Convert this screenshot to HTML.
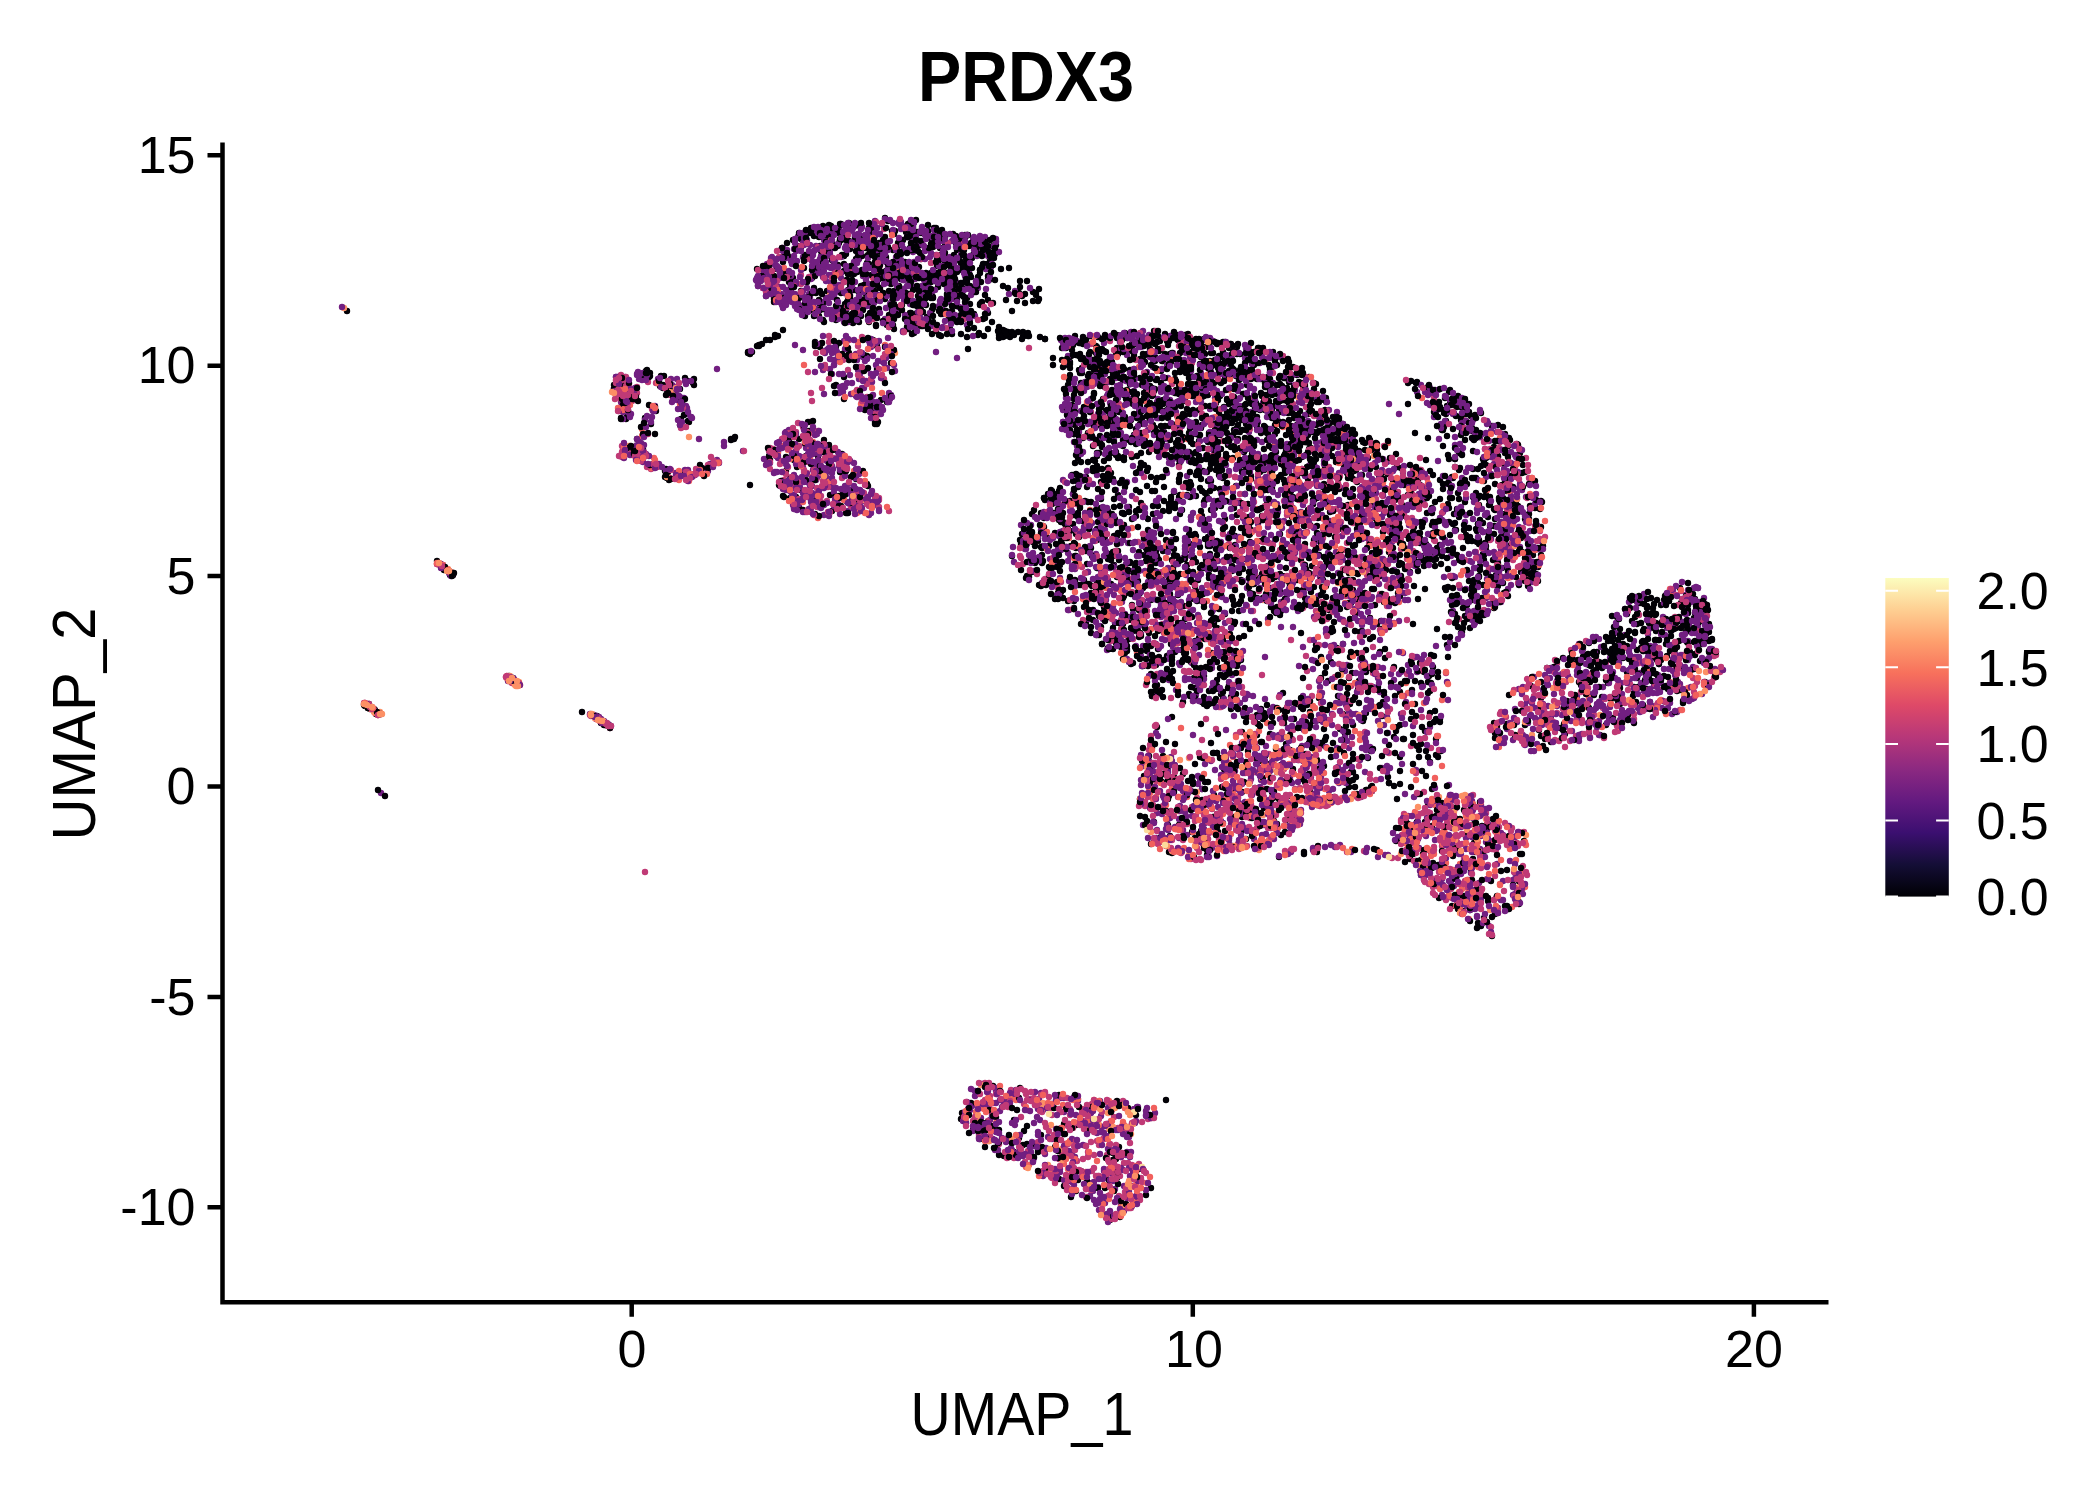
<!DOCTYPE html>
<html><head><meta charset="utf-8"><title>PRDX3</title><style>
html,body{margin:0;padding:0;background:#fff;width:2100px;height:1500px;overflow:hidden;}
svg{display:block;}
text{font-family:"Liberation Sans",sans-serif;fill:#000;}
</style></head><body>
<svg width="2100" height="1500" viewBox="0 0 2100 1500">
<defs>
<linearGradient id="mg" x1="0" y1="1" x2="0" y2="0">
<stop offset="0" stop-color="#000004"/>
<stop offset="0.1" stop-color="#140e36"/>
<stop offset="0.2" stop-color="#3b0f70"/>
<stop offset="0.3" stop-color="#641a80"/>
<stop offset="0.4" stop-color="#8c2981"/>
<stop offset="0.5" stop-color="#b73779"/>
<stop offset="0.6" stop-color="#de4968"/>
<stop offset="0.7" stop-color="#f7705c"/>
<stop offset="0.8" stop-color="#fe9f6d"/>
<stop offset="0.9" stop-color="#fecf92"/>
<stop offset="1" stop-color="#fcfdbf"/>
</linearGradient>
</defs>
<g fill="none" stroke-width="6.4" stroke-linecap="round">
<path stroke="#020106" d="M369 704h0M367 705h0M370 708h0M375 710h0M376 714h0M437 561h0M450 575h0M509 676h0M508 678h0M519 684h0M582 712h0M597 716h0M597 717h0M650 373h0M650 376h0M634 394h0M638 401h0M656 411h0M627 417h0M621 418h0M651 424h0M637 439h0M634 447h0M637 449h0M641 460h0M664 376h0M661 376h0M694 379h0M688 381h0M693 382h0M660 386h0M667 390h0M675 390h0M683 400h0M681 419h0M689 422h0M680 425h0M666 469h0M685 471h0M665 471h0M668 472h0M667 477h0M700 465h0M757 269h0M763 275h0M778 287h0M762 344h0M759 345h0M814 236h0M798 237h0M797 246h0M783 258h0M783 272h0M789 276h0M792 278h0M793 278h0M789 282h0M792 282h0M816 293h0M815 342h0M815 346h0M820 347h0M809 431h0M807 435h0M799 439h0M789 441h0M808 448h0M786 471h0M790 478h0M800 489h0M801 490h0M796 497h0M790 498h0M799 507h0M815 514h0M827 231h0M832 234h0M841 240h0M840 240h0M851 243h0M850 246h0M844 256h0M856 259h0M838 265h0M852 266h0M846 267h0M844 271h0M857 272h0M839 273h0M844 281h0M850 285h0M851 289h0M820 291h0M824 302h0M845 304h0M841 308h0M826 310h0M844 317h0M849 318h0M853 319h0M836 320h0M859 322h0M853 323h0M849 353h0M842 358h0M839 359h0M849 360h0M844 399h0M842 454h0M839 454h0M842 466h0M856 479h0M853 489h0M830 495h0M854 497h0M855 506h0M832 511h0M888 221h0M873 228h0M869 228h0M893 231h0M892 231h0M869 233h0M872 240h0M866 242h0M898 243h0M879 243h0M869 245h0M869 245h0M898 246h0M893 250h0M879 251h0M898 252h0M876 253h0M868 255h0M897 257h0M886 259h0M867 263h0M869 264h0M885 273h0M879 279h0M891 284h0M867 287h0M880 288h0M868 293h0M883 293h0M865 293h0M867 299h0M865 299h0M866 303h0M891 303h0M879 309h0M898 309h0M889 315h0M875 316h0M869 322h0M876 326h0M873 340h0M893 353h0M866 359h0M891 363h0M869 406h0M873 412h0M875 424h0M867 484h0M860 497h0M875 499h0M910 223h0M918 232h0M937 235h0M915 235h0M932 242h0M914 244h0M938 244h0M919 245h0M920 245h0M910 248h0M904 250h0M920 253h0M937 258h0M921 259h0M906 267h0M908 273h0M912 273h0M919 276h0M938 276h0M923 276h0M907 277h0M935 277h0M916 277h0M904 278h0M901 279h0M912 279h0M903 289h0M910 294h0M926 295h0M918 296h0M933 298h0M911 300h0M918 304h0M926 305h0M902 305h0M901 308h0M921 310h0M910 313h0M927 317h0M908 329h0M932 334h0M912 334h0M942 230h0M966 236h0M962 240h0M956 243h0M945 246h0M957 250h0M972 258h0M966 259h0M945 262h0M951 270h0M963 270h0M962 270h0M941 273h0M978 277h0M951 278h0M967 283h0M945 283h0M944 284h0M976 287h0M954 291h0M956 295h0M980 305h0M973 314h0M961 315h0M949 317h0M967 318h0M959 320h0M953 320h0M961 322h0M974 328h0M950 329h0M952 334h0M967 337h0M962 1113h0M961 1119h0M973 1130h0M980 1139h0M980 242h0M984 244h0M996 245h0M995 245h0M982 247h0M994 247h0M987 248h0M996 252h0M992 253h0M995 254h0M994 258h0M990 260h0M984 264h0M983 264h0M987 264h0M986 269h0M988 276h0M1017 301h0M982 302h0M988 313h0M999 327h0M1003 335h0M1010 337h0M1007 1098h0M994 1111h0M996 1117h0M1007 1141h0M1014 1152h0M999 1155h0M1039 299h0M1025 303h0M1023 332h0M1045 339h0M1051 490h0M1052 491h0M1058 495h0M1045 500h0M1052 504h0M1034 510h0M1041 513h0M1059 513h0M1057 518h0M1059 520h0M1029 530h0M1024 532h0M1032 533h0M1055 533h0M1022 534h0M1046 535h0M1032 537h0M1038 541h0M1049 546h0M1042 548h0M1042 555h0M1035 563h0M1042 563h0M1035 563h0M1049 567h0M1021 570h0M1032 572h0M1027 576h0M1039 585h0M1058 593h0M1057 1098h0M1045 1107h0M1041 1135h0M1023 1145h0M1090 336h0M1098 337h0M1086 340h0M1082 342h0M1068 342h0M1065 344h0M1073 345h0M1096 346h0M1097 347h0M1066 348h0M1100 351h0M1096 353h0M1080 354h0M1076 355h0M1079 356h0M1092 360h0M1065 362h0M1070 362h0M1099 365h0M1091 366h0M1069 366h0M1070 368h0M1099 369h0M1080 373h0M1089 374h0M1088 376h0M1092 376h0M1096 379h0M1080 387h0M1078 389h0M1074 389h0M1075 390h0M1094 393h0M1098 404h0M1072 405h0M1088 406h0M1073 406h0M1074 408h0M1099 409h0M1073 410h0M1068 416h0M1072 417h0M1081 422h0M1075 424h0M1093 424h0M1075 425h0M1088 433h0M1097 453h0M1093 468h0M1072 475h0M1086 477h0M1087 487h0M1060 488h0M1070 501h0M1085 501h0M1088 502h0M1091 502h0M1080 508h0M1098 522h0M1090 523h0M1065 524h0M1097 529h0M1070 531h0M1076 534h0M1065 538h0M1097 540h0M1076 548h0M1091 548h0M1087 564h0M1078 565h0M1072 568h0M1084 580h0M1074 581h0M1079 585h0M1092 586h0M1061 592h0M1091 593h0M1072 600h0M1068 601h0M1074 601h0M1084 607h0M1086 623h0M1076 1125h0M1064 1186h0M1073 1191h0M1071 1197h0M1117 335h0M1114 335h0M1139 336h0M1127 338h0M1117 338h0M1132 344h0M1117 348h0M1102 349h0M1118 353h0M1109 361h0M1109 363h0M1104 368h0M1101 368h0M1111 370h0M1133 374h0M1114 375h0M1123 377h0M1102 383h0M1124 394h0M1115 394h0M1124 395h0M1134 397h0M1103 399h0M1116 407h0M1101 407h0M1100 407h0M1140 408h0M1100 408h0M1119 409h0M1106 411h0M1109 412h0M1101 414h0M1131 420h0M1128 423h0M1101 426h0M1115 426h0M1113 432h0M1134 435h0M1126 440h0M1123 440h0M1100 442h0M1111 453h0M1116 455h0M1118 456h0M1108 456h0M1132 457h0M1108 468h0M1102 469h0M1111 473h0M1108 474h0M1113 479h0M1136 490h0M1101 499h0M1114 507h0M1139 509h0M1110 515h0M1132 519h0M1113 520h0M1124 525h0M1101 538h0M1108 559h0M1119 560h0M1130 562h0M1135 567h0M1133 572h0M1118 573h0M1111 584h0M1102 586h0M1126 593h0M1104 607h0M1109 609h0M1139 610h0M1109 613h0M1112 614h0M1132 620h0M1115 623h0M1128 636h0M1119 637h0M1117 638h0M1129 639h0M1108 648h0M1128 1108h0M1119 1147h0M1113 1153h0M1113 1160h0M1130 1167h0M1139 1169h0M1134 1174h0M1133 1174h0M1117 1178h0M1133 1201h0M1101 1212h0M1120 1217h0M1110 1220h0M1155 335h0M1166 338h0M1177 339h0M1150 340h0M1160 341h0M1146 342h0M1149 342h0M1143 354h0M1145 355h0M1155 360h0M1162 361h0M1145 362h0M1143 362h0M1157 369h0M1161 371h0M1143 382h0M1144 385h0M1150 386h0M1169 390h0M1146 391h0M1144 393h0M1175 393h0M1179 394h0M1163 400h0M1147 401h0M1160 402h0M1169 407h0M1156 411h0M1147 416h0M1168 418h0M1179 420h0M1172 424h0M1169 426h0M1178 429h0M1164 432h0M1154 433h0M1154 433h0M1167 435h0M1140 437h0M1165 439h0M1159 440h0M1150 443h0M1176 449h0M1178 452h0M1167 455h0M1178 457h0M1141 463h0M1179 465h0M1147 471h0M1151 477h0M1179 479h0M1147 486h0M1179 497h0M1171 497h0M1153 506h0M1154 533h0M1166 540h0M1171 544h0M1167 548h0M1146 548h0M1153 550h0M1163 551h0M1156 551h0M1144 555h0M1152 562h0M1176 564h0M1173 568h0M1173 570h0M1155 571h0M1147 574h0M1177 577h0M1173 582h0M1169 583h0M1175 587h0M1180 589h0M1140 593h0M1178 595h0M1163 600h0M1151 600h0M1172 601h0M1166 603h0M1164 603h0M1165 604h0M1151 646h0M1150 646h0M1147 651h0M1175 652h0M1167 656h0M1156 665h0M1152 665h0M1163 680h0M1151 692h0M1154 692h0M1178 695h0M1152 696h0M1172 717h0M1143 748h0M1163 756h0M1148 773h0M1174 777h0M1162 782h0M1173 783h0M1172 784h0M1167 797h0M1147 821h0M1161 837h0M1169 852h0M1151 1188h0M1188 334h0M1185 335h0M1204 339h0M1196 339h0M1196 344h0M1187 349h0M1180 353h0M1205 354h0M1198 355h0M1219 356h0M1220 357h0M1191 360h0M1210 361h0M1214 362h0M1212 362h0M1187 363h0M1183 363h0M1200 364h0M1209 367h0M1212 376h0M1211 381h0M1202 388h0M1184 392h0M1197 393h0M1220 396h0M1182 397h0M1218 400h0M1216 403h0M1199 410h0M1190 414h0M1217 418h0M1220 422h0M1201 428h0M1209 433h0M1199 435h0M1215 437h0M1183 437h0M1215 438h0M1214 439h0M1199 441h0M1193 444h0M1203 448h0M1180 450h0M1182 451h0M1217 457h0M1199 458h0M1199 459h0M1212 463h0M1210 469h0M1197 472h0M1196 475h0M1199 475h0M1211 481h0M1214 488h0M1220 489h0M1180 495h0M1196 496h0M1215 508h0M1182 510h0M1201 511h0M1202 516h0M1191 517h0M1210 531h0M1208 537h0M1205 539h0M1209 541h0M1208 544h0M1200 547h0M1187 550h0M1210 554h0M1185 559h0M1193 562h0M1196 562h0M1187 565h0M1209 570h0M1180 574h0M1198 580h0M1213 584h0M1182 587h0M1184 606h0M1204 607h0M1219 609h0M1192 617h0M1199 618h0M1185 619h0M1199 623h0M1214 623h0M1201 623h0M1212 624h0M1183 625h0M1217 628h0M1196 646h0M1184 647h0M1212 653h0M1185 655h0M1185 657h0M1191 662h0M1199 676h0M1203 685h0M1191 687h0M1219 688h0M1195 688h0M1214 689h0M1190 696h0M1204 697h0M1202 702h0M1211 743h0M1203 758h0M1195 764h0M1200 778h0M1193 782h0M1205 782h0M1214 795h0M1213 817h0M1212 819h0M1201 831h0M1192 832h0M1206 832h0M1230 344h0M1247 346h0M1237 347h0M1259 348h0M1249 351h0M1255 352h0M1235 353h0M1225 360h0M1254 365h0M1233 369h0M1248 370h0M1229 371h0M1225 376h0M1236 376h0M1248 376h0M1255 377h0M1251 379h0M1247 385h0M1244 394h0M1256 403h0M1255 408h0M1260 410h0M1232 410h0M1234 414h0M1245 417h0M1224 417h0M1242 420h0M1229 423h0M1238 425h0M1222 427h0M1220 428h0M1237 428h0M1238 439h0M1254 446h0M1235 450h0M1244 452h0M1253 457h0M1233 458h0M1228 458h0M1246 465h0M1246 467h0M1222 470h0M1242 472h0M1251 476h0M1223 478h0M1236 486h0M1254 494h0M1248 504h0M1258 510h0M1225 519h0M1249 526h0M1241 528h0M1250 534h0M1235 545h0M1231 547h0M1234 548h0M1242 550h0M1249 557h0M1234 558h0M1239 561h0M1232 571h0M1250 571h0M1239 573h0M1251 573h0M1249 578h0M1259 578h0M1251 599h0M1239 604h0M1234 605h0M1239 611h0M1230 634h0M1241 660h0M1227 664h0M1228 666h0M1220 668h0M1228 671h0M1229 685h0M1233 691h0M1221 694h0M1236 694h0M1246 695h0M1231 697h0M1223 698h0M1244 716h0M1253 717h0M1255 722h0M1258 724h0M1242 732h0M1257 735h0M1256 758h0M1246 762h0M1236 766h0M1233 787h0M1222 787h0M1255 788h0M1242 792h0M1250 810h0M1233 817h0M1246 839h0M1273 352h0M1281 356h0M1283 358h0M1269 365h0M1288 367h0M1297 375h0M1299 382h0M1265 383h0M1294 389h0M1284 394h0M1277 394h0M1290 396h0M1262 396h0M1284 400h0M1280 401h0M1276 401h0M1269 403h0M1289 404h0M1280 408h0M1285 409h0M1272 409h0M1287 411h0M1282 412h0M1292 412h0M1292 413h0M1277 415h0M1298 416h0M1294 418h0M1276 420h0M1264 426h0M1269 429h0M1281 441h0M1299 442h0M1275 443h0M1273 448h0M1264 449h0M1284 456h0M1290 457h0M1264 458h0M1288 459h0M1293 462h0M1273 462h0M1264 463h0M1281 464h0M1286 467h0M1273 469h0M1289 470h0M1285 470h0M1289 471h0M1285 473h0M1297 477h0M1294 478h0M1270 481h0M1285 490h0M1267 501h0M1285 506h0M1298 513h0M1276 516h0M1292 517h0M1297 521h0M1269 522h0M1276 522h0M1296 535h0M1261 541h0M1272 544h0M1293 549h0M1268 566h0M1263 569h0M1275 577h0M1297 580h0M1283 581h0M1290 581h0M1289 582h0M1265 584h0M1290 586h0M1277 607h0M1271 607h0M1281 611h0M1276 613h0M1297 704h0M1261 709h0M1285 710h0M1287 711h0M1263 716h0M1285 718h0M1273 723h0M1270 734h0M1286 744h0M1294 757h0M1293 769h0M1288 818h0M1286 820h0M1264 823h0M1302 368h0M1301 371h0M1309 377h0M1314 383h0M1301 383h0M1313 383h0M1303 385h0M1305 395h0M1325 398h0M1321 399h0M1311 399h0M1319 402h0M1325 410h0M1308 414h0M1339 418h0M1326 419h0M1339 420h0M1335 421h0M1302 428h0M1304 430h0M1324 431h0M1336 439h0M1325 439h0M1332 439h0M1338 445h0M1309 449h0M1311 451h0M1308 452h0M1302 457h0M1325 459h0M1310 459h0M1336 460h0M1325 461h0M1336 462h0M1326 470h0M1329 473h0M1308 479h0M1335 492h0M1304 494h0M1317 498h0M1313 504h0M1328 507h0M1321 508h0M1308 510h0M1326 523h0M1339 529h0M1335 537h0M1320 538h0M1321 543h0M1305 544h0M1319 555h0M1301 560h0M1312 566h0M1319 569h0M1322 587h0M1314 587h0M1303 590h0M1301 591h0M1311 592h0M1300 595h0M1305 598h0M1306 605h0M1329 610h0M1318 617h0M1321 618h0M1332 628h0M1330 632h0M1316 645h0M1337 648h0M1336 650h0M1321 657h0M1303 678h0M1328 681h0M1319 698h0M1322 743h0M1333 743h0M1320 746h0M1335 774h0M1334 797h0M1302 798h0M1317 805h0M1304 854h0M1343 424h0M1342 432h0M1343 433h0M1341 438h0M1351 442h0M1354 443h0M1372 446h0M1374 449h0M1365 450h0M1359 451h0M1354 451h0M1345 457h0M1376 467h0M1354 471h0M1347 473h0M1361 491h0M1374 494h0M1345 494h0M1373 505h0M1348 505h0M1349 510h0M1374 513h0M1374 518h0M1379 524h0M1376 546h0M1378 549h0M1372 553h0M1355 557h0M1375 571h0M1349 573h0M1351 573h0M1358 574h0M1380 576h0M1341 578h0M1353 580h0M1362 584h0M1343 586h0M1353 590h0M1356 593h0M1354 593h0M1358 600h0M1351 603h0M1348 603h0M1375 605h0M1340 609h0M1362 631h0M1355 631h0M1364 635h0M1373 637h0M1343 644h0M1366 650h0M1357 653h0M1350 657h0M1363 661h0M1370 668h0M1349 678h0M1359 681h0M1378 687h0M1379 706h0M1366 713h0M1343 714h0M1363 721h0M1340 729h0M1344 730h0M1353 754h0M1368 758h0M1353 780h0M1355 787h0M1349 787h0M1345 791h0M1359 797h0M1374 849h0M1411 381h0M1408 383h0M1397 467h0M1401 468h0M1414 477h0M1393 480h0M1415 486h0M1382 503h0M1402 505h0M1416 506h0M1390 515h0M1381 517h0M1399 523h0M1392 525h0M1414 527h0M1383 532h0M1418 534h0M1406 535h0M1396 536h0M1411 538h0M1410 539h0M1420 543h0M1390 551h0M1414 557h0M1396 558h0M1384 561h0M1400 563h0M1418 571h0M1410 572h0M1401 576h0M1400 579h0M1399 584h0M1414 586h0M1398 593h0M1385 597h0M1388 599h0M1389 627h0M1381 629h0M1380 652h0M1385 658h0M1384 695h0M1383 702h0M1415 704h0M1382 716h0M1400 725h0M1397 727h0M1396 731h0M1413 735h0M1394 737h0M1389 745h0M1394 786h0M1418 794h0M1403 838h0M1416 844h0M1413 854h0M1410 859h0M1416 861h0M1435 390h0M1450 390h0M1428 392h0M1434 394h0M1458 396h0M1445 398h0M1458 398h0M1439 402h0M1450 403h0M1447 406h0M1456 406h0M1457 407h0M1444 410h0M1446 414h0M1444 427h0M1443 430h0M1428 438h0M1443 446h0M1448 455h0M1430 471h0M1452 477h0M1453 478h0M1440 480h0M1460 484h0M1458 493h0M1429 496h0M1459 499h0M1423 502h0M1448 504h0M1449 508h0M1432 513h0M1455 523h0M1432 525h0M1455 530h0M1420 533h0M1433 533h0M1437 553h0M1421 556h0M1459 560h0M1441 564h0M1425 589h0M1456 604h0M1452 605h0M1447 645h0M1420 663h0M1433 667h0M1424 672h0M1429 676h0M1438 677h0M1428 682h0M1431 683h0M1435 711h0M1440 719h0M1422 727h0M1436 739h0M1428 757h0M1428 803h0M1450 803h0M1436 816h0M1453 824h0M1432 826h0M1457 826h0M1456 848h0M1458 852h0M1423 854h0M1421 860h0M1433 863h0M1445 865h0M1452 906h0M1462 399h0M1469 404h0M1464 405h0M1461 407h0M1471 416h0M1461 418h0M1461 420h0M1498 425h0M1492 426h0M1471 430h0M1462 431h0M1471 431h0M1480 437h0M1465 440h0M1494 447h0M1484 462h0M1486 465h0M1478 469h0M1473 469h0M1484 481h0M1476 493h0M1473 497h0M1478 498h0M1489 499h0M1476 500h0M1479 505h0M1495 510h0M1486 515h0M1488 517h0M1478 524h0M1494 526h0M1488 532h0M1494 534h0M1466 535h0M1479 540h0M1472 541h0M1479 542h0M1484 555h0M1463 561h0M1461 561h0M1479 576h0M1478 583h0M1496 583h0M1483 585h0M1495 585h0M1486 585h0M1498 586h0M1472 587h0M1474 596h0M1472 600h0M1467 605h0M1494 608h0M1463 628h0M1470 628h0M1462 632h0M1495 738h0M1480 802h0M1467 833h0M1474 843h0M1488 848h0M1475 852h0M1473 859h0M1471 872h0M1463 897h0M1470 910h0M1492 917h0M1484 918h0M1478 923h0M1481 926h0M1505 434h0M1509 438h0M1510 440h0M1520 453h0M1517 455h0M1504 464h0M1523 465h0M1525 472h0M1514 475h0M1511 476h0M1505 479h0M1502 485h0M1507 491h0M1503 498h0M1513 501h0M1502 505h0M1530 506h0M1512 507h0M1535 508h0M1520 511h0M1505 514h0M1525 519h0M1503 535h0M1501 537h0M1521 538h0M1531 550h0M1533 555h0M1525 558h0M1502 568h0M1525 569h0M1521 572h0M1531 578h0M1538 581h0M1533 677h0M1531 686h0M1522 854h0M1541 501h0M1542 502h0M1540 509h0M1541 527h0M1542 549h0M1541 555h0M1579 682h0M1541 698h0M1577 699h0M1557 703h0M1568 707h0M1540 707h0M1551 719h0M1549 723h0M1564 724h0M1560 728h0M1565 734h0M1541 736h0M1543 746h0M1612 616h0M1617 617h0M1616 626h0M1606 637h0M1608 641h0M1605 650h0M1615 651h0M1597 652h0M1586 657h0M1615 659h0M1599 662h0M1602 668h0M1596 670h0M1590 682h0M1602 697h0M1611 699h0M1618 704h0M1600 735h0M1636 599h0M1632 600h0M1640 603h0M1656 623h0M1652 626h0M1629 631h0M1656 631h0M1635 633h0M1627 646h0M1646 647h0M1637 650h0M1623 658h0M1634 668h0M1652 673h0M1638 687h0M1642 687h0M1634 687h0M1647 689h0M1633 696h0M1650 702h0M1620 704h0M1628 715h0M1634 723h0M1680 588h0M1688 595h0M1664 600h0M1661 605h0M1685 611h0M1695 613h0M1688 613h0M1694 618h0M1662 622h0M1687 625h0M1676 628h0M1671 636h0M1679 641h0M1688 643h0M1690 652h0M1695 655h0M1660 658h0M1700 661h0M1676 667h0M1694 669h0M1686 671h0M1680 690h0M1702 610h0M1707 611h0M1705 639h0M1712 640h0M1702 644h0M1709 652h0M1705 682h0"/>
<path stroke="#721f81" d="M365 703h0M452 573h0M450 574h0M453 575h0M451 576h0M508 681h0M620 376h0M616 394h0M619 408h0M619 409h0M590 714h0M590 714h0M594 715h0M601 719h0M600 720h0M605 725h0M625 377h0M626 389h0M633 390h0M629 391h0M624 398h0M630 400h0M621 401h0M621 402h0M654 411h0M623 412h0M631 414h0M639 441h0M641 443h0M627 448h0M643 456h0M643 459h0M643 462h0M657 467h0M674 387h0M672 387h0M677 388h0M680 397h0M672 402h0M683 408h0M687 414h0M691 417h0M682 422h0M681 424h0M688 470h0M685 470h0M666 471h0M697 472h0M676 473h0M696 474h0M679 475h0M777 267h0M765 268h0M763 270h0M756 280h0M761 281h0M773 283h0M779 287h0M771 290h0M778 458h0M764 459h0M766 465h0M818 228h0M798 237h0M805 237h0M807 240h0M801 246h0M782 248h0M794 249h0M796 251h0M784 253h0M787 256h0M803 257h0M797 261h0M792 264h0M818 271h0M813 274h0M814 276h0M791 276h0M807 288h0M791 291h0M789 294h0M804 297h0M810 297h0M807 299h0M808 299h0M820 304h0M806 305h0M801 306h0M799 307h0M809 309h0M805 311h0M815 372h0M813 430h0M786 432h0M815 435h0M805 439h0M812 442h0M805 444h0M786 447h0M806 448h0M819 454h0M801 457h0M789 458h0M817 464h0M814 467h0M794 475h0M816 480h0M784 482h0M810 482h0M807 482h0M795 485h0M780 486h0M812 486h0M796 489h0M817 494h0M794 499h0M816 501h0M811 502h0M799 504h0M818 507h0M855 226h0M840 226h0M826 227h0M848 228h0M835 230h0M852 230h0M840 231h0M849 232h0M844 233h0M824 234h0M824 235h0M824 240h0M848 244h0M838 246h0M830 251h0M827 252h0M829 254h0M824 255h0M827 256h0M820 259h0M859 259h0M834 261h0M834 263h0M853 267h0M829 267h0M837 270h0M835 274h0M832 275h0M829 275h0M832 282h0M831 283h0M852 287h0M845 292h0M850 295h0M821 302h0M829 303h0M857 309h0M828 310h0M845 313h0M835 317h0M846 317h0M838 319h0M844 322h0M844 341h0M828 349h0M845 349h0M857 360h0M839 361h0M858 370h0M823 370h0M832 374h0M823 450h0M827 461h0M847 463h0M832 466h0M844 467h0M833 469h0M832 473h0M859 474h0M826 477h0M855 478h0M831 479h0M833 482h0M836 488h0M834 492h0M856 493h0M844 497h0M856 502h0M850 504h0M824 505h0M848 511h0M858 512h0M829 516h0M875 221h0M899 222h0M893 223h0M899 224h0M862 227h0M880 234h0M864 243h0M877 250h0M896 250h0M873 254h0M868 258h0M886 262h0M894 263h0M894 264h0M899 265h0M888 267h0M876 267h0M879 267h0M872 268h0M881 274h0M867 276h0M886 283h0M874 292h0M892 301h0M890 304h0M867 306h0M862 306h0M885 319h0M885 323h0M871 339h0M869 341h0M889 352h0M893 352h0M873 356h0M862 356h0M886 358h0M883 362h0M894 365h0M867 369h0M895 371h0M872 382h0M862 388h0M890 399h0M872 401h0M889 402h0M865 404h0M878 409h0M876 414h0M876 417h0M860 490h0M861 502h0M935 231h0M917 240h0M940 241h0M912 241h0M923 245h0M926 248h0M904 249h0M913 252h0M914 262h0M905 267h0M913 273h0M932 280h0M904 280h0M909 285h0M922 286h0M915 287h0M926 288h0M932 292h0M925 293h0M924 293h0M904 300h0M913 301h0M905 315h0M909 318h0M920 320h0M920 324h0M914 327h0M915 328h0M936 352h0M980 236h0M973 239h0M952 241h0M965 241h0M977 241h0M957 243h0M964 247h0M956 247h0M961 254h0M950 257h0M951 260h0M969 273h0M948 277h0M976 281h0M956 282h0M965 289h0M972 293h0M954 299h0M949 302h0M943 310h0M943 314h0M950 315h0M943 327h0M957 358h0M971 1089h0M975 1091h0M980 1108h0M973 1131h0M979 1135h0M979 1139h0M996 239h0M996 242h0M988 247h0M986 252h0M999 252h0M988 256h0M991 267h0M1009 294h0M1014 562h0M982 1084h0M1005 1102h0M981 1107h0M992 1115h0M981 1118h0M990 1120h0M988 1123h0M982 1128h0M998 1150h0M1059 494h0M1046 515h0M1045 516h0M1021 525h0M1031 525h0M1042 529h0M1059 536h0M1053 538h0M1027 544h0M1043 546h0M1026 549h0M1054 552h0M1050 559h0M1055 562h0M1059 562h0M1034 571h0M1054 584h0M1057 595h0M1035 1092h0M1041 1093h0M1039 1099h0M1042 1106h0M1051 1107h0M1038 1109h0M1027 1110h0M1040 1120h0M1034 1146h0M1046 1148h0M1045 1154h0M1042 1174h0M1043 1176h0M1065 338h0M1061 340h0M1097 353h0M1069 363h0M1093 364h0M1080 387h0M1066 398h0M1066 410h0M1090 422h0M1063 422h0M1088 424h0M1066 427h0M1079 432h0M1074 434h0M1093 438h0M1090 438h0M1097 475h0M1084 477h0M1063 480h0M1061 497h0M1070 511h0M1100 517h0M1067 532h0M1095 533h0M1061 550h0M1068 553h0M1096 554h0M1070 556h0M1094 559h0M1075 569h0M1081 578h0M1075 581h0M1075 586h0M1069 610h0M1092 612h0M1089 619h0M1061 1098h0M1064 1112h0M1071 1113h0M1083 1114h0M1076 1115h0M1082 1121h0M1085 1125h0M1097 1133h0M1069 1151h0M1070 1152h0M1075 1157h0M1092 1183h0M1089 1189h0M1093 1191h0M1090 1196h0M1094 1200h0M1131 332h0M1126 337h0M1139 340h0M1133 342h0M1126 352h0M1110 357h0M1123 368h0M1122 371h0M1116 378h0M1109 382h0M1103 386h0M1107 396h0M1118 398h0M1110 422h0M1129 424h0M1118 428h0M1102 429h0M1120 435h0M1114 440h0M1101 527h0M1105 530h0M1117 535h0M1105 539h0M1123 540h0M1110 542h0M1121 543h0M1128 543h0M1103 543h0M1125 558h0M1126 564h0M1106 567h0M1126 570h0M1102 571h0M1124 574h0M1108 580h0M1122 583h0M1108 584h0M1114 586h0M1135 594h0M1106 600h0M1113 606h0M1116 613h0M1106 613h0M1106 613h0M1125 614h0M1103 619h0M1115 622h0M1139 626h0M1138 632h0M1109 635h0M1136 646h0M1107 650h0M1101 1104h0M1112 1107h0M1101 1116h0M1102 1127h0M1131 1152h0M1127 1152h0M1104 1169h0M1113 1170h0M1133 1171h0M1104 1171h0M1111 1173h0M1117 1176h0M1130 1176h0M1104 1178h0M1103 1179h0M1113 1181h0M1124 1186h0M1136 1199h0M1105 1203h0M1121 1205h0M1127 1206h0M1108 1222h0M1143 331h0M1173 335h0M1170 336h0M1144 339h0M1173 353h0M1141 363h0M1162 369h0M1147 372h0M1161 392h0M1158 399h0M1170 400h0M1177 402h0M1171 402h0M1148 408h0M1147 410h0M1169 411h0M1176 412h0M1159 418h0M1157 418h0M1163 428h0M1154 435h0M1151 449h0M1161 452h0M1175 455h0M1169 458h0M1178 459h0M1159 498h0M1160 529h0M1167 532h0M1172 540h0M1144 540h0M1152 541h0M1147 543h0M1161 548h0M1147 553h0M1148 555h0M1147 559h0M1157 560h0M1178 564h0M1145 571h0M1157 572h0M1151 578h0M1148 582h0M1163 582h0M1163 591h0M1154 599h0M1149 599h0M1173 599h0M1173 600h0M1143 601h0M1148 605h0M1169 607h0M1166 610h0M1165 614h0M1159 615h0M1146 623h0M1170 623h0M1141 634h0M1148 639h0M1150 655h0M1169 659h0M1148 665h0M1169 680h0M1176 690h0M1157 695h0M1162 750h0M1171 757h0M1168 769h0M1150 771h0M1150 776h0M1170 778h0M1177 780h0M1141 785h0M1160 791h0M1142 793h0M1167 798h0M1157 813h0M1175 827h0M1157 830h0M1156 838h0M1179 838h0M1155 841h0M1155 1113h0M1211 340h0M1185 341h0M1188 343h0M1183 345h0M1184 347h0M1200 354h0M1190 357h0M1214 364h0M1200 365h0M1209 369h0M1201 373h0M1205 377h0M1204 378h0M1207 381h0M1188 386h0M1201 386h0M1207 387h0M1217 391h0M1202 394h0M1192 396h0M1215 398h0M1196 402h0M1214 407h0M1210 409h0M1218 419h0M1185 420h0M1182 426h0M1194 427h0M1210 432h0M1200 441h0M1181 446h0M1214 454h0M1189 456h0M1182 459h0M1189 461h0M1211 486h0M1183 495h0M1193 496h0M1193 513h0M1214 515h0M1191 517h0M1191 520h0M1201 522h0M1200 524h0M1211 533h0M1199 542h0M1191 556h0M1218 561h0M1219 569h0M1204 592h0M1201 601h0M1212 606h0M1212 612h0M1212 620h0M1213 620h0M1197 623h0M1206 625h0M1205 626h0M1191 629h0M1185 632h0M1184 636h0M1200 646h0M1215 653h0M1199 655h0M1195 659h0M1192 663h0M1212 668h0M1214 687h0M1198 689h0M1196 695h0M1206 700h0M1215 770h0M1198 784h0M1181 784h0M1184 789h0M1183 791h0M1183 800h0M1203 801h0M1216 801h0M1210 806h0M1218 807h0M1185 812h0M1192 816h0M1186 820h0M1202 826h0M1187 835h0M1207 843h0M1213 845h0M1212 848h0M1217 856h0M1246 349h0M1245 358h0M1228 360h0M1252 364h0M1223 367h0M1249 375h0M1226 376h0M1250 386h0M1222 394h0M1254 395h0M1249 398h0M1240 406h0M1249 421h0M1226 441h0M1246 446h0M1251 447h0M1244 450h0M1242 451h0M1250 461h0M1250 463h0M1244 473h0M1258 477h0M1240 478h0M1237 486h0M1252 489h0M1221 493h0M1236 501h0M1253 509h0M1232 517h0M1243 518h0M1230 534h0M1228 545h0M1236 546h0M1228 559h0M1243 559h0M1242 559h0M1224 560h0M1237 568h0M1224 575h0M1222 582h0M1223 584h0M1230 586h0M1224 613h0M1255 621h0M1225 623h0M1232 641h0M1228 643h0M1234 654h0M1220 656h0M1224 669h0M1232 675h0M1238 681h0M1221 691h0M1253 696h0M1224 705h0M1231 707h0M1242 743h0M1255 748h0M1258 757h0M1228 765h0M1235 771h0M1259 771h0M1230 772h0M1221 775h0M1251 779h0M1239 790h0M1230 795h0M1238 798h0M1237 801h0M1242 810h0M1258 818h0M1221 821h0M1231 824h0M1252 833h0M1229 840h0M1240 842h0M1230 845h0M1262 349h0M1274 356h0M1298 374h0M1293 375h0M1264 378h0M1296 385h0M1280 392h0M1298 396h0M1263 403h0M1279 408h0M1284 408h0M1289 408h0M1292 438h0M1295 440h0M1262 442h0M1287 444h0M1276 447h0M1293 451h0M1279 460h0M1261 466h0M1265 486h0M1293 489h0M1291 489h0M1278 495h0M1290 503h0M1277 504h0M1293 508h0M1278 512h0M1299 517h0M1284 521h0M1282 528h0M1297 531h0M1299 531h0M1271 535h0M1293 538h0M1275 540h0M1297 541h0M1269 543h0M1260 551h0M1295 553h0M1263 556h0M1267 578h0M1292 586h0M1260 588h0M1289 589h0M1291 593h0M1287 595h0M1270 595h0M1269 597h0M1281 602h0M1271 603h0M1283 606h0M1284 609h0M1298 611h0M1281 627h0M1265 657h0M1273 707h0M1270 715h0M1293 719h0M1299 724h0M1288 728h0M1279 735h0M1266 746h0M1299 750h0M1275 759h0M1290 778h0M1261 780h0M1285 782h0M1284 783h0M1274 790h0M1260 792h0M1292 805h0M1293 820h0M1266 824h0M1300 824h0M1272 825h0M1289 826h0M1292 829h0M1276 829h0M1262 835h0M1274 839h0M1291 852h0M1302 392h0M1308 395h0M1304 399h0M1317 399h0M1326 402h0M1308 408h0M1305 415h0M1308 422h0M1304 424h0M1338 430h0M1338 447h0M1309 452h0M1322 453h0M1324 461h0M1317 468h0M1334 476h0M1305 476h0M1301 492h0M1323 494h0M1304 514h0M1322 515h0M1322 518h0M1300 520h0M1330 521h0M1336 525h0M1324 533h0M1322 538h0M1315 542h0M1319 548h0M1336 552h0M1315 553h0M1304 554h0M1302 554h0M1328 559h0M1329 565h0M1314 574h0M1323 574h0M1322 577h0M1320 577h0M1333 581h0M1335 590h0M1302 593h0M1318 596h0M1309 599h0M1337 604h0M1324 616h0M1331 646h0M1319 681h0M1320 687h0M1300 703h0M1301 707h0M1319 715h0M1329 720h0M1307 725h0M1335 734h0M1318 745h0M1302 746h0M1337 748h0M1301 750h0M1310 774h0M1311 777h0M1321 777h0M1339 783h0M1329 791h0M1316 793h0M1317 793h0M1312 794h0M1318 805h0M1313 848h0M1343 424h0M1344 430h0M1351 432h0M1342 432h0M1350 442h0M1361 460h0M1351 464h0M1361 475h0M1378 482h0M1366 486h0M1362 487h0M1376 493h0M1369 496h0M1372 497h0M1376 504h0M1375 507h0M1361 511h0M1364 515h0M1353 517h0M1378 517h0M1356 522h0M1370 522h0M1359 540h0M1370 544h0M1367 560h0M1360 590h0M1361 593h0M1364 601h0M1365 605h0M1371 606h0M1355 609h0M1357 612h0M1363 618h0M1343 620h0M1367 621h0M1348 624h0M1373 627h0M1379 654h0M1360 659h0M1364 662h0M1378 667h0M1345 671h0M1361 678h0M1378 678h0M1369 686h0M1373 687h0M1346 699h0M1371 709h0M1349 712h0M1364 713h0M1366 746h0M1370 747h0M1360 760h0M1346 783h0M1399 414h0M1387 462h0M1393 471h0M1419 477h0M1408 480h0M1398 483h0M1409 485h0M1395 486h0M1385 488h0M1394 496h0M1389 499h0M1392 500h0M1384 513h0M1416 523h0M1399 531h0M1418 542h0M1392 542h0M1400 542h0M1389 545h0M1381 559h0M1385 561h0M1413 563h0M1414 565h0M1415 566h0M1384 567h0M1382 574h0M1405 600h0M1399 621h0M1403 653h0M1408 665h0M1383 668h0M1391 674h0M1394 680h0M1380 692h0M1385 705h0M1401 714h0M1413 726h0M1416 770h0M1414 797h0M1408 816h0M1405 829h0M1413 831h0M1418 839h0M1413 841h0M1402 842h0M1438 390h0M1450 400h0M1458 402h0M1427 403h0M1451 404h0M1450 405h0M1453 414h0M1434 417h0M1455 437h0M1449 479h0M1451 486h0M1423 487h0M1424 499h0M1443 512h0M1425 520h0M1442 520h0M1435 527h0M1445 540h0M1453 548h0M1433 551h0M1454 563h0M1453 611h0M1436 646h0M1427 676h0M1447 682h0M1423 686h0M1421 710h0M1430 727h0M1436 743h0M1451 795h0M1455 799h0M1427 801h0M1451 801h0M1440 815h0M1424 830h0M1431 852h0M1428 869h0M1444 869h0M1447 869h0M1457 876h0M1424 880h0M1446 888h0M1473 420h0M1487 421h0M1466 421h0M1494 426h0M1491 431h0M1473 439h0M1460 444h0M1491 450h0M1494 464h0M1471 468h0M1491 474h0M1486 477h0M1462 478h0M1460 489h0M1461 507h0M1466 515h0M1465 522h0M1483 532h0M1470 561h0M1472 562h0M1488 572h0M1471 573h0M1468 575h0M1489 579h0M1498 581h0M1474 582h0M1478 587h0M1486 598h0M1476 601h0M1469 602h0M1481 602h0M1468 611h0M1462 635h0M1495 729h0M1461 823h0M1488 824h0M1461 827h0M1487 830h0M1472 837h0M1466 838h0M1490 841h0M1486 842h0M1492 846h0M1487 850h0M1461 854h0M1482 858h0M1472 868h0M1464 871h0M1471 873h0M1468 886h0M1476 890h0M1480 905h0M1489 926h0M1502 434h0M1502 437h0M1503 450h0M1511 452h0M1515 455h0M1511 463h0M1532 479h0M1511 479h0M1532 483h0M1520 484h0M1522 490h0M1536 494h0M1526 497h0M1501 505h0M1519 511h0M1502 515h0M1501 522h0M1508 524h0M1537 525h0M1519 527h0M1507 535h0M1505 542h0M1517 544h0M1529 548h0M1529 549h0M1508 556h0M1526 565h0M1508 568h0M1533 570h0M1523 574h0M1508 577h0M1532 582h0M1508 589h0M1501 602h0M1534 677h0M1522 692h0M1527 701h0M1535 708h0M1515 709h0M1502 714h0M1530 716h0M1537 720h0M1517 722h0M1523 735h0M1524 737h0M1529 740h0M1501 833h0M1511 842h0M1510 861h0M1515 873h0M1513 895h0M1542 542h0M1579 644h0M1574 660h0M1577 671h0M1577 675h0M1545 675h0M1558 682h0M1561 684h0M1543 690h0M1577 696h0M1563 699h0M1577 700h0M1548 706h0M1557 706h0M1562 715h0M1551 715h0M1551 720h0M1549 720h0M1571 721h0M1542 725h0M1541 725h0M1579 741h0M1616 623h0M1601 647h0M1610 658h0M1613 672h0M1612 674h0M1591 676h0M1580 677h0M1615 678h0M1603 687h0M1588 693h0M1604 698h0M1620 702h0M1603 706h0M1596 708h0M1608 714h0M1609 719h0M1613 721h0M1589 733h0M1599 735h0M1644 594h0M1629 602h0M1637 602h0M1649 629h0M1659 640h0M1634 641h0M1650 646h0M1645 647h0M1644 651h0M1653 652h0M1635 657h0M1651 659h0M1633 660h0M1659 664h0M1648 670h0M1640 673h0M1621 683h0M1654 683h0M1644 683h0M1654 686h0M1653 693h0M1647 694h0M1622 694h0M1655 706h0M1629 711h0M1640 712h0M1686 595h0M1699 602h0M1691 602h0M1663 617h0M1690 621h0M1696 622h0M1674 624h0M1698 626h0M1668 628h0M1667 628h0M1688 641h0M1673 649h0M1673 650h0M1660 654h0M1683 656h0M1660 656h0M1686 656h0M1690 656h0M1673 659h0M1676 660h0M1693 667h0M1661 683h0M1680 684h0M1694 698h0M1669 701h0M1662 708h0M1677 712h0M1702 602h0M1703 631h0M1708 640h0M1709 683h0M1702 694h0"/>
<path stroke="#c03a76" d="M369 704h0M372 707h0M439 563h0M441 565h0M507 678h0M509 681h0M512 681h0M517 682h0M515 683h0M516 683h0M592 715h0M593 716h0M600 721h0M603 723h0M609 726h0M626 377h0M624 380h0M648 382h0M656 383h0M620 386h0M627 389h0M623 389h0M624 390h0M637 393h0M625 396h0M632 398h0M621 399h0M630 402h0M652 409h0M648 434h0M640 451h0M622 452h0M631 453h0M622 457h0M624 457h0M639 458h0M639 459h0M641 461h0M659 466h0M651 469h0M661 386h0M673 390h0M686 427h0M681 428h0M696 469h0M671 470h0M693 476h0M670 478h0M711 457h0M707 468h0M702 469h0M779 257h0M770 469h0M781 257h0M817 267h0M811 278h0M801 284h0M812 310h0M810 422h0M818 431h0M782 439h0M796 445h0M810 448h0M811 450h0M796 460h0M808 462h0M807 473h0M817 478h0M784 480h0M804 481h0M810 486h0M792 487h0M807 494h0M799 499h0M817 507h0M823 253h0M835 272h0M856 309h0M838 314h0M829 336h0M822 343h0M858 346h0M843 360h0M831 464h0M847 468h0M845 472h0M824 476h0M842 478h0M856 493h0M821 502h0M839 508h0M876 222h0M884 229h0M895 247h0M880 266h0M893 309h0M889 319h0M873 319h0M869 321h0M862 337h0M884 379h0M876 413h0M875 496h0M879 500h0M889 511h0M913 221h0M921 259h0M964 319h0M946 328h0M978 1094h0M978 1108h0M965 1116h0M977 1117h0M1018 565h0M985 1083h0M1011 1090h0M1001 1092h0M989 1097h0M985 1100h0M993 1103h0M990 1109h0M988 1121h0M986 1130h0M999 1144h0M1014 1158h0M1059 517h0M1053 558h0M1021 558h0M1023 564h0M1045 579h0M1044 580h0M1058 588h0M1045 1093h0M1030 1099h0M1024 1104h0M1046 1105h0M1051 1108h0M1049 1131h0M1057 1133h0M1040 1147h0M1059 1159h0M1059 1171h0M1045 1172h0M1051 1177h0M1052 1178h0M1091 344h0M1084 409h0M1091 412h0M1097 423h0M1065 482h0M1061 505h0M1082 567h0M1061 582h0M1083 620h0M1092 1104h0M1070 1109h0M1091 1111h0M1070 1115h0M1086 1121h0M1073 1128h0M1065 1144h0M1075 1146h0M1061 1150h0M1062 1153h0M1088 1157h0M1077 1161h0M1086 1172h0M1072 1173h0M1086 1187h0M1086 1189h0M1091 1190h0M1140 333h0M1110 341h0M1134 369h0M1119 404h0M1109 424h0M1104 523h0M1116 572h0M1110 591h0M1101 593h0M1106 605h0M1139 608h0M1121 620h0M1136 621h0M1134 623h0M1133 639h0M1126 649h0M1107 1102h0M1102 1112h0M1132 1123h0M1118 1128h0M1103 1139h0M1116 1145h0M1107 1155h0M1124 1163h0M1128 1163h0M1139 1164h0M1132 1167h0M1109 1169h0M1137 1182h0M1109 1185h0M1125 1192h0M1119 1196h0M1108 1196h0M1132 1197h0M1119 1197h0M1110 1217h0M1112 1219h0M1179 346h0M1142 379h0M1172 384h0M1149 392h0M1144 477h0M1145 545h0M1162 572h0M1159 588h0M1165 590h0M1147 595h0M1165 606h0M1167 618h0M1170 619h0M1155 622h0M1171 624h0M1167 629h0M1176 630h0M1173 633h0M1172 638h0M1154 666h0M1157 674h0M1146 685h0M1159 690h0M1149 750h0M1174 752h0M1155 763h0M1145 766h0M1172 777h0M1178 779h0M1145 806h0M1152 809h0M1171 813h0M1153 816h0M1172 840h0M1160 842h0M1171 848h0M1173 851h0M1152 1118h0M1148 1119h0M1141 1168h0M1183 344h0M1186 362h0M1192 363h0M1215 404h0M1202 414h0M1182 419h0M1212 539h0M1214 541h0M1216 560h0M1188 589h0M1188 606h0M1181 612h0M1182 613h0M1200 635h0M1194 656h0M1192 661h0M1199 675h0M1199 680h0M1219 707h0M1206 719h0M1211 806h0M1192 807h0M1212 809h0M1200 811h0M1196 816h0M1195 817h0M1210 818h0M1210 819h0M1210 823h0M1208 839h0M1196 843h0M1203 844h0M1213 844h0M1199 852h0M1253 374h0M1238 388h0M1253 400h0M1224 408h0M1222 460h0M1229 475h0M1258 486h0M1243 507h0M1223 523h0M1259 534h0M1239 540h0M1229 544h0M1222 548h0M1255 574h0M1234 624h0M1228 647h0M1224 653h0M1228 653h0M1231 699h0M1234 700h0M1221 707h0M1255 743h0M1246 745h0M1251 759h0M1250 782h0M1224 786h0M1255 789h0M1258 793h0M1236 808h0M1226 811h0M1230 813h0M1240 814h0M1251 816h0M1242 816h0M1250 818h0M1236 820h0M1257 828h0M1236 830h0M1252 830h0M1238 844h0M1247 846h0M1229 848h0M1232 850h0M1283 356h0M1266 359h0M1278 385h0M1265 406h0M1292 407h0M1294 432h0M1270 473h0M1297 474h0M1264 479h0M1293 483h0M1299 500h0M1272 503h0M1291 505h0M1287 512h0M1292 528h0M1289 532h0M1263 542h0M1286 544h0M1273 545h0M1294 552h0M1278 554h0M1292 554h0M1295 559h0M1292 564h0M1267 571h0M1277 584h0M1300 704h0M1287 707h0M1284 717h0M1287 751h0M1286 753h0M1284 755h0M1284 769h0M1261 789h0M1295 789h0M1264 797h0M1292 802h0M1270 806h0M1269 809h0M1276 815h0M1298 816h0M1295 822h0M1284 826h0M1271 828h0M1269 843h0M1291 850h0M1306 377h0M1305 384h0M1303 389h0M1306 400h0M1306 407h0M1312 414h0M1302 469h0M1336 476h0M1311 476h0M1330 481h0M1331 483h0M1300 484h0M1319 493h0M1319 493h0M1320 494h0M1323 500h0M1336 509h0M1315 511h0M1311 526h0M1336 529h0M1337 531h0M1323 538h0M1305 548h0M1310 558h0M1320 564h0M1303 564h0M1321 574h0M1312 577h0M1308 585h0M1304 585h0M1313 599h0M1332 602h0M1301 607h0M1324 608h0M1303 608h0M1316 611h0M1327 619h0M1331 653h0M1306 656h0M1307 671h0M1335 677h0M1309 687h0M1320 692h0M1304 717h0M1319 749h0M1301 757h0M1309 763h0M1311 775h0M1311 795h0M1308 797h0M1328 801h0M1328 804h0M1328 805h0M1323 805h0M1348 436h0M1375 456h0M1341 463h0M1356 468h0M1349 474h0M1351 475h0M1360 479h0M1376 481h0M1365 484h0M1370 498h0M1369 506h0M1346 506h0M1357 511h0M1356 517h0M1341 522h0M1353 523h0M1364 532h0M1369 543h0M1347 543h0M1379 559h0M1360 560h0M1379 565h0M1368 569h0M1346 587h0M1351 590h0M1350 591h0M1380 594h0M1350 595h0M1361 595h0M1346 596h0M1355 598h0M1360 605h0M1342 650h0M1362 653h0M1369 667h0M1362 668h0M1371 686h0M1351 686h0M1342 714h0M1376 780h0M1370 790h0M1365 793h0M1353 850h0M1364 851h0M1385 462h0M1385 464h0M1420 470h0M1418 479h0M1406 480h0M1401 480h0M1418 486h0M1398 492h0M1412 494h0M1398 499h0M1418 501h0M1395 507h0M1403 509h0M1404 514h0M1390 532h0M1401 540h0M1401 549h0M1413 551h0M1418 554h0M1410 565h0M1388 580h0M1387 606h0M1394 613h0M1394 623h0M1385 630h0M1407 674h0M1390 709h0M1389 753h0M1419 814h0M1404 814h0M1401 820h0M1402 835h0M1416 853h0M1409 856h0M1398 858h0M1414 861h0M1422 472h0M1426 498h0M1442 513h0M1459 619h0M1422 664h0M1425 738h0M1431 748h0M1424 792h0M1442 805h0M1451 812h0M1449 819h0M1457 828h0M1458 836h0M1445 837h0M1457 842h0M1442 846h0M1454 850h0M1427 866h0M1453 870h0M1437 878h0M1435 884h0M1439 887h0M1457 904h0M1463 415h0M1491 466h0M1498 473h0M1476 552h0M1498 559h0M1489 568h0M1499 573h0M1495 601h0M1478 608h0M1480 612h0M1496 724h0M1473 795h0M1470 799h0M1469 801h0M1471 808h0M1472 812h0M1476 817h0M1495 823h0M1487 824h0M1465 825h0M1463 826h0M1499 827h0M1493 843h0M1462 844h0M1474 846h0M1494 848h0M1464 859h0M1473 863h0M1488 865h0M1465 867h0M1460 869h0M1468 888h0M1470 897h0M1491 927h0M1518 445h0M1526 458h0M1529 478h0M1527 498h0M1517 499h0M1507 509h0M1519 510h0M1515 520h0M1535 526h0M1512 527h0M1513 539h0M1518 554h0M1529 559h0M1519 567h0M1518 567h0M1511 577h0M1520 581h0M1536 583h0M1518 583h0M1502 600h0M1529 683h0M1535 687h0M1537 688h0M1508 724h0M1500 739h0M1524 832h0M1516 836h0M1511 839h0M1517 843h0M1518 846h0M1515 862h0M1514 872h0M1524 885h0M1522 890h0M1518 891h0M1504 891h0M1540 531h0M1545 537h0M1571 650h0M1555 660h0M1557 663h0M1554 672h0M1570 679h0M1543 696h0M1554 701h0M1569 702h0M1556 705h0M1544 710h0M1544 716h0M1546 720h0M1545 735h0M1576 736h0M1555 740h0M1559 741h0M1606 663h0M1581 679h0M1580 681h0M1610 697h0M1610 705h0M1603 708h0M1590 715h0M1594 715h0M1601 717h0M1618 731h0M1589 731h0M1590 737h0M1639 663h0M1630 684h0M1645 690h0M1659 690h0M1658 703h0M1657 705h0M1631 705h0M1634 714h0M1634 719h0M1681 591h0M1675 617h0M1675 623h0M1675 624h0M1697 631h0M1697 682h0M1674 683h0M1675 684h0M1670 700h0M1714 656h0M1716 675h0M1714 678h0"/>
<path stroke="#f1605d" d="M366 706h0M440 564h0M440 564h0M507 676h0M507 676h0M616 381h0M599 719h0M599 720h0M642 429h0M642 436h0M632 455h0M651 468h0M680 404h0M679 471h0M679 480h0M689 481h0M773 280h0M813 442h0M790 447h0M810 458h0M803 502h0M818 518h0M859 308h0M858 342h0M829 482h0M878 245h0M897 271h0M873 278h0M885 345h0M909 320h0M976 1112h0M1012 1098h0M993 1126h0M1008 1155h0M1047 549h0M1052 563h0M1026 1107h0M1026 1167h0M1039 1176h0M1098 372h0M1079 498h0M1090 510h0M1100 511h0M1069 538h0M1078 546h0M1083 599h0M1063 1105h0M1083 1111h0M1089 1122h0M1099 1125h0M1070 1141h0M1075 1159h0M1097 1161h0M1064 1164h0M1073 1179h0M1088 1186h0M1121 336h0M1139 367h0M1122 407h0M1106 588h0M1114 603h0M1137 653h0M1109 1101h0M1111 1121h0M1111 1166h0M1109 1199h0M1132 1199h0M1103 1204h0M1121 1207h0M1102 1210h0M1107 1215h0M1166 546h0M1172 570h0M1166 575h0M1151 629h0M1161 783h0M1155 787h0M1172 788h0M1149 788h0M1152 789h0M1156 797h0M1153 799h0M1166 805h0M1179 811h0M1144 1171h0M1187 347h0M1215 401h0M1187 439h0M1211 543h0M1200 553h0M1186 584h0M1211 590h0M1207 601h0M1200 639h0M1211 643h0M1214 654h0M1204 774h0M1187 797h0M1202 803h0M1204 806h0M1203 811h0M1220 818h0M1180 824h0M1193 832h0M1182 852h0M1249 346h0M1246 412h0M1237 412h0M1257 509h0M1226 546h0M1246 546h0M1240 553h0M1224 581h0M1241 673h0M1226 703h0M1259 731h0M1247 739h0M1243 742h0M1230 745h0M1233 757h0M1229 763h0M1243 768h0M1231 775h0M1239 787h0M1233 792h0M1236 796h0M1222 799h0M1249 805h0M1223 814h0M1231 834h0M1245 839h0M1222 842h0M1266 359h0M1283 427h0M1288 485h0M1294 509h0M1296 514h0M1267 723h0M1289 764h0M1270 782h0M1278 787h0M1264 800h0M1273 813h0M1269 823h0M1298 824h0M1298 825h0M1278 828h0M1269 840h0M1321 432h0M1301 456h0M1324 470h0M1324 519h0M1328 533h0M1322 546h0M1337 561h0M1335 562h0M1315 562h0M1306 584h0M1318 614h0M1313 706h0M1309 761h0M1310 761h0M1324 773h0M1325 789h0M1310 803h0M1352 504h0M1366 522h0M1340 552h0M1342 560h0M1350 583h0M1345 603h0M1353 656h0M1374 709h0M1361 796h0M1342 798h0M1352 849h0M1388 443h0M1383 483h0M1383 537h0M1405 548h0M1399 579h0M1399 602h0M1394 624h0M1385 626h0M1402 652h0M1406 683h0M1408 693h0M1416 780h0M1415 812h0M1413 833h0M1407 849h0M1443 506h0M1424 703h0M1432 799h0M1435 805h0M1444 831h0M1442 833h0M1452 837h0M1444 839h0M1441 841h0M1423 856h0M1446 863h0M1460 864h0M1440 868h0M1452 870h0M1447 872h0M1440 889h0M1456 906h0M1494 607h0M1499 747h0M1483 815h0M1496 832h0M1481 854h0M1481 862h0M1478 863h0M1470 867h0M1462 889h0M1500 438h0M1530 494h0M1513 525h0M1508 578h0M1539 674h0M1526 689h0M1530 709h0M1510 836h0M1526 845h0M1511 846h0M1516 860h0M1522 873h0M1500 884h0M1516 888h0M1512 907h0M1545 521h0M1577 700h0M1556 705h0M1566 712h0M1565 722h0M1553 722h0M1589 698h0M1588 703h0M1586 707h0M1620 727h0M1647 671h0M1657 708h0M1622 723h0M1681 590h0M1673 594h0M1673 687h0M1688 688h0M1661 700h0M1666 702h0M1704 685h0"/>
<path stroke="#fc9065" d="M441 566h0M449 571h0M448 571h0M451 572h0M507 678h0M509 679h0M519 682h0M520 685h0M629 446h0M630 446h0M672 391h0M791 435h0M788 450h0M783 472h0M862 500h0M973 1104h0M976 1118h0M1043 1103h0M1051 1125h0M1056 1129h0M1094 1100h0M1098 1123h0M1094 1129h0M1087 1130h0M1062 1149h0M1108 610h0M1114 1103h0M1135 1109h0M1100 1109h0M1109 1129h0M1152 779h0M1169 816h0M1141 1188h0M1209 362h0M1219 367h0M1199 574h0M1201 840h0M1238 455h0M1226 757h0M1234 846h0M1259 850h0M1270 384h0M1269 446h0M1267 587h0M1263 600h0M1277 756h0M1274 761h0M1286 767h0M1271 770h0M1282 773h0M1338 583h0M1334 687h0M1374 456h0M1380 548h0M1341 675h0M1410 828h0M1439 797h0M1467 830h0M1490 910h0M1540 548h0M1507 725h0M1553 688h0M1586 682h0M1700 694h0M1706 672h0"/>
<path stroke="#fcdc9c" d="M1124 1105h0M1142 1167h0M1296 802h0"/>
<path stroke="#020106" d="M347 311h0M366 705h0M365 706h0M368 708h0M374 709h0M370 709h0M377 712h0M441 565h0M440 565h0M441 567h0M453 573h0M512 678h0M513 678h0M618 393h0M599 719h0M601 723h0M604 723h0M609 725h0M608 726h0M646 371h0M639 375h0M623 386h0M627 390h0M621 391h0M649 405h0M624 409h0M626 419h0M643 434h0M633 448h0M623 456h0M623 456h0M685 378h0M693 383h0M694 385h0M663 385h0M672 386h0M666 387h0M663 388h0M676 388h0M680 389h0M674 396h0M678 396h0M673 397h0M674 399h0M682 407h0M688 421h0M693 475h0M665 477h0M734 439h0M702 468h0M769 269h0M776 281h0M778 336h0M766 340h0M757 346h0M750 354h0M779 485h0M750 485h0M806 231h0M799 233h0M810 233h0M816 235h0M819 237h0M793 240h0M801 247h0M788 256h0M804 259h0M783 262h0M789 275h0M812 278h0M814 288h0M805 303h0M819 308h0M799 309h0M812 310h0M819 316h0M820 359h0M813 421h0M790 432h0M790 436h0M788 440h0M812 443h0M805 443h0M820 450h0M812 453h0M806 456h0M786 457h0M794 460h0M811 464h0M797 467h0M806 480h0M781 481h0M783 485h0M784 497h0M803 510h0M849 223h0M857 225h0M831 226h0M826 235h0M829 236h0M858 237h0M855 239h0M849 241h0M826 242h0M837 246h0M820 246h0M850 249h0M828 251h0M843 256h0M838 273h0M847 280h0M854 290h0M827 291h0M850 299h0M847 305h0M821 307h0M823 308h0M859 312h0M854 312h0M858 313h0M848 316h0M834 318h0M822 343h0M846 344h0M842 354h0M854 360h0M844 377h0M824 440h0M829 445h0M826 453h0M835 497h0M859 501h0M885 218h0M861 223h0M886 228h0M895 231h0M894 232h0M867 235h0M885 237h0M883 240h0M885 241h0M867 244h0M880 244h0M882 246h0M879 247h0M887 247h0M866 248h0M872 255h0M862 256h0M886 257h0M874 268h0M862 270h0M893 270h0M886 271h0M894 272h0M896 276h0M883 278h0M877 285h0M872 285h0M866 286h0M899 286h0M861 286h0M871 289h0M885 299h0M864 301h0M863 310h0M892 311h0M893 312h0M894 313h0M861 316h0M887 325h0M876 325h0M894 329h0M868 338h0M868 368h0M877 369h0M881 400h0M873 406h0M875 417h0M863 471h0M868 486h0M928 225h0M908 226h0M936 228h0M903 228h0M934 228h0M928 231h0M906 232h0M921 233h0M911 236h0M937 239h0M903 240h0M914 243h0M931 244h0M940 248h0M913 250h0M911 250h0M918 251h0M905 262h0M938 263h0M907 266h0M937 266h0M911 267h0M919 267h0M930 275h0M940 276h0M918 277h0M938 279h0M936 279h0M931 282h0M926 283h0M910 285h0M938 287h0M902 289h0M907 295h0M933 297h0M931 298h0M925 299h0M916 304h0M919 310h0M932 310h0M923 312h0M917 313h0M914 316h0M928 320h0M917 323h0M910 323h0M933 324h0M921 326h0M923 326h0M941 231h0M953 234h0M965 235h0M968 235h0M957 239h0M980 241h0M961 242h0M964 250h0M973 255h0M964 255h0M960 261h0M969 263h0M964 264h0M954 266h0M945 266h0M967 267h0M965 268h0M972 268h0M941 269h0M967 271h0M947 273h0M954 274h0M970 275h0M954 276h0M971 277h0M949 279h0M967 282h0M955 285h0M970 286h0M962 288h0M962 289h0M971 289h0M947 294h0M947 295h0M967 298h0M980 304h0M970 304h0M946 311h0M952 311h0M971 311h0M965 314h0M941 314h0M950 315h0M979 333h0M978 335h0M980 248h0M985 249h0M989 252h0M992 257h0M1009 268h0M980 270h0M988 279h0M989 280h0M981 282h0M1020 287h0M1008 288h0M1019 293h0M1016 294h0M981 303h0M1012 311h0M983 319h0M988 329h0M1003 330h0M1012 332h0M999 333h0M999 335h0M984 336h0M1005 336h0M999 338h0M1020 540h0M1012 556h0M989 1110h0M1017 1110h0M986 1123h0M999 1130h0M986 1130h0M1019 1138h0M998 1143h0M985 1147h0M995 1148h0M1004 1156h0M1027 281h0M1039 289h0M1036 295h0M1038 301h0M1023 336h0M1024 336h0M1053 358h0M1059 491h0M1054 494h0M1044 498h0M1047 513h0M1032 514h0M1044 518h0M1030 526h0M1043 526h0M1044 527h0M1026 534h0M1028 538h0M1021 544h0M1030 561h0M1043 561h0M1027 562h0M1057 567h0M1049 575h0M1051 594h0M1054 1108h0M1027 1126h0M1024 1131h0M1054 1138h0M1027 1144h0M1042 1147h0M1058 1151h0M1038 1151h0M1038 1152h0M1033 1161h0M1046 1170h0M1059 1179h0M1075 336h0M1083 337h0M1060 338h0M1074 339h0M1080 342h0M1072 350h0M1071 356h0M1068 358h0M1083 358h0M1063 367h0M1082 368h0M1095 370h0M1079 370h0M1070 375h0M1091 379h0M1069 380h0M1072 381h0M1081 383h0M1091 384h0M1064 389h0M1066 394h0M1074 395h0M1069 406h0M1084 407h0M1090 412h0M1067 415h0M1094 421h0M1072 424h0M1094 427h0M1082 427h0M1079 437h0M1093 446h0M1075 463h0M1097 470h0M1093 471h0M1077 475h0M1073 494h0M1079 503h0M1090 511h0M1075 515h0M1085 515h0M1078 517h0M1083 521h0M1061 522h0M1063 522h0M1068 536h0M1065 536h0M1079 537h0M1074 543h0M1071 546h0M1066 547h0M1066 548h0M1076 556h0M1092 556h0M1100 561h0M1074 565h0M1097 568h0M1088 572h0M1097 582h0M1087 584h0M1089 584h0M1096 591h0M1094 599h0M1086 607h0M1093 620h0M1091 633h0M1099 635h0M1092 1107h0M1066 1109h0M1064 1124h0M1090 1130h0M1064 1134h0M1081 1171h0M1078 1180h0M1087 1181h0M1076 1191h0M1134 332h0M1105 335h0M1110 338h0M1122 340h0M1132 351h0M1106 352h0M1116 353h0M1117 355h0M1112 362h0M1124 369h0M1130 370h0M1106 370h0M1117 374h0M1115 376h0M1123 380h0M1130 384h0M1100 386h0M1120 389h0M1127 390h0M1112 390h0M1129 392h0M1133 404h0M1102 405h0M1116 408h0M1139 412h0M1125 417h0M1109 418h0M1108 422h0M1114 425h0M1113 427h0M1120 427h0M1118 435h0M1100 436h0M1135 436h0M1109 440h0M1100 441h0M1138 443h0M1136 444h0M1123 446h0M1116 452h0M1118 458h0M1122 458h0M1138 472h0M1122 480h0M1101 482h0M1118 495h0M1129 507h0M1101 508h0M1106 518h0M1116 523h0M1107 524h0M1100 533h0M1117 536h0M1105 536h0M1103 539h0M1130 543h0M1139 552h0M1113 552h0M1113 556h0M1130 563h0M1114 565h0M1124 577h0M1101 583h0M1103 586h0M1101 587h0M1138 592h0M1132 605h0M1133 609h0M1105 613h0M1110 613h0M1128 620h0M1123 624h0M1113 628h0M1133 631h0M1120 635h0M1139 637h0M1126 642h0M1116 643h0M1102 644h0M1121 647h0M1135 647h0M1127 649h0M1109 649h0M1113 649h0M1123 659h0M1131 664h0M1117 1101h0M1115 1154h0M1115 1154h0M1106 1158h0M1105 1188h0M1114 1190h0M1113 1216h0M1154 331h0M1177 335h0M1178 340h0M1150 343h0M1150 349h0M1160 350h0M1159 351h0M1153 355h0M1140 359h0M1163 361h0M1155 361h0M1144 361h0M1180 372h0M1146 373h0M1175 373h0M1152 377h0M1140 378h0M1156 380h0M1161 383h0M1179 385h0M1142 385h0M1152 391h0M1152 396h0M1167 400h0M1140 405h0M1147 407h0M1148 407h0M1167 410h0M1149 413h0M1155 415h0M1141 418h0M1175 425h0M1165 426h0M1155 428h0M1140 434h0M1170 440h0M1159 446h0M1162 446h0M1155 449h0M1157 449h0M1149 452h0M1141 453h0M1180 454h0M1144 465h0M1162 477h0M1157 478h0M1156 482h0M1164 487h0M1152 491h0M1174 492h0M1140 492h0M1180 496h0M1164 501h0M1141 503h0M1169 505h0M1175 508h0M1140 510h0M1169 511h0M1163 511h0M1153 514h0M1145 516h0M1169 547h0M1147 550h0M1147 555h0M1174 555h0M1159 560h0M1157 560h0M1174 573h0M1168 574h0M1154 578h0M1169 578h0M1143 588h0M1170 594h0M1180 631h0M1149 633h0M1171 644h0M1158 649h0M1154 658h0M1143 666h0M1173 671h0M1166 674h0M1151 674h0M1173 683h0M1157 685h0M1157 691h0M1152 696h0M1157 727h0M1152 748h0M1142 761h0M1167 769h0M1176 769h0M1144 776h0M1150 783h0M1174 791h0M1174 792h0M1140 816h0M1145 817h0M1154 822h0M1179 825h0M1170 836h0M1172 853h0M1146 1195h0M1181 335h0M1183 343h0M1201 344h0M1206 347h0M1211 353h0M1206 361h0M1215 365h0M1214 365h0M1218 368h0M1208 368h0M1219 374h0M1199 379h0M1206 382h0M1202 383h0M1192 384h0M1217 395h0M1208 395h0M1200 396h0M1204 396h0M1198 396h0M1181 406h0M1205 406h0M1216 409h0M1219 412h0M1185 415h0M1220 416h0M1183 416h0M1206 419h0M1215 424h0M1192 424h0M1202 425h0M1189 433h0M1196 434h0M1200 435h0M1191 436h0M1182 440h0M1190 440h0M1215 442h0M1215 449h0M1187 452h0M1215 453h0M1218 454h0M1186 457h0M1201 460h0M1197 461h0M1180 462h0M1211 464h0M1203 471h0M1180 475h0M1208 481h0M1190 482h0M1186 486h0M1202 491h0M1210 491h0M1187 495h0M1207 497h0M1205 500h0M1180 514h0M1189 530h0M1195 534h0M1189 535h0M1196 536h0M1190 544h0M1210 546h0M1216 549h0M1211 558h0M1193 561h0M1213 562h0M1204 568h0M1200 568h0M1215 569h0M1218 578h0M1192 582h0M1216 582h0M1195 586h0M1196 591h0M1204 603h0M1218 619h0M1211 621h0M1211 622h0M1181 623h0M1205 639h0M1195 641h0M1194 649h0M1186 653h0M1185 659h0M1188 659h0M1183 660h0M1217 662h0M1194 665h0M1209 668h0M1202 675h0M1196 677h0M1209 691h0M1204 699h0M1208 701h0M1215 701h0M1204 704h0M1201 724h0M1217 753h0M1213 753h0M1200 757h0M1183 774h0M1202 789h0M1217 814h0M1218 832h0M1199 834h0M1207 850h0M1225 342h0M1223 342h0M1251 343h0M1231 344h0M1229 348h0M1233 350h0M1223 352h0M1235 352h0M1246 353h0M1260 353h0M1237 354h0M1240 354h0M1231 355h0M1245 363h0M1223 364h0M1232 368h0M1234 370h0M1252 370h0M1244 372h0M1234 372h0M1258 374h0M1247 375h0M1230 375h0M1229 375h0M1229 378h0M1240 379h0M1257 379h0M1248 398h0M1231 401h0M1232 401h0M1251 403h0M1251 403h0M1245 405h0M1260 407h0M1256 409h0M1236 411h0M1245 411h0M1243 413h0M1227 416h0M1229 417h0M1225 422h0M1224 423h0M1227 433h0M1233 435h0M1245 438h0M1229 442h0M1252 442h0M1248 443h0M1228 445h0M1234 446h0M1221 449h0M1245 450h0M1226 454h0M1250 458h0M1256 461h0M1255 462h0M1251 479h0M1242 483h0M1234 508h0M1237 515h0M1249 517h0M1225 527h0M1233 529h0M1251 530h0M1235 536h0M1230 557h0M1232 566h0M1249 572h0M1253 584h0M1249 585h0M1242 596h0M1257 598h0M1241 601h0M1231 621h0M1234 624h0M1223 637h0M1239 638h0M1223 640h0M1224 652h0M1225 658h0M1233 665h0M1224 667h0M1230 673h0M1238 684h0M1232 685h0M1228 688h0M1223 692h0M1234 696h0M1257 715h0M1247 717h0M1244 744h0M1241 748h0M1248 751h0M1220 758h0M1237 762h0M1236 765h0M1234 771h0M1226 776h0M1233 788h0M1225 788h0M1232 806h0M1246 814h0M1252 818h0M1225 831h0M1233 847h0M1275 361h0M1284 378h0M1261 379h0M1270 379h0M1288 379h0M1289 382h0M1280 384h0M1294 386h0M1266 387h0M1287 388h0M1290 391h0M1286 394h0M1265 395h0M1272 395h0M1264 401h0M1269 401h0M1274 406h0M1279 408h0M1279 409h0M1265 410h0M1300 411h0M1272 418h0M1289 420h0M1278 421h0M1283 422h0M1297 425h0M1275 425h0M1300 427h0M1277 431h0M1268 432h0M1275 434h0M1292 434h0M1269 438h0M1291 444h0M1300 446h0M1286 450h0M1289 451h0M1299 451h0M1294 455h0M1271 456h0M1286 458h0M1270 459h0M1271 460h0M1299 460h0M1296 461h0M1269 462h0M1284 464h0M1272 469h0M1264 470h0M1260 472h0M1272 472h0M1284 480h0M1293 481h0M1296 482h0M1285 484h0M1297 486h0M1286 492h0M1290 508h0M1275 511h0M1289 513h0M1294 516h0M1289 523h0M1278 523h0M1296 529h0M1265 540h0M1295 546h0M1272 549h0M1273 556h0M1278 560h0M1268 573h0M1280 574h0M1262 574h0M1268 575h0M1283 576h0M1270 577h0M1270 588h0M1280 591h0M1266 594h0M1274 599h0M1285 599h0M1267 601h0M1284 601h0M1299 605h0M1274 611h0M1283 693h0M1277 708h0M1262 713h0M1294 719h0M1283 722h0M1260 726h0M1261 742h0M1276 749h0M1290 750h0M1261 761h0M1270 764h0M1281 765h0M1277 772h0M1291 782h0M1274 792h0M1273 798h0M1279 799h0M1264 808h0M1292 809h0M1274 821h0M1281 835h0M1303 373h0M1302 384h0M1305 386h0M1314 389h0M1312 394h0M1324 400h0M1310 406h0M1315 415h0M1321 420h0M1319 422h0M1330 423h0M1338 423h0M1311 424h0M1340 427h0M1337 429h0M1319 431h0M1328 433h0M1317 433h0M1301 439h0M1306 442h0M1327 443h0M1311 448h0M1324 451h0M1316 459h0M1337 460h0M1325 466h0M1309 466h0M1328 470h0M1305 472h0M1317 475h0M1315 476h0M1324 484h0M1336 487h0M1314 500h0M1313 504h0M1318 518h0M1317 526h0M1329 534h0M1314 540h0M1315 551h0M1339 555h0M1333 558h0M1327 564h0M1305 565h0M1306 574h0M1311 578h0M1323 580h0M1321 580h0M1326 586h0M1309 588h0M1323 591h0M1316 600h0M1302 607h0M1339 608h0M1315 650h0M1331 662h0M1326 667h0M1325 673h0M1337 687h0M1338 696h0M1310 701h0M1325 710h0M1320 720h0M1313 721h0M1310 726h0M1309 728h0M1325 740h0M1324 766h0M1318 769h0M1302 779h0M1305 782h0M1310 789h0M1327 800h0M1317 852h0M1353 430h0M1352 430h0M1350 434h0M1344 436h0M1369 438h0M1370 440h0M1342 441h0M1352 441h0M1352 446h0M1355 448h0M1355 455h0M1368 458h0M1354 463h0M1344 468h0M1356 470h0M1362 475h0M1379 475h0M1360 477h0M1348 478h0M1353 479h0M1357 482h0M1353 489h0M1364 501h0M1361 504h0M1380 507h0M1377 509h0M1362 511h0M1362 516h0M1360 519h0M1359 521h0M1378 521h0M1358 524h0M1357 529h0M1349 542h0M1353 546h0M1351 553h0M1370 558h0M1351 559h0M1379 566h0M1347 568h0M1363 569h0M1351 571h0M1373 571h0M1356 573h0M1348 580h0M1349 582h0M1372 589h0M1342 591h0M1365 593h0M1345 594h0M1360 601h0M1347 607h0M1355 614h0M1350 619h0M1377 624h0M1360 632h0M1351 652h0M1366 672h0M1352 673h0M1371 688h0M1355 697h0M1344 698h0M1348 701h0M1350 704h0M1349 719h0M1345 734h0M1353 772h0M1351 772h0M1356 777h0M1346 778h0M1367 790h0M1357 794h0M1417 382h0M1408 404h0M1416 468h0M1382 473h0M1388 474h0M1414 476h0M1420 485h0M1404 485h0M1410 489h0M1395 494h0M1410 495h0M1408 495h0M1395 500h0M1412 501h0M1385 505h0M1410 506h0M1414 506h0M1390 513h0M1393 515h0M1402 516h0M1413 537h0M1397 537h0M1400 543h0M1403 544h0M1391 551h0M1389 552h0M1416 553h0M1385 567h0M1400 582h0M1393 583h0M1382 594h0M1400 596h0M1395 603h0M1390 616h0M1385 649h0M1405 681h0M1407 681h0M1391 683h0M1411 719h0M1400 757h0M1388 777h0M1411 787h0M1420 794h0M1397 799h0M1406 821h0M1417 822h0M1411 827h0M1396 828h0M1401 839h0M1418 861h0M1449 392h0M1452 399h0M1451 405h0M1440 407h0M1434 412h0M1438 417h0M1446 421h0M1442 430h0M1449 459h0M1455 467h0M1452 498h0M1427 498h0M1420 503h0M1432 508h0M1459 517h0M1436 522h0M1433 522h0M1449 522h0M1453 524h0M1456 530h0M1431 535h0M1426 544h0M1434 552h0M1457 555h0M1434 560h0M1448 587h0M1445 588h0M1446 590h0M1456 596h0M1455 623h0M1458 627h0M1437 629h0M1445 637h0M1431 655h0M1432 674h0M1421 683h0M1430 691h0M1428 693h0M1430 713h0M1440 722h0M1430 724h0M1425 731h0M1426 751h0M1422 771h0M1442 803h0M1439 822h0M1425 822h0M1429 828h0M1422 830h0M1450 847h0M1442 851h0M1453 856h0M1444 867h0M1456 876h0M1456 878h0M1453 879h0M1458 909h0M1463 401h0M1464 402h0M1463 406h0M1476 418h0M1463 430h0M1495 441h0M1476 478h0M1467 484h0M1486 495h0M1465 502h0M1494 509h0M1495 519h0M1483 523h0M1479 524h0M1478 524h0M1476 529h0M1464 530h0M1489 535h0M1470 537h0M1477 542h0M1479 544h0M1498 563h0M1480 566h0M1467 570h0M1486 573h0M1497 577h0M1479 577h0M1469 581h0M1472 590h0M1482 598h0M1479 602h0M1500 602h0M1496 603h0M1471 614h0M1467 618h0M1480 621h0M1461 633h0M1494 723h0M1497 726h0M1495 733h0M1472 806h0M1464 810h0M1460 819h0M1495 822h0M1482 826h0M1484 827h0M1490 827h0M1497 828h0M1484 828h0M1495 840h0M1488 844h0M1484 851h0M1463 863h0M1488 901h0M1463 911h0M1495 914h0M1477 928h0M1518 445h0M1508 446h0M1505 453h0M1517 457h0M1522 473h0M1535 481h0M1529 484h0M1507 502h0M1516 504h0M1531 506h0M1529 514h0M1506 515h0M1529 519h0M1506 523h0M1536 525h0M1518 533h0M1506 539h0M1511 545h0M1505 551h0M1522 552h0M1525 555h0M1509 558h0M1538 567h0M1508 571h0M1533 571h0M1530 571h0M1536 574h0M1529 577h0M1516 577h0M1525 581h0M1503 583h0M1528 586h0M1506 593h0M1509 695h0M1507 724h0M1525 725h0M1500 733h0M1531 744h0M1507 870h0M1501 871h0M1519 902h0M1519 904h0M1505 906h0M1509 909h0M1572 653h0M1563 658h0M1578 660h0M1554 667h0M1544 688h0M1575 695h0M1574 697h0M1576 703h0M1577 703h0M1541 704h0M1567 718h0M1551 742h0M1546 750h0M1618 640h0M1609 652h0M1610 653h0M1585 655h0M1612 656h0M1584 657h0M1583 657h0M1601 663h0M1589 665h0M1593 672h0M1586 673h0M1609 681h0M1608 683h0M1586 694h0M1594 695h0M1618 697h0M1617 699h0M1582 703h0M1613 718h0M1606 725h0M1648 592h0M1657 600h0M1640 600h0M1630 608h0M1652 614h0M1646 614h0M1656 614h0M1627 614h0M1635 617h0M1649 617h0M1632 621h0M1649 622h0M1635 632h0M1659 640h0M1655 640h0M1623 644h0M1641 648h0M1653 653h0M1655 657h0M1659 664h0M1635 669h0M1627 672h0M1638 674h0M1637 678h0M1688 583h0M1693 594h0M1686 596h0M1669 601h0M1681 603h0M1696 606h0M1675 618h0M1678 619h0M1666 619h0M1682 622h0M1676 623h0M1668 626h0M1686 632h0M1687 642h0M1694 642h0M1666 644h0M1677 647h0M1670 651h0M1695 654h0M1683 668h0M1691 670h0M1680 689h0M1677 691h0M1685 692h0M1683 701h0M1666 702h0M1702 631h0M1703 633h0M1703 639h0M1709 651h0M1715 676h0M1708 685h0"/>
<path stroke="#721f81" d="M367 705h0M449 573h0M513 680h0M616 377h0M599 717h0M599 718h0M602 721h0M604 721h0M604 723h0M637 374h0M637 375h0M645 376h0M639 379h0M658 379h0M642 380h0M626 390h0M620 390h0M632 391h0M622 397h0M655 406h0M645 419h0M644 437h0M637 439h0M637 445h0M637 446h0M639 451h0M646 454h0M630 455h0M624 458h0M640 458h0M659 464h0M655 467h0M671 379h0M686 384h0M672 385h0M676 387h0M676 388h0M679 389h0M676 389h0M677 400h0M678 409h0M680 425h0M670 469h0M697 472h0M676 475h0M695 475h0M724 446h0M717 460h0M713 463h0M710 464h0M708 471h0M771 258h0M776 260h0M767 264h0M775 265h0M758 276h0M779 278h0M764 278h0M764 279h0M757 281h0M759 282h0M758 285h0M770 287h0M775 288h0M766 289h0M775 298h0M778 452h0M776 456h0M815 230h0M817 231h0M805 232h0M810 245h0M804 245h0M816 246h0M814 251h0M811 256h0M812 256h0M812 261h0M813 262h0M813 266h0M792 273h0M786 278h0M811 279h0M796 284h0M791 285h0M795 294h0M809 294h0M781 294h0M790 296h0M797 296h0M805 300h0M789 301h0M792 301h0M814 302h0M792 302h0M798 303h0M813 306h0M783 308h0M817 309h0M797 309h0M817 344h0M789 430h0M794 445h0M809 452h0M797 461h0M803 467h0M813 470h0M818 476h0M797 479h0M789 480h0M800 481h0M782 482h0M800 487h0M790 491h0M807 492h0M809 496h0M802 500h0M797 510h0M803 512h0M855 223h0M854 225h0M847 226h0M846 228h0M824 229h0M832 231h0M826 232h0M823 235h0M833 245h0M846 246h0M823 246h0M821 256h0M841 257h0M858 260h0M854 262h0M824 263h0M834 263h0M825 266h0M833 267h0M833 280h0M839 285h0M852 286h0M835 293h0M844 293h0M833 297h0M834 297h0M838 309h0M835 311h0M832 317h0M843 317h0M848 322h0M825 351h0M834 365h0M859 369h0M830 369h0M860 374h0M842 389h0M843 392h0M839 393h0M851 394h0M856 396h0M824 451h0M838 452h0M843 455h0M839 456h0M827 457h0M850 461h0M847 461h0M839 466h0M858 469h0M845 471h0M856 477h0M856 478h0M832 478h0M854 486h0M845 486h0M832 487h0M846 488h0M844 489h0M857 497h0M852 499h0M847 502h0M855 505h0M834 506h0M824 515h0M885 219h0M870 238h0M899 238h0M864 240h0M883 246h0M883 252h0M896 257h0M897 260h0M878 260h0M876 262h0M866 265h0M867 265h0M879 271h0M889 273h0M869 275h0M863 276h0M886 276h0M866 280h0M865 289h0M863 292h0M890 292h0M887 296h0M868 298h0M879 298h0M870 300h0M860 304h0M880 313h0M860 314h0M889 327h0M871 347h0M891 356h0M876 365h0M887 368h0M871 374h0M866 381h0M864 388h0M891 395h0M869 400h0M862 401h0M877 402h0M876 403h0M879 405h0M881 408h0M876 408h0M866 499h0M876 503h0M879 511h0M871 513h0M901 222h0M903 226h0M922 227h0M934 230h0M932 236h0M931 237h0M907 237h0M917 244h0M932 246h0M910 249h0M931 253h0M930 257h0M925 259h0M901 260h0M915 265h0M912 267h0M915 279h0M903 280h0M929 288h0M917 288h0M924 290h0M935 290h0M923 304h0M910 304h0M901 310h0M930 313h0M920 317h0M926 319h0M925 324h0M903 332h0M942 236h0M959 238h0M944 241h0M959 245h0M974 248h0M977 256h0M948 258h0M942 266h0M965 276h0M978 288h0M971 295h0M941 299h0M942 301h0M965 305h0M959 307h0M963 308h0M955 315h0M970 320h0M952 331h0M973 336h0M975 1096h0M972 1106h0M963 1121h0M985 237h0M996 241h0M981 244h0M992 264h0M986 269h0M990 277h0M988 281h0M986 289h0M987 310h0M1010 1093h0M1015 1094h0M1000 1100h0M996 1103h0M1004 1104h0M984 1106h0M992 1117h0M1008 1138h0M993 1139h0M995 1140h0M1011 1148h0M995 1150h0M1012 1150h0M1017 1153h0M1058 501h0M1044 512h0M1047 518h0M1060 519h0M1037 519h0M1041 530h0M1024 533h0M1051 538h0M1045 539h0M1050 540h0M1023 541h0M1023 545h0M1025 549h0M1058 549h0M1048 551h0M1033 553h0M1055 556h0M1039 557h0M1035 558h0M1031 563h0M1051 572h0M1042 583h0M1052 587h0M1056 1100h0M1029 1100h0M1056 1101h0M1052 1104h0M1035 1105h0M1043 1110h0M1037 1117h0M1034 1123h0M1038 1132h0M1048 1137h0M1052 1139h0M1060 1172h0M1057 1175h0M1066 343h0M1089 360h0M1089 364h0M1075 379h0M1085 382h0M1074 383h0M1084 389h0M1091 399h0M1097 404h0M1075 407h0M1063 410h0M1066 410h0M1090 410h0M1081 411h0M1071 415h0M1070 418h0M1072 419h0M1090 422h0M1079 423h0M1070 424h0M1062 429h0M1090 434h0M1098 441h0M1077 446h0M1083 452h0M1087 471h0M1067 483h0M1073 494h0M1098 498h0M1077 503h0M1096 504h0M1090 513h0M1085 513h0M1097 515h0M1079 521h0M1068 524h0M1090 526h0M1079 534h0M1093 538h0M1090 546h0M1079 559h0M1068 561h0M1090 564h0M1096 567h0M1088 572h0M1098 577h0M1093 579h0M1069 581h0M1060 590h0M1099 597h0M1100 626h0M1098 627h0M1097 634h0M1064 1098h0M1078 1101h0M1094 1107h0M1071 1111h0M1091 1113h0M1097 1120h0M1094 1123h0M1097 1126h0M1094 1127h0M1072 1139h0M1083 1145h0M1086 1146h0M1072 1152h0M1073 1162h0M1064 1180h0M1094 1182h0M1084 1184h0M1098 1187h0M1100 1199h0M1138 335h0M1113 335h0M1111 336h0M1120 342h0M1104 343h0M1121 349h0M1127 355h0M1103 364h0M1113 365h0M1114 366h0M1115 368h0M1118 368h0M1130 373h0M1105 374h0M1132 377h0M1135 379h0M1126 381h0M1120 385h0M1108 394h0M1131 399h0M1128 400h0M1125 405h0M1118 408h0M1139 409h0M1123 413h0M1103 414h0M1113 428h0M1140 436h0M1104 438h0M1136 438h0M1124 444h0M1135 480h0M1127 482h0M1114 482h0M1132 496h0M1127 507h0M1129 511h0M1119 542h0M1137 556h0M1104 556h0M1114 566h0M1121 568h0M1101 571h0M1127 575h0M1102 577h0M1124 579h0M1118 588h0M1139 599h0M1122 602h0M1133 614h0M1122 616h0M1116 633h0M1124 642h0M1127 659h0M1129 662h0M1137 1107h0M1108 1108h0M1134 1109h0M1136 1121h0M1135 1123h0M1105 1126h0M1130 1127h0M1118 1130h0M1128 1131h0M1104 1133h0M1109 1136h0M1129 1137h0M1109 1147h0M1117 1150h0M1115 1151h0M1126 1155h0M1136 1171h0M1132 1179h0M1115 1189h0M1129 1191h0M1104 1197h0M1124 1211h0M1122 1213h0M1114 1216h0M1149 335h0M1147 342h0M1141 347h0M1150 357h0M1167 365h0M1153 367h0M1141 367h0M1147 380h0M1146 398h0M1157 402h0M1159 408h0M1170 411h0M1142 421h0M1143 424h0M1179 432h0M1167 439h0M1179 440h0M1155 446h0M1169 463h0M1141 473h0M1178 501h0M1157 513h0M1145 513h0M1160 516h0M1155 520h0M1156 523h0M1153 534h0M1149 539h0M1154 539h0M1142 546h0M1157 547h0M1168 552h0M1149 555h0M1168 568h0M1159 578h0M1176 584h0M1163 598h0M1157 600h0M1175 602h0M1177 603h0M1155 611h0M1169 612h0M1142 613h0M1161 613h0M1161 617h0M1144 619h0M1160 625h0M1179 634h0M1156 644h0M1143 646h0M1173 647h0M1141 656h0M1169 658h0M1152 661h0M1179 663h0M1161 663h0M1154 663h0M1160 677h0M1156 733h0M1158 736h0M1141 755h0M1161 760h0M1172 761h0M1149 761h0M1175 765h0M1141 767h0M1168 772h0M1155 787h0M1163 796h0M1165 798h0M1164 798h0M1180 806h0M1170 818h0M1168 819h0M1179 819h0M1143 825h0M1143 825h0M1151 831h0M1170 837h0M1168 838h0M1161 839h0M1178 848h0M1147 1115h0M1151 1118h0M1143 1169h0M1210 338h0M1203 340h0M1209 340h0M1180 341h0M1213 341h0M1186 341h0M1186 353h0M1203 357h0M1184 360h0M1211 372h0M1181 390h0M1189 391h0M1210 420h0M1196 424h0M1204 424h0M1200 428h0M1192 434h0M1210 449h0M1217 451h0M1206 456h0M1190 461h0M1199 467h0M1187 476h0M1191 485h0M1187 487h0M1193 491h0M1214 501h0M1183 502h0M1213 505h0M1181 510h0M1209 526h0M1186 529h0M1205 530h0M1210 531h0M1188 541h0M1185 546h0M1183 558h0M1210 565h0M1214 566h0M1185 567h0M1208 570h0M1186 575h0M1199 576h0M1190 580h0M1214 587h0M1185 590h0M1209 592h0M1218 596h0M1189 600h0M1187 618h0M1204 623h0M1207 624h0M1215 635h0M1194 642h0M1217 648h0M1217 653h0M1200 678h0M1185 680h0M1212 688h0M1216 707h0M1211 761h0M1198 776h0M1200 779h0M1202 789h0M1213 791h0M1196 809h0M1186 816h0M1204 829h0M1203 833h0M1209 857h0M1245 345h0M1239 353h0M1232 359h0M1260 363h0M1229 364h0M1235 375h0M1242 375h0M1246 381h0M1235 385h0M1250 388h0M1238 391h0M1239 399h0M1228 400h0M1255 400h0M1251 412h0M1248 413h0M1235 414h0M1250 418h0M1258 422h0M1249 432h0M1229 443h0M1244 461h0M1224 463h0M1226 465h0M1250 472h0M1249 485h0M1227 488h0M1233 492h0M1230 502h0M1243 507h0M1224 515h0M1258 524h0M1233 536h0M1228 537h0M1239 537h0M1228 538h0M1221 542h0M1221 550h0M1249 551h0M1255 553h0M1254 554h0M1227 557h0M1229 561h0M1242 565h0M1254 567h0M1254 574h0M1229 578h0M1232 580h0M1250 581h0M1229 582h0M1247 588h0M1222 597h0M1256 603h0M1243 624h0M1231 628h0M1243 651h0M1233 651h0M1229 682h0M1247 694h0M1245 699h0M1236 700h0M1226 702h0M1240 703h0M1247 712h0M1226 730h0M1249 747h0M1257 748h0M1226 757h0M1241 760h0M1224 762h0M1225 771h0M1233 781h0M1234 785h0M1233 787h0M1241 793h0M1252 795h0M1245 802h0M1223 823h0M1242 824h0M1249 830h0M1229 838h0M1254 839h0M1239 840h0M1239 841h0M1226 847h0M1270 352h0M1262 355h0M1262 357h0M1280 357h0M1270 358h0M1265 359h0M1270 373h0M1263 377h0M1290 380h0M1273 383h0M1295 390h0M1278 406h0M1282 409h0M1271 410h0M1267 417h0M1298 419h0M1295 427h0M1269 439h0M1275 442h0M1290 452h0M1294 455h0M1263 458h0M1269 463h0M1272 466h0M1289 468h0M1295 477h0M1267 486h0M1297 488h0M1264 490h0M1266 499h0M1291 500h0M1276 506h0M1271 512h0M1279 521h0M1267 553h0M1267 556h0M1289 557h0M1289 558h0M1269 566h0M1280 567h0M1265 568h0M1261 578h0M1260 580h0M1293 583h0M1286 593h0M1280 594h0M1265 599h0M1294 602h0M1293 607h0M1290 703h0M1291 730h0M1273 737h0M1285 737h0M1292 739h0M1280 757h0M1277 758h0M1298 760h0M1283 763h0M1271 765h0M1286 765h0M1264 770h0M1270 771h0M1262 778h0M1272 778h0M1281 780h0M1280 782h0M1292 783h0M1260 787h0M1265 789h0M1269 800h0M1287 803h0M1283 804h0M1288 804h0M1267 806h0M1271 810h0M1290 811h0M1299 820h0M1264 825h0M1291 829h0M1288 854h0M1311 393h0M1310 394h0M1302 403h0M1324 412h0M1337 412h0M1320 421h0M1320 424h0M1309 425h0M1307 425h0M1316 442h0M1322 442h0M1317 447h0M1326 458h0M1324 464h0M1310 465h0M1315 467h0M1313 472h0M1339 473h0M1318 485h0M1317 486h0M1303 490h0M1312 493h0M1325 498h0M1333 511h0M1301 512h0M1308 515h0M1303 519h0M1305 534h0M1321 536h0M1304 536h0M1315 538h0M1301 548h0M1328 553h0M1318 556h0M1340 560h0M1337 560h0M1304 566h0M1332 568h0M1324 573h0M1338 573h0M1322 580h0M1327 583h0M1309 588h0M1314 617h0M1326 633h0M1325 645h0M1329 657h0M1322 693h0M1303 696h0M1321 696h0M1305 701h0M1303 708h0M1310 716h0M1323 722h0M1315 742h0M1315 744h0M1300 752h0M1311 757h0M1303 761h0M1320 763h0M1338 767h0M1303 773h0M1316 787h0M1320 788h0M1309 798h0M1318 804h0M1301 810h0M1313 850h0M1346 435h0M1353 439h0M1345 440h0M1377 452h0M1350 453h0M1352 455h0M1362 457h0M1367 457h0M1358 480h0M1341 488h0M1362 488h0M1376 488h0M1360 489h0M1365 492h0M1360 496h0M1378 507h0M1371 515h0M1340 524h0M1346 528h0M1348 530h0M1357 533h0M1365 535h0M1367 538h0M1380 552h0M1375 555h0M1372 557h0M1373 557h0M1350 558h0M1343 560h0M1359 564h0M1370 565h0M1379 584h0M1345 586h0M1350 587h0M1379 597h0M1351 597h0M1372 597h0M1353 601h0M1345 604h0M1350 605h0M1360 606h0M1361 614h0M1340 619h0M1358 621h0M1363 632h0M1347 665h0M1347 665h0M1364 670h0M1356 673h0M1361 683h0M1379 683h0M1340 687h0M1371 701h0M1372 707h0M1356 714h0M1361 720h0M1345 737h0M1352 737h0M1349 748h0M1367 757h0M1346 766h0M1354 795h0M1361 797h0M1367 848h0M1351 852h0M1389 404h0M1404 466h0M1382 470h0M1400 480h0M1401 485h0M1419 485h0M1419 486h0M1409 487h0M1391 491h0M1419 494h0M1420 497h0M1394 498h0M1393 502h0M1410 505h0M1403 508h0M1400 510h0M1392 512h0M1392 520h0M1387 525h0M1409 525h0M1410 548h0M1394 560h0M1399 576h0M1385 579h0M1406 586h0M1390 588h0M1389 606h0M1384 621h0M1390 625h0M1399 652h0M1413 658h0M1417 672h0M1401 672h0M1399 674h0M1391 687h0M1406 702h0M1387 707h0M1385 741h0M1402 754h0M1390 768h0M1382 768h0M1387 772h0M1405 794h0M1416 824h0M1414 825h0M1410 837h0M1398 837h0M1419 848h0M1413 850h0M1425 392h0M1430 393h0M1446 397h0M1458 402h0M1430 405h0M1436 412h0M1448 412h0M1445 421h0M1455 459h0M1443 476h0M1447 484h0M1424 496h0M1446 509h0M1440 518h0M1428 534h0M1442 537h0M1420 539h0M1429 547h0M1451 556h0M1433 558h0M1424 560h0M1444 577h0M1455 577h0M1460 588h0M1459 598h0M1453 599h0M1450 642h0M1424 655h0M1422 659h0M1432 665h0M1432 672h0M1432 685h0M1422 687h0M1427 745h0M1434 801h0M1442 805h0M1427 818h0M1427 823h0M1452 828h0M1430 828h0M1426 836h0M1448 839h0M1433 853h0M1446 858h0M1427 861h0M1426 865h0M1425 866h0M1458 867h0M1445 869h0M1455 874h0M1426 875h0M1452 876h0M1442 879h0M1434 881h0M1449 881h0M1451 884h0M1443 885h0M1454 886h0M1462 406h0M1467 406h0M1462 423h0M1469 431h0M1497 432h0M1482 434h0M1480 437h0M1489 441h0M1498 457h0M1478 480h0M1465 487h0M1473 496h0M1462 512h0M1487 513h0M1485 515h0M1480 521h0M1497 527h0M1494 552h0M1469 554h0M1498 558h0M1474 568h0M1476 568h0M1493 569h0M1499 571h0M1497 591h0M1462 602h0M1467 603h0M1478 610h0M1475 623h0M1496 747h0M1472 801h0M1481 805h0M1480 816h0M1473 818h0M1496 827h0M1476 832h0M1486 833h0M1481 836h0M1472 849h0M1480 849h0M1472 852h0M1485 857h0M1465 860h0M1497 864h0M1487 867h0M1461 874h0M1468 880h0M1479 883h0M1473 897h0M1478 899h0M1468 899h0M1481 899h0M1478 905h0M1467 906h0M1475 909h0M1470 910h0M1485 914h0M1477 917h0M1483 923h0M1518 458h0M1518 472h0M1506 474h0M1511 496h0M1511 499h0M1535 504h0M1507 504h0M1509 505h0M1508 507h0M1530 509h0M1514 510h0M1517 519h0M1512 519h0M1514 521h0M1508 522h0M1526 522h0M1518 538h0M1528 541h0M1530 542h0M1539 549h0M1535 550h0M1528 557h0M1528 561h0M1533 562h0M1535 567h0M1510 573h0M1502 577h0M1530 589h0M1519 689h0M1522 694h0M1532 703h0M1514 718h0M1510 723h0M1528 723h0M1507 729h0M1522 739h0M1513 740h0M1525 745h0M1531 751h0M1515 864h0M1513 880h0M1503 881h0M1570 659h0M1551 668h0M1580 673h0M1556 674h0M1562 674h0M1568 676h0M1557 681h0M1561 689h0M1579 703h0M1566 704h0M1580 709h0M1542 713h0M1542 716h0M1565 727h0M1579 735h0M1548 735h0M1564 735h0M1579 738h0M1617 615h0M1596 637h0M1599 639h0M1583 649h0M1582 651h0M1595 653h0M1619 663h0M1586 664h0M1597 675h0M1595 692h0M1594 693h0M1616 696h0M1583 701h0M1610 707h0M1606 710h0M1609 714h0M1599 721h0M1598 723h0M1582 734h0M1641 598h0M1647 620h0M1648 634h0M1625 635h0M1648 648h0M1629 650h0M1638 657h0M1620 657h0M1636 658h0M1644 664h0M1633 666h0M1623 669h0M1629 670h0M1658 675h0M1641 683h0M1650 689h0M1638 708h0M1648 708h0M1646 709h0M1655 710h0M1653 717h0M1624 718h0M1621 720h0M1676 586h0M1698 588h0M1666 595h0M1664 603h0M1686 609h0M1700 612h0M1684 613h0M1683 622h0M1689 624h0M1673 628h0M1672 630h0M1692 633h0M1695 633h0M1682 635h0M1664 635h0M1684 640h0M1669 645h0M1697 646h0M1675 649h0M1676 655h0M1688 660h0M1685 667h0M1669 669h0M1664 669h0M1660 692h0M1692 699h0M1663 701h0M1670 703h0M1668 708h0M1672 714h0M1704 598h0M1707 607h0M1702 615h0M1707 628h0M1709 658h0M1708 659h0M1704 663h0M1709 687h0"/>
<path stroke="#c03a76" d="M366 705h0M371 709h0M378 715h0M506 677h0M514 681h0M512 683h0M517 685h0M613 391h0M615 399h0M590 715h0M598 718h0M599 719h0M605 723h0M605 724h0M610 728h0M621 375h0M620 381h0M629 384h0M626 386h0M637 387h0M620 392h0M624 392h0M623 393h0M623 397h0M632 401h0M639 451h0M644 452h0M643 458h0M647 467h0M670 395h0M697 470h0M686 472h0M687 472h0M696 473h0M691 474h0M678 477h0M709 465h0M708 465h0M758 270h0M776 287h0M775 300h0M770 448h0M773 449h0M769 451h0M780 464h0M779 482h0M818 247h0M807 259h0M801 275h0M787 277h0M816 353h0M812 401h0M798 423h0M793 428h0M796 432h0M807 432h0M789 433h0M809 434h0M789 444h0M781 446h0M799 446h0M814 451h0M808 460h0M803 460h0M782 461h0M786 474h0M800 482h0M817 488h0M794 508h0M859 239h0M831 240h0M851 271h0M836 275h0M832 278h0M857 311h0M849 340h0M846 341h0M858 355h0M825 365h0M856 392h0M829 451h0M830 455h0M834 458h0M821 461h0M841 463h0M821 473h0M823 481h0M828 487h0M821 496h0M844 497h0M858 498h0M835 501h0M827 501h0M860 501h0M851 506h0M828 512h0M830 512h0M883 358h0M871 379h0M867 397h0M864 493h0M879 498h0M931 263h0M914 272h0M918 322h0M923 324h0M962 237h0M964 241h0M960 290h0M967 1113h0M979 1137h0M1020 556h0M987 1085h0M980 1094h0M990 1096h0M1010 1101h0M1008 1107h0M993 1115h0M990 1136h0M1019 1147h0M1009 1156h0M1007 1158h0M1047 512h0M1030 570h0M1025 1091h0M1026 1094h0M1043 1095h0M1034 1098h0M1031 1101h0M1042 1112h0M1045 1123h0M1050 1139h0M1038 1142h0M1028 1151h0M1044 1152h0M1025 1162h0M1043 1171h0M1055 1183h0M1068 346h0M1084 365h0M1089 403h0M1077 430h0M1089 433h0M1090 435h0M1076 504h0M1061 511h0M1077 531h0M1095 539h0M1095 541h0M1097 556h0M1089 599h0M1070 600h0M1087 612h0M1067 1098h0M1078 1099h0M1087 1105h0M1082 1109h0M1061 1112h0M1099 1119h0M1091 1125h0M1068 1126h0M1061 1128h0M1076 1141h0M1076 1143h0M1066 1145h0M1074 1146h0M1086 1146h0M1075 1150h0M1072 1164h0M1081 1171h0M1092 1171h0M1098 1176h0M1067 1190h0M1086 1197h0M1114 350h0M1105 418h0M1131 454h0M1109 470h0M1102 484h0M1121 524h0M1128 535h0M1138 542h0M1117 544h0M1117 556h0M1107 577h0M1119 587h0M1116 589h0M1132 592h0M1105 599h0M1104 601h0M1112 614h0M1140 616h0M1122 618h0M1121 629h0M1125 635h0M1111 641h0M1123 1101h0M1125 1108h0M1112 1110h0M1114 1117h0M1131 1126h0M1127 1127h0M1128 1128h0M1121 1128h0M1123 1132h0M1104 1139h0M1109 1162h0M1105 1173h0M1114 1173h0M1107 1174h0M1120 1176h0M1136 1180h0M1132 1186h0M1110 1195h0M1129 1208h0M1131 1208h0M1101 1210h0M1120 1215h0M1115 1219h0M1156 331h0M1162 348h0M1177 357h0M1144 373h0M1177 416h0M1180 431h0M1180 443h0M1166 448h0M1152 449h0M1179 467h0M1169 543h0M1150 566h0M1166 572h0M1153 585h0M1171 586h0M1178 590h0M1153 594h0M1169 616h0M1157 616h0M1176 618h0M1171 622h0M1179 625h0M1164 627h0M1147 630h0M1164 633h0M1169 634h0M1170 639h0M1178 643h0M1154 643h0M1171 698h0M1155 726h0M1151 736h0M1150 745h0M1140 758h0M1160 759h0M1159 764h0M1157 774h0M1157 775h0M1156 781h0M1173 782h0M1169 792h0M1148 797h0M1145 802h0M1153 805h0M1163 806h0M1171 811h0M1169 813h0M1157 831h0M1154 838h0M1154 841h0M1158 844h0M1166 846h0M1154 1118h0M1146 1173h0M1141 1178h0M1140 1200h0M1181 339h0M1181 344h0M1203 348h0M1191 354h0M1198 384h0M1212 456h0M1191 549h0M1213 583h0M1182 585h0M1193 592h0M1184 613h0M1199 620h0M1204 629h0M1216 632h0M1183 632h0M1209 633h0M1207 639h0M1193 651h0M1198 670h0M1189 671h0M1199 674h0M1204 685h0M1193 701h0M1216 729h0M1212 760h0M1185 772h0M1197 798h0M1185 808h0M1195 821h0M1187 824h0M1218 835h0M1183 840h0M1207 841h0M1197 848h0M1200 859h0M1191 859h0M1221 409h0M1250 429h0M1223 441h0M1249 447h0M1235 477h0M1240 494h0M1239 501h0M1254 502h0M1223 534h0M1249 547h0M1259 553h0M1236 556h0M1252 558h0M1229 572h0M1235 587h0M1259 591h0M1232 597h0M1229 621h0M1222 629h0M1224 645h0M1231 659h0M1242 687h0M1237 700h0M1244 710h0M1252 717h0M1254 722h0M1255 734h0M1236 735h0M1255 772h0M1245 773h0M1233 774h0M1227 775h0M1240 785h0M1255 788h0M1251 795h0M1232 796h0M1229 800h0M1225 801h0M1251 804h0M1253 808h0M1237 825h0M1229 828h0M1243 841h0M1220 846h0M1229 846h0M1258 848h0M1265 399h0M1293 404h0M1270 411h0M1284 462h0M1290 464h0M1297 473h0M1265 479h0M1267 487h0M1286 488h0M1290 496h0M1265 506h0M1287 515h0M1297 526h0M1294 537h0M1280 550h0M1288 553h0M1262 568h0M1294 571h0M1265 572h0M1292 572h0M1265 579h0M1264 598h0M1265 598h0M1291 640h0M1293 730h0M1282 732h0M1269 738h0M1293 740h0M1269 754h0M1286 754h0M1299 760h0M1270 781h0M1263 789h0M1272 797h0M1281 802h0M1295 802h0M1288 806h0M1287 814h0M1273 816h0M1270 820h0M1285 820h0M1297 825h0M1268 828h0M1272 837h0M1271 837h0M1304 384h0M1326 419h0M1323 445h0M1334 446h0M1321 450h0M1327 458h0M1339 459h0M1329 467h0M1331 475h0M1321 477h0M1325 488h0M1310 510h0M1317 515h0M1338 520h0M1337 541h0M1302 547h0M1302 552h0M1302 556h0M1340 562h0M1322 570h0M1316 572h0M1313 601h0M1325 604h0M1325 617h0M1323 621h0M1312 696h0M1308 701h0M1313 737h0M1301 755h0M1307 767h0M1336 768h0M1303 768h0M1314 770h0M1301 771h0M1314 771h0M1319 781h0M1319 786h0M1306 786h0M1310 788h0M1327 788h0M1318 798h0M1330 799h0M1333 800h0M1330 801h0M1326 806h0M1320 806h0M1301 813h0M1314 852h0M1371 443h0M1342 453h0M1364 464h0M1349 474h0M1340 476h0M1356 481h0M1360 490h0M1376 499h0M1355 501h0M1372 514h0M1344 514h0M1377 526h0M1347 532h0M1369 545h0M1344 550h0M1361 557h0M1357 564h0M1343 569h0M1367 575h0M1378 575h0M1376 577h0M1350 581h0M1355 583h0M1360 584h0M1361 602h0M1358 605h0M1349 606h0M1370 618h0M1360 637h0M1376 667h0M1373 673h0M1379 676h0M1358 687h0M1351 701h0M1370 706h0M1350 716h0M1346 717h0M1352 744h0M1358 759h0M1359 766h0M1343 782h0M1360 797h0M1352 797h0M1384 446h0M1413 470h0M1415 481h0M1390 489h0M1409 495h0M1383 496h0M1415 502h0M1419 509h0M1400 512h0M1412 518h0M1416 522h0M1412 526h0M1389 531h0M1391 531h0M1406 532h0M1387 545h0M1391 549h0M1391 554h0M1409 558h0M1381 565h0M1408 567h0M1393 586h0M1386 595h0M1386 622h0M1389 655h0M1419 671h0M1403 713h0M1411 746h0M1417 793h0M1418 817h0M1406 826h0M1408 830h0M1404 835h0M1407 852h0M1434 398h0M1421 470h0M1422 486h0M1426 489h0M1434 540h0M1435 541h0M1429 660h0M1421 695h0M1422 717h0M1437 795h0M1451 806h0M1456 808h0M1444 811h0M1423 813h0M1430 813h0M1447 818h0M1428 819h0M1454 823h0M1448 824h0M1424 825h0M1456 835h0M1443 844h0M1449 844h0M1459 845h0M1434 847h0M1428 850h0M1448 851h0M1450 869h0M1457 871h0M1453 872h0M1443 877h0M1431 878h0M1433 887h0M1451 889h0M1452 898h0M1446 900h0M1487 441h0M1484 442h0M1499 448h0M1490 449h0M1494 458h0M1498 541h0M1498 555h0M1499 557h0M1465 560h0M1499 577h0M1484 610h0M1500 722h0M1466 796h0M1468 811h0M1486 813h0M1495 822h0M1494 824h0M1495 831h0M1472 833h0M1472 845h0M1489 849h0M1477 851h0M1470 861h0M1496 898h0M1462 901h0M1481 909h0M1500 442h0M1518 457h0M1515 467h0M1528 471h0M1516 477h0M1532 478h0M1506 484h0M1513 490h0M1511 512h0M1523 528h0M1527 539h0M1512 543h0M1513 546h0M1514 555h0M1507 557h0M1513 560h0M1529 574h0M1521 689h0M1514 690h0M1534 690h0M1539 695h0M1534 696h0M1501 712h0M1517 736h0M1512 828h0M1519 832h0M1502 840h0M1511 848h0M1523 866h0M1516 900h0M1566 682h0M1541 703h0M1563 709h0M1557 713h0M1551 720h0M1553 722h0M1555 732h0M1570 741h0M1586 641h0M1596 660h0M1588 674h0M1588 688h0M1581 692h0M1603 707h0M1605 709h0M1616 713h0M1582 720h0M1595 722h0M1596 725h0M1615 732h0M1596 732h0M1584 734h0M1604 738h0M1653 655h0M1634 660h0M1655 684h0M1628 690h0M1643 711h0M1682 599h0M1689 647h0M1683 655h0M1696 668h0M1676 669h0M1693 678h0M1678 686h0M1695 686h0M1671 690h0M1676 690h0M1694 692h0M1680 710h0M1720 672h0"/>
<path stroke="#f1605d" d="M374 710h0M375 713h0M440 564h0M437 564h0M444 568h0M519 685h0M596 717h0M658 383h0M634 398h0M630 405h0M623 410h0M654 458h0M700 470h0M778 290h0M778 453h0M784 268h0M813 308h0M786 434h0M794 437h0M785 445h0M790 459h0M808 510h0M854 393h0M845 397h0M844 500h0M857 513h0M893 363h0M884 369h0M882 393h0M861 404h0M865 481h0M865 513h0M920 273h0M946 314h0M988 1098h0M1016 1100h0M984 1109h0M986 1112h0M996 1123h0M985 1141h0M1043 526h0M1047 532h0M1035 543h0M1020 548h0M1050 1173h0M1064 377h0M1070 506h0M1074 558h0M1079 564h0M1075 592h0M1078 1099h0M1073 1100h0M1097 1104h0M1095 1105h0M1094 1107h0M1086 1114h0M1091 1120h0M1062 1128h0M1108 369h0M1126 391h0M1134 401h0M1132 528h0M1135 580h0M1108 610h0M1109 1145h0M1136 1185h0M1136 1203h0M1172 357h0M1144 401h0M1178 419h0M1146 436h0M1166 558h0M1154 574h0M1179 630h0M1165 633h0M1152 750h0M1148 764h0M1168 765h0M1140 768h0M1161 783h0M1150 793h0M1166 819h0M1165 840h0M1150 1177h0M1207 375h0M1207 376h0M1181 384h0M1215 417h0M1199 517h0M1195 540h0M1184 574h0M1182 584h0M1209 591h0M1215 598h0M1199 623h0M1188 640h0M1208 650h0M1181 728h0M1199 820h0M1200 841h0M1196 846h0M1189 859h0M1230 379h0M1237 441h0M1232 460h0M1250 480h0M1226 492h0M1252 532h0M1241 538h0M1257 541h0M1228 636h0M1246 735h0M1255 748h0M1248 755h0M1228 764h0M1240 781h0M1247 791h0M1227 800h0M1227 802h0M1251 816h0M1223 824h0M1257 843h0M1237 847h0M1246 847h0M1224 851h0M1294 436h0M1273 447h0M1288 512h0M1282 544h0M1291 587h0M1276 587h0M1278 709h0M1293 751h0M1261 759h0M1266 765h0M1280 788h0M1295 790h0M1283 804h0M1300 811h0M1270 814h0M1292 821h0M1264 824h0M1264 842h0M1311 377h0M1320 416h0M1305 577h0M1301 581h0M1325 587h0M1308 756h0M1303 760h0M1338 782h0M1309 794h0M1324 798h0M1338 800h0M1331 803h0M1301 820h0M1371 518h0M1377 540h0M1377 543h0M1376 557h0M1342 595h0M1374 707h0M1355 731h0M1360 734h0M1348 799h0M1392 485h0M1383 560h0M1393 727h0M1406 816h0M1416 828h0M1404 829h0M1411 839h0M1422 398h0M1455 476h0M1442 700h0M1445 833h0M1449 845h0M1428 866h0M1446 869h0M1449 895h0M1450 896h0M1487 490h0M1500 556h0M1478 558h0M1498 566h0M1463 571h0M1461 575h0M1495 727h0M1481 802h0M1473 804h0M1466 816h0M1477 817h0M1468 818h0M1497 834h0M1488 835h0M1480 835h0M1466 843h0M1479 851h0M1478 867h0M1482 889h0M1460 907h0M1510 485h0M1509 491h0M1511 514h0M1535 550h0M1504 552h0M1510 553h0M1539 565h0M1537 578h0M1513 693h0M1520 734h0M1510 849h0M1525 887h0M1564 672h0M1563 681h0M1563 687h0M1577 715h0M1618 666h0M1611 704h0M1602 727h0M1660 701h0M1651 708h0M1670 589h0M1670 682h0"/>
<path stroke="#fc9065" d="M344 308h0M371 709h0M380 712h0M380 713h0M378 715h0M443 566h0M449 571h0M510 676h0M512 681h0M591 714h0M592 714h0M603 721h0M608 725h0M676 388h0M830 295h0M895 296h0M895 353h0M1048 1165h0M1062 1160h0M1090 1185h0M1116 393h0M1104 582h0M1115 1108h0M1114 1108h0M1108 1113h0M1133 1124h0M1113 1127h0M1131 1134h0M1124 1205h0M1175 644h0M1178 811h0M1151 832h0M1189 758h0M1189 855h0M1252 550h0M1276 747h0M1272 757h0M1277 772h0M1262 778h0M1263 815h0M1337 704h0M1315 751h0M1372 500h0M1363 572h0M1359 715h0M1351 799h0M1418 807h0M1401 854h0M1419 865h0M1452 823h0M1455 829h0M1455 840h0M1460 913h0M1469 919h0M1512 573h0M1525 722h0M1526 835h0M1514 869h0M1520 883h0"/>
<path stroke="#fcdc9c" d="M1170 759h0"/>
<path stroke="#020106" d="M376 712h0M443 567h0M447 570h0M444 570h0M453 575h0M614 385h0M614 388h0M618 389h0M604 725h0M644 375h0M649 377h0M622 378h0M659 381h0M629 383h0M636 397h0M623 405h0M645 418h0M641 427h0M648 433h0M631 446h0M627 448h0M634 453h0M634 454h0M653 464h0M650 465h0M670 384h0M666 395h0M683 399h0M684 408h0M684 415h0M667 478h0M669 480h0M731 439h0M731 440h0M708 468h0M767 266h0M763 266h0M777 269h0M768 283h0M771 291h0M766 296h0M774 299h0M774 302h0M775 335h0M775 337h0M759 346h0M752 352h0M748 352h0M769 456h0M770 460h0M806 230h0M801 239h0M795 249h0M809 253h0M796 266h0M804 268h0M815 276h0M807 282h0M801 291h0M802 293h0M809 297h0M799 298h0M784 298h0M819 300h0M820 310h0M808 311h0M806 312h0M816 313h0M783 330h0M815 344h0M808 434h0M792 435h0M804 462h0M796 482h0M785 483h0M788 484h0M814 501h0M819 516h0M841 224h0M841 224h0M840 224h0M829 225h0M841 225h0M823 226h0M832 228h0M824 228h0M838 231h0M846 236h0M846 240h0M832 242h0M853 242h0M839 243h0M855 245h0M856 251h0M821 251h0M857 251h0M858 255h0M842 255h0M823 263h0M844 264h0M848 274h0M850 274h0M837 275h0M848 290h0M841 293h0M860 299h0M848 302h0M858 303h0M848 303h0M836 306h0M846 310h0M855 313h0M852 314h0M846 315h0M843 315h0M857 319h0M857 319h0M850 320h0M824 322h0M845 323h0M839 343h0M836 385h0M823 452h0M829 464h0M820 466h0M846 471h0M826 472h0M840 472h0M851 477h0M843 492h0M846 494h0M843 496h0M839 496h0M860 497h0M839 498h0M850 503h0M841 506h0M873 227h0M894 234h0M862 242h0M860 245h0M869 249h0M880 249h0M870 251h0M897 256h0M881 257h0M875 257h0M876 257h0M877 261h0M880 261h0M893 262h0M899 264h0M880 265h0M899 273h0M866 274h0M863 274h0M872 275h0M890 278h0M889 279h0M874 282h0M877 282h0M864 285h0M871 289h0M875 291h0M894 291h0M883 293h0M893 296h0M866 300h0M875 301h0M869 302h0M891 306h0M896 308h0M870 313h0M874 313h0M883 321h0M877 346h0M894 350h0M867 356h0M864 371h0M887 402h0M865 410h0M876 418h0M878 422h0M875 422h0M916 220h0M908 224h0M913 227h0M913 229h0M937 230h0M914 231h0M912 233h0M938 236h0M908 237h0M927 238h0M921 241h0M933 247h0M914 248h0M900 252h0M922 257h0M939 259h0M939 260h0M905 267h0M926 273h0M937 273h0M931 273h0M924 274h0M908 277h0M918 277h0M917 277h0M919 278h0M909 279h0M933 279h0M911 282h0M909 285h0M917 286h0M931 289h0M925 293h0M926 295h0M932 297h0M920 298h0M921 305h0M939 311h0M911 319h0M905 319h0M914 322h0M928 326h0M907 327h0M936 331h0M914 333h0M945 237h0M961 238h0M942 238h0M975 241h0M975 244h0M975 250h0M945 253h0M941 255h0M962 255h0M954 255h0M957 258h0M961 263h0M967 266h0M942 270h0M964 272h0M957 272h0M951 273h0M943 274h0M943 275h0M948 276h0M966 279h0M955 279h0M965 282h0M947 282h0M961 283h0M977 286h0M961 287h0M953 291h0M976 292h0M962 293h0M949 296h0M964 297h0M957 300h0M965 302h0M945 304h0M956 306h0M968 313h0M974 314h0M953 319h0M951 320h0M961 321h0M957 322h0M941 336h0M968 349h0M971 1103h0M966 1112h0M966 1123h0M978 1131h0M969 1133h0M990 240h0M993 246h0M993 265h0M989 266h0M1001 269h0M991 272h0M980 273h0M1003 286h0M1017 292h0M1006 300h0M993 303h0M985 314h0M985 318h0M1008 332h0M1004 334h0M1001 334h0M1014 335h0M1003 337h0M993 1086h0M1019 1098h0M995 1114h0M1014 1120h0M981 1122h0M995 1129h0M994 1148h0M1016 1155h0M1009 1155h0M1033 292h0M1036 293h0M1025 294h0M1033 301h0M1029 336h0M1022 339h0M1044 498h0M1057 513h0M1054 513h0M1040 525h0M1024 529h0M1041 533h0M1038 538h0M1036 541h0M1026 542h0M1026 545h0M1041 547h0M1059 555h0M1032 561h0M1052 568h0M1050 568h0M1029 577h0M1026 578h0M1057 582h0M1041 586h0M1059 590h0M1059 1095h0M1032 1144h0M1058 1158h0M1075 341h0M1084 342h0M1065 347h0M1062 348h0M1099 355h0M1096 359h0M1081 359h0M1085 360h0M1062 360h0M1095 360h0M1100 361h0M1090 367h0M1094 370h0M1098 373h0M1096 381h0M1087 385h0M1068 385h0M1075 391h0M1093 398h0M1074 399h0M1070 405h0M1065 407h0M1084 408h0M1075 412h0M1083 412h0M1084 416h0M1083 419h0M1070 421h0M1077 430h0M1074 434h0M1087 436h0M1083 438h0M1079 447h0M1099 453h0M1097 456h0M1078 458h0M1095 461h0M1081 462h0M1080 476h0M1098 489h0M1074 489h0M1074 490h0M1071 501h0M1077 503h0M1096 510h0M1078 513h0M1097 514h0M1074 515h0M1062 517h0M1073 524h0M1089 529h0M1066 529h0M1067 538h0M1061 541h0M1075 544h0M1062 544h0M1085 547h0M1066 549h0M1086 551h0M1075 564h0M1070 577h0M1081 585h0M1094 597h0M1063 598h0M1086 603h0M1074 608h0M1074 609h0M1093 610h0M1099 616h0M1081 624h0M1097 635h0M1072 1128h0M1065 1134h0M1098 1188h0M1087 1198h0M1125 333h0M1114 333h0M1116 335h0M1104 338h0M1134 343h0M1137 344h0M1123 352h0M1134 355h0M1134 370h0M1121 370h0M1113 374h0M1134 375h0M1129 379h0M1110 379h0M1128 380h0M1133 381h0M1130 384h0M1105 387h0M1111 392h0M1133 392h0M1137 394h0M1114 394h0M1134 395h0M1136 398h0M1113 412h0M1119 412h0M1114 417h0M1137 418h0M1115 421h0M1125 421h0M1136 433h0M1107 435h0M1114 442h0M1131 442h0M1102 447h0M1107 455h0M1124 457h0M1108 474h0M1108 474h0M1104 480h0M1108 480h0M1107 486h0M1125 487h0M1114 499h0M1120 506h0M1108 511h0M1129 512h0M1123 513h0M1124 514h0M1107 518h0M1105 520h0M1114 536h0M1116 539h0M1117 544h0M1116 551h0M1118 551h0M1109 554h0M1136 563h0M1113 566h0M1129 571h0M1117 577h0M1130 580h0M1138 581h0M1128 581h0M1133 584h0M1138 594h0M1124 596h0M1104 612h0M1128 617h0M1128 617h0M1103 617h0M1106 618h0M1119 623h0M1101 627h0M1131 628h0M1124 630h0M1138 631h0M1140 633h0M1108 640h0M1120 646h0M1127 651h0M1125 653h0M1133 663h0M1122 1105h0M1119 1106h0M1136 1115h0M1130 1134h0M1118 1172h0M1109 1180h0M1118 1184h0M1126 1204h0M1174 332h0M1158 336h0M1154 336h0M1177 338h0M1173 338h0M1178 339h0M1151 340h0M1142 340h0M1167 341h0M1140 343h0M1168 345h0M1144 346h0M1170 354h0M1147 354h0M1165 354h0M1150 354h0M1155 357h0M1179 359h0M1141 360h0M1169 364h0M1145 376h0M1157 379h0M1168 388h0M1155 389h0M1176 390h0M1144 398h0M1159 401h0M1141 401h0M1161 403h0M1150 403h0M1163 404h0M1155 405h0M1175 407h0M1158 409h0M1155 410h0M1162 411h0M1149 417h0M1142 418h0M1162 418h0M1179 419h0M1153 425h0M1141 433h0M1170 439h0M1178 440h0M1145 441h0M1158 443h0M1162 444h0M1160 447h0M1176 448h0M1155 491h0M1172 507h0M1169 509h0M1148 530h0M1173 532h0M1161 534h0M1144 538h0M1150 543h0M1152 547h0M1174 549h0M1147 558h0M1158 559h0M1172 560h0M1146 561h0M1179 561h0M1156 563h0M1151 567h0M1158 574h0M1151 578h0M1162 580h0M1149 585h0M1145 586h0M1165 586h0M1161 594h0M1158 600h0M1165 603h0M1172 609h0M1171 619h0M1178 623h0M1176 627h0M1145 628h0M1158 631h0M1167 632h0M1141 636h0M1155 636h0M1141 651h0M1170 653h0M1152 655h0M1159 657h0M1140 659h0M1172 660h0M1142 666h0M1170 674h0M1163 679h0M1172 679h0M1147 682h0M1178 691h0M1160 693h0M1163 697h0M1151 740h0M1166 742h0M1175 744h0M1155 744h0M1149 756h0M1149 756h0M1151 767h0M1180 768h0M1163 774h0M1160 777h0M1153 779h0M1168 780h0M1175 781h0M1140 799h0M1168 799h0M1166 811h0M1145 825h0M1168 825h0M1151 844h0M1166 1100h0M1190 339h0M1218 343h0M1217 344h0M1194 348h0M1202 348h0M1182 350h0M1189 352h0M1204 353h0M1213 353h0M1195 355h0M1201 357h0M1204 361h0M1184 363h0M1214 364h0M1183 364h0M1207 364h0M1212 364h0M1220 367h0M1186 367h0M1211 367h0M1200 370h0M1186 373h0M1211 373h0M1190 374h0M1197 376h0M1220 382h0M1214 383h0M1188 384h0M1193 389h0M1181 393h0M1202 397h0M1218 398h0M1183 400h0M1185 401h0M1210 406h0M1187 409h0M1193 410h0M1202 418h0M1196 422h0M1181 423h0M1190 428h0M1220 435h0M1191 438h0M1213 441h0M1191 442h0M1213 444h0M1216 446h0M1183 447h0M1219 449h0M1189 452h0M1195 453h0M1192 454h0M1218 455h0M1191 462h0M1217 469h0M1216 470h0M1198 471h0M1207 472h0M1219 475h0M1205 493h0M1190 497h0M1204 502h0M1211 510h0M1204 520h0M1205 523h0M1212 533h0M1192 535h0M1217 541h0M1212 543h0M1220 543h0M1208 546h0M1185 555h0M1194 558h0M1206 560h0M1210 568h0M1188 571h0M1193 572h0M1193 574h0M1209 578h0M1213 585h0M1199 594h0M1203 594h0M1194 599h0M1197 601h0M1189 604h0M1215 618h0M1211 622h0M1216 628h0M1199 638h0M1198 647h0M1182 650h0M1184 653h0M1211 665h0M1196 668h0M1201 668h0M1203 674h0M1204 676h0M1194 678h0M1217 686h0M1216 689h0M1197 691h0M1189 694h0M1195 698h0M1216 699h0M1213 703h0M1207 706h0M1218 734h0M1214 753h0M1192 777h0M1202 778h0M1188 781h0M1208 782h0M1191 791h0M1196 800h0M1202 800h0M1199 808h0M1191 810h0M1187 822h0M1216 828h0M1183 836h0M1195 838h0M1194 857h0M1224 345h0M1258 348h0M1254 352h0M1251 355h0M1248 360h0M1220 368h0M1240 370h0M1239 375h0M1254 377h0M1239 380h0M1234 389h0M1234 402h0M1229 404h0M1246 411h0M1232 411h0M1227 412h0M1257 417h0M1227 422h0M1257 423h0M1232 423h0M1227 424h0M1246 424h0M1257 427h0M1224 429h0M1234 430h0M1242 430h0M1240 432h0M1251 439h0M1225 441h0M1231 447h0M1252 454h0M1226 456h0M1259 457h0M1240 460h0M1259 460h0M1247 461h0M1225 463h0M1246 465h0M1240 466h0M1221 466h0M1237 468h0M1259 468h0M1249 472h0M1249 488h0M1233 497h0M1226 501h0M1260 509h0M1259 521h0M1246 527h0M1232 532h0M1245 533h0M1249 535h0M1255 553h0M1257 556h0M1235 560h0M1243 569h0M1252 571h0M1251 574h0M1241 580h0M1254 584h0M1249 587h0M1259 589h0M1235 590h0M1221 593h0M1232 597h0M1233 600h0M1225 614h0M1244 636h0M1230 650h0M1237 658h0M1224 659h0M1230 665h0M1237 666h0M1226 675h0M1221 675h0M1239 681h0M1232 689h0M1245 708h0M1231 709h0M1250 736h0M1240 747h0M1231 765h0M1232 767h0M1224 769h0M1244 782h0M1259 793h0M1260 799h0M1242 806h0M1256 809h0M1242 817h0M1220 823h0M1241 832h0M1252 836h0M1254 846h0M1263 348h0M1262 351h0M1280 354h0M1275 359h0M1288 359h0M1264 362h0M1289 362h0M1277 365h0M1293 367h0M1272 367h0M1270 368h0M1270 369h0M1270 372h0M1267 379h0M1291 379h0M1282 386h0M1287 389h0M1292 392h0M1293 392h0M1291 400h0M1287 401h0M1278 402h0M1268 405h0M1271 414h0M1295 415h0M1298 415h0M1289 426h0M1291 426h0M1265 427h0M1267 433h0M1261 433h0M1261 433h0M1290 434h0M1268 434h0M1292 437h0M1267 440h0M1281 445h0M1281 446h0M1289 447h0M1272 448h0M1276 452h0M1286 454h0M1285 454h0M1272 455h0M1275 455h0M1269 460h0M1271 461h0M1269 461h0M1284 466h0M1260 467h0M1281 475h0M1279 477h0M1270 485h0M1272 488h0M1291 491h0M1285 495h0M1293 497h0M1269 499h0M1297 499h0M1290 499h0M1262 508h0M1277 515h0M1262 516h0M1293 531h0M1280 534h0M1298 538h0M1293 540h0M1297 542h0M1282 548h0M1287 553h0M1287 553h0M1272 560h0M1286 568h0M1267 571h0M1272 579h0M1276 591h0M1263 598h0M1280 615h0M1295 703h0M1279 710h0M1285 712h0M1265 717h0M1285 717h0M1298 728h0M1265 756h0M1263 778h0M1287 779h0M1289 780h0M1267 789h0M1261 790h0M1272 792h0M1271 803h0M1279 810h0M1261 813h0M1271 816h0M1260 826h0M1271 826h0M1302 375h0M1323 391h0M1308 396h0M1326 398h0M1320 399h0M1312 411h0M1312 412h0M1333 417h0M1338 419h0M1320 423h0M1328 428h0M1307 429h0M1325 429h0M1308 431h0M1326 431h0M1306 433h0M1329 433h0M1330 435h0M1308 435h0M1306 438h0M1304 442h0M1306 442h0M1309 443h0M1324 443h0M1332 448h0M1313 450h0M1329 451h0M1306 455h0M1321 455h0M1332 456h0M1311 460h0M1311 461h0M1325 463h0M1312 466h0M1307 467h0M1305 473h0M1328 475h0M1328 487h0M1331 488h0M1339 489h0M1312 494h0M1314 499h0M1300 499h0M1340 505h0M1333 511h0M1330 512h0M1326 518h0M1328 524h0M1310 525h0M1323 534h0M1329 547h0M1330 555h0M1326 560h0M1330 564h0M1306 569h0M1328 574h0M1338 582h0M1326 597h0M1333 598h0M1337 601h0M1317 604h0M1305 604h0M1301 609h0M1322 621h0M1334 622h0M1331 632h0M1305 667h0M1301 698h0M1307 705h0M1301 707h0M1310 712h0M1324 717h0M1306 722h0M1307 724h0M1302 728h0M1326 737h0M1309 743h0M1321 743h0M1301 748h0M1312 748h0M1338 772h0M1314 783h0M1342 433h0M1376 443h0M1365 443h0M1346 446h0M1377 449h0M1346 449h0M1371 450h0M1347 450h0M1368 451h0M1376 455h0M1358 462h0M1346 464h0M1370 469h0M1350 470h0M1351 475h0M1373 491h0M1369 495h0M1350 497h0M1343 506h0M1359 520h0M1351 522h0M1377 523h0M1360 523h0M1367 533h0M1360 535h0M1370 544h0M1341 550h0M1348 551h0M1378 553h0M1345 570h0M1340 574h0M1370 576h0M1343 580h0M1350 588h0M1374 589h0M1366 594h0M1353 595h0M1360 595h0M1341 596h0M1365 606h0M1365 668h0M1342 669h0M1373 670h0M1365 682h0M1344 683h0M1358 690h0M1378 690h0M1347 694h0M1340 697h0M1380 705h0M1353 725h0M1348 732h0M1372 750h0M1371 751h0M1344 753h0M1362 757h0M1353 759h0M1349 763h0M1372 786h0M1371 787h0M1372 791h0M1377 850h0M1415 433h0M1388 441h0M1410 465h0M1416 467h0M1420 471h0M1384 479h0M1418 481h0M1413 481h0M1409 481h0M1411 490h0M1394 498h0M1391 508h0M1396 516h0M1383 524h0M1395 531h0M1410 536h0M1416 541h0M1404 548h0M1393 548h0M1407 555h0M1391 557h0M1385 561h0M1417 562h0M1402 564h0M1399 565h0M1405 569h0M1386 570h0M1399 583h0M1397 585h0M1401 586h0M1396 600h0M1391 602h0M1384 602h0M1381 621h0M1413 624h0M1411 661h0M1394 667h0M1418 671h0M1415 681h0M1401 684h0M1412 690h0M1384 692h0M1400 692h0M1405 704h0M1416 716h0M1413 743h0M1395 753h0M1419 757h0M1380 768h0M1389 783h0M1408 824h0M1407 826h0M1399 828h0M1416 837h0M1396 841h0M1402 851h0M1412 854h0M1428 387h0M1440 389h0M1453 398h0M1434 406h0M1436 415h0M1456 416h0M1447 436h0M1426 460h0M1433 475h0M1448 483h0M1449 484h0M1443 489h0M1450 498h0M1457 509h0M1427 513h0M1454 514h0M1439 521h0M1421 522h0M1450 535h0M1433 536h0M1443 537h0M1440 545h0M1426 549h0M1437 552h0M1453 553h0M1442 556h0M1447 558h0M1427 559h0M1430 559h0M1422 560h0M1426 562h0M1448 569h0M1452 578h0M1457 603h0M1451 612h0M1455 614h0M1457 618h0M1456 622h0M1434 656h0M1438 672h0M1436 719h0M1421 744h0M1441 751h0M1436 755h0M1438 757h0M1430 762h0M1426 776h0M1432 789h0M1440 803h0M1432 817h0M1457 819h0M1454 822h0M1454 822h0M1458 822h0M1427 825h0M1427 828h0M1424 850h0M1423 867h0M1431 867h0M1432 868h0M1460 871h0M1434 884h0M1452 887h0M1465 400h0M1469 412h0M1468 414h0M1466 414h0M1475 415h0M1461 426h0M1472 428h0M1480 433h0M1461 435h0M1479 436h0M1474 440h0M1497 441h0M1498 456h0M1483 459h0M1481 466h0M1496 467h0M1460 468h0M1472 478h0M1465 480h0M1495 484h0M1485 490h0M1480 496h0M1499 498h0M1499 500h0M1489 505h0M1470 513h0M1490 526h0M1477 531h0M1468 541h0M1483 546h0M1486 546h0M1486 550h0M1483 554h0M1493 560h0M1463 562h0M1480 570h0M1496 575h0M1495 580h0M1471 595h0M1493 603h0M1484 615h0M1465 616h0M1480 616h0M1464 623h0M1471 806h0M1493 819h0M1474 824h0M1463 824h0M1496 830h0M1482 831h0M1476 837h0M1478 851h0M1472 880h0M1477 889h0M1497 896h0M1470 908h0M1487 922h0M1517 444h0M1508 457h0M1522 459h0M1505 480h0M1513 487h0M1523 487h0M1536 500h0M1507 500h0M1518 506h0M1518 512h0M1505 527h0M1519 551h0M1528 552h0M1527 552h0M1526 559h0M1507 560h0M1526 560h0M1525 573h0M1530 574h0M1519 585h0M1504 593h0M1516 711h0M1528 721h0M1514 725h0M1506 727h0M1539 730h0M1522 833h0M1501 839h0M1524 841h0M1520 854h0M1521 868h0M1513 885h0M1507 906h0M1508 909h0M1543 546h0M1580 644h0M1572 658h0M1570 658h0M1574 664h0M1547 668h0M1541 682h0M1567 701h0M1550 727h0M1562 738h0M1545 739h0M1574 740h0M1619 619h0M1614 627h0M1610 638h0M1594 641h0M1589 643h0M1581 646h0M1583 647h0M1612 649h0M1593 653h0M1612 653h0M1611 660h0M1613 662h0M1598 665h0M1591 666h0M1595 674h0M1612 674h0M1588 680h0M1581 685h0M1599 687h0M1620 688h0M1582 690h0M1589 708h0M1582 709h0M1589 727h0M1604 736h0M1639 596h0M1651 598h0M1647 599h0M1631 599h0M1644 604h0M1647 606h0M1653 608h0M1647 608h0M1653 612h0M1638 613h0M1655 615h0M1649 623h0M1637 624h0M1644 629h0M1620 629h0M1622 637h0M1648 639h0M1630 639h0M1643 641h0M1642 642h0M1646 645h0M1650 648h0M1643 651h0M1655 653h0M1653 670h0M1646 675h0M1649 678h0M1658 679h0M1645 680h0M1652 681h0M1634 693h0M1636 702h0M1643 705h0M1650 709h0M1695 599h0M1666 605h0M1698 606h0M1688 610h0M1685 613h0M1679 617h0M1696 621h0M1699 622h0M1668 625h0M1662 625h0M1681 628h0M1688 629h0M1671 631h0M1695 641h0M1675 649h0M1667 656h0M1686 660h0M1671 663h0M1672 664h0M1664 676h0M1661 680h0M1666 686h0M1668 689h0M1687 695h0M1675 712h0M1703 601h0M1705 604h0M1707 605h0M1705 605h0M1708 610h0M1705 622h0M1706 622h0M1709 632h0M1706 634h0M1705 634h0M1712 639h0M1709 641h0M1706 662h0M1716 677h0"/>
<path stroke="#721f81" d="M367 704h0M375 711h0M381 793h0M441 564h0M441 565h0M443 565h0M443 566h0M449 571h0M510 677h0M508 678h0M513 678h0M512 678h0M514 679h0M510 681h0M616 377h0M615 391h0M619 411h0M596 716h0M611 726h0M638 372h0M643 373h0M647 375h0M639 375h0M629 380h0M635 388h0M634 394h0M625 401h0M629 413h0M647 416h0M630 417h0M623 419h0M645 420h0M651 422h0M646 427h0M636 450h0M677 379h0M691 381h0M661 387h0M677 389h0M677 395h0M679 396h0M684 398h0M686 406h0M687 408h0M692 418h0M678 420h0M699 471h0M681 476h0M684 476h0M688 481h0M717 369h0M719 463h0M778 269h0M780 278h0M772 278h0M774 281h0M758 286h0M763 288h0M771 294h0M776 302h0M779 442h0M743 451h0M770 463h0M767 464h0M818 233h0M800 233h0M804 238h0M795 243h0M803 243h0M783 248h0M819 249h0M787 250h0M781 250h0M799 250h0M813 255h0M786 258h0M783 258h0M817 262h0M818 268h0M815 268h0M819 269h0M815 270h0M780 273h0M796 282h0M783 287h0M803 291h0M802 295h0M808 298h0M818 302h0M810 303h0M786 304h0M782 305h0M810 308h0M808 309h0M803 311h0M803 350h0M785 433h0M796 434h0M808 443h0M789 443h0M795 444h0M796 451h0M808 454h0M794 456h0M799 456h0M788 459h0M784 461h0M786 464h0M807 474h0M816 477h0M796 478h0M790 480h0M790 484h0M810 485h0M783 489h0M787 489h0M819 491h0M812 493h0M803 493h0M815 495h0M807 496h0M812 501h0M798 501h0M794 504h0M820 507h0M809 509h0M805 512h0M844 225h0M853 228h0M827 229h0M821 230h0M855 236h0M832 240h0M852 242h0M838 244h0M833 247h0M828 247h0M825 266h0M830 267h0M838 267h0M831 268h0M847 269h0M823 272h0M841 273h0M840 274h0M841 278h0M855 282h0M832 283h0M834 285h0M850 290h0M830 290h0M847 291h0M830 297h0M826 298h0M849 299h0M856 300h0M849 304h0M857 307h0M847 308h0M831 310h0M828 312h0M832 312h0M832 319h0M857 320h0M846 336h0M848 339h0M829 348h0M836 350h0M832 353h0M825 353h0M856 354h0M830 359h0M834 360h0M859 367h0M843 374h0M859 379h0M857 397h0M860 409h0M821 445h0M825 446h0M850 461h0M854 463h0M821 466h0M826 469h0M840 470h0M826 472h0M845 476h0M849 483h0M856 489h0M848 489h0M841 489h0M851 494h0M835 499h0M827 503h0M838 504h0M821 508h0M854 509h0M829 512h0M855 514h0M890 220h0M874 224h0M882 224h0M877 228h0M868 230h0M875 233h0M875 236h0M868 236h0M861 242h0M868 243h0M881 245h0M877 246h0M880 247h0M888 250h0M861 252h0M883 261h0M896 266h0M869 268h0M865 269h0M887 271h0M894 272h0M878 273h0M895 274h0M888 276h0M869 284h0M897 286h0M871 287h0M861 289h0M899 292h0M878 295h0M875 295h0M897 298h0M872 301h0M874 303h0M891 303h0M872 308h0M886 308h0M896 308h0M883 323h0M879 341h0M876 343h0M891 354h0M863 357h0M867 358h0M878 361h0M884 363h0M873 376h0M889 393h0M873 395h0M865 400h0M877 408h0M883 410h0M881 414h0M871 418h0M872 491h0M862 492h0M868 497h0M878 499h0M878 501h0M873 506h0M914 223h0M901 224h0M913 227h0M901 229h0M921 231h0M925 235h0M937 236h0M928 236h0M916 237h0M926 239h0M938 241h0M914 241h0M925 248h0M925 251h0M936 255h0M909 262h0M939 266h0M915 267h0M913 268h0M917 270h0M924 280h0M935 281h0M904 289h0M909 295h0M922 295h0M930 296h0M939 306h0M918 321h0M932 326h0M917 331h0M903 331h0M979 239h0M943 252h0M943 253h0M943 256h0M970 256h0M957 258h0M944 259h0M954 263h0M957 268h0M950 282h0M950 286h0M969 289h0M964 290h0M949 292h0M949 299h0M957 302h0M975 316h0M951 324h0M967 325h0M978 1091h0M976 1092h0M970 1106h0M968 1109h0M970 1110h0M965 1112h0M994 246h0M982 251h0M1015 291h0M1012 555h0M997 1088h0M1016 1090h0M996 1091h0M1010 1103h0M983 1104h0M1015 1125h0M990 1127h0M996 1132h0M999 1133h0M1002 1138h0M1006 1142h0M1030 288h0M1050 495h0M1056 500h0M1050 503h0M1060 508h0M1049 514h0M1055 514h0M1035 517h0M1037 518h0M1027 523h0M1044 534h0M1026 538h0M1045 546h0M1029 555h0M1031 556h0M1039 561h0M1059 594h0M1055 1095h0M1020 1100h0M1030 1111h0M1056 1129h0M1020 1135h0M1038 1135h0M1056 1136h0M1032 1142h0M1037 1147h0M1047 1149h0M1031 1152h0M1025 1154h0M1055 1158h0M1034 1158h0M1045 1165h0M1044 1173h0M1055 1174h0M1069 338h0M1077 341h0M1063 343h0M1066 346h0M1064 348h0M1068 356h0M1089 356h0M1094 365h0M1096 375h0M1083 384h0M1094 384h0M1081 387h0M1087 387h0M1070 389h0M1084 391h0M1078 399h0M1078 402h0M1065 404h0M1069 405h0M1062 407h0M1086 410h0M1098 414h0M1068 420h0M1063 422h0M1095 428h0M1091 432h0M1079 441h0M1074 442h0M1081 454h0M1082 481h0M1089 484h0M1093 484h0M1063 492h0M1066 501h0M1090 515h0M1092 523h0M1084 527h0M1075 529h0M1083 531h0M1063 531h0M1060 532h0M1080 534h0M1097 538h0M1067 547h0M1093 558h0M1072 566h0M1083 579h0M1073 598h0M1100 601h0M1068 610h0M1095 612h0M1098 626h0M1085 626h0M1078 1096h0M1074 1097h0M1086 1110h0M1093 1111h0M1093 1120h0M1081 1121h0M1069 1124h0M1091 1126h0M1077 1140h0M1064 1146h0M1078 1146h0M1100 1154h0M1088 1172h0M1066 1182h0M1072 1182h0M1074 1185h0M1092 1189h0M1072 1194h0M1098 1203h0M1096 1204h0M1124 333h0M1121 335h0M1130 338h0M1134 341h0M1139 347h0M1124 349h0M1135 351h0M1112 369h0M1134 369h0M1131 374h0M1100 378h0M1136 385h0M1134 391h0M1117 391h0M1127 395h0M1134 400h0M1110 403h0M1116 410h0M1137 415h0M1123 415h0M1116 419h0M1118 424h0M1113 427h0M1121 433h0M1134 436h0M1137 436h0M1139 443h0M1120 445h0M1109 448h0M1105 454h0M1116 490h0M1101 497h0M1120 498h0M1124 501h0M1104 513h0M1109 517h0M1111 525h0M1128 529h0M1120 533h0M1133 543h0M1133 550h0M1119 556h0M1127 562h0M1113 567h0M1110 568h0M1133 571h0M1139 571h0M1119 575h0M1117 575h0M1137 576h0M1134 578h0M1105 578h0M1137 583h0M1121 584h0M1137 586h0M1114 595h0M1135 597h0M1112 609h0M1131 617h0M1136 626h0M1112 632h0M1124 632h0M1128 634h0M1119 635h0M1131 635h0M1132 638h0M1106 639h0M1125 648h0M1100 1101h0M1138 1107h0M1108 1124h0M1107 1124h0M1116 1130h0M1123 1134h0M1127 1137h0M1108 1149h0M1115 1149h0M1129 1168h0M1121 1168h0M1123 1170h0M1103 1177h0M1138 1181h0M1136 1196h0M1117 1198h0M1137 1204h0M1132 1206h0M1120 1209h0M1107 1214h0M1157 342h0M1154 352h0M1161 358h0M1153 360h0M1143 365h0M1177 365h0M1152 376h0M1168 378h0M1146 385h0M1164 386h0M1144 386h0M1147 387h0M1164 390h0M1172 392h0M1167 393h0M1166 398h0M1179 401h0M1168 410h0M1171 423h0M1178 424h0M1148 430h0M1177 433h0M1143 440h0M1147 445h0M1167 446h0M1175 451h0M1159 457h0M1172 460h0M1172 464h0M1167 473h0M1174 491h0M1176 519h0M1151 532h0M1171 546h0M1154 553h0M1155 559h0M1161 564h0M1167 575h0M1160 580h0M1164 582h0M1170 585h0M1170 589h0M1161 605h0M1145 607h0M1180 607h0M1174 611h0M1170 612h0M1145 624h0M1179 627h0M1165 640h0M1174 642h0M1178 643h0M1161 646h0M1170 653h0M1180 665h0M1161 673h0M1165 674h0M1149 676h0M1155 681h0M1168 719h0M1163 764h0M1153 771h0M1147 775h0M1154 778h0M1141 780h0M1148 786h0M1156 799h0M1141 804h0M1150 808h0M1162 814h0M1153 822h0M1167 825h0M1166 829h0M1168 830h0M1170 840h0M1147 1108h0M1146 1111h0M1146 1116h0M1181 334h0M1211 348h0M1193 360h0M1191 371h0M1211 375h0M1212 376h0M1214 389h0M1197 395h0M1184 400h0M1201 402h0M1214 405h0M1212 418h0M1187 421h0M1206 422h0M1217 425h0M1195 433h0M1209 449h0M1181 452h0M1189 457h0M1220 477h0M1219 521h0M1185 538h0M1185 541h0M1209 544h0M1192 550h0M1185 553h0M1192 554h0M1214 564h0M1204 567h0M1193 575h0M1213 583h0M1213 585h0M1202 588h0M1190 597h0M1181 602h0M1213 610h0M1190 612h0M1198 615h0M1189 625h0M1182 626h0M1186 627h0M1195 630h0M1215 631h0M1216 633h0M1186 639h0M1213 640h0M1217 641h0M1198 641h0M1195 662h0M1212 664h0M1185 678h0M1204 679h0M1203 680h0M1200 690h0M1193 696h0M1209 699h0M1199 701h0M1193 735h0M1205 764h0M1200 804h0M1194 807h0M1180 811h0M1216 819h0M1205 823h0M1213 827h0M1193 830h0M1183 830h0M1205 844h0M1188 857h0M1226 342h0M1233 346h0M1245 367h0M1221 374h0M1242 378h0M1259 379h0M1224 381h0M1241 386h0M1235 406h0M1236 406h0M1246 414h0M1250 416h0M1226 423h0M1255 424h0M1250 425h0M1257 430h0M1236 431h0M1236 431h0M1231 438h0M1257 440h0M1237 441h0M1245 449h0M1258 454h0M1245 458h0M1237 465h0M1249 467h0M1253 467h0M1225 488h0M1253 499h0M1253 503h0M1253 508h0M1231 509h0M1252 515h0M1245 521h0M1228 537h0M1252 543h0M1249 556h0M1242 559h0M1252 560h0M1239 562h0M1240 563h0M1250 566h0M1239 568h0M1231 569h0M1224 569h0M1234 570h0M1226 576h0M1226 577h0M1243 581h0M1257 582h0M1221 584h0M1258 599h0M1243 610h0M1225 613h0M1220 652h0M1233 663h0M1243 668h0M1239 687h0M1232 693h0M1248 695h0M1235 707h0M1256 707h0M1243 713h0M1234 716h0M1255 754h0M1233 756h0M1226 760h0M1257 764h0M1260 768h0M1230 770h0M1258 773h0M1251 775h0M1242 784h0M1239 803h0M1231 805h0M1255 812h0M1240 814h0M1254 817h0M1230 819h0M1243 827h0M1241 828h0M1229 838h0M1255 849h0M1276 356h0M1275 366h0M1284 376h0M1265 378h0M1295 385h0M1274 390h0M1281 392h0M1280 398h0M1299 402h0M1296 408h0M1260 409h0M1267 411h0M1277 417h0M1273 437h0M1271 440h0M1294 446h0M1274 448h0M1277 458h0M1290 480h0M1274 481h0M1263 489h0M1293 489h0M1273 492h0M1292 498h0M1276 509h0M1291 510h0M1268 517h0M1300 517h0M1263 520h0M1268 527h0M1293 528h0M1264 533h0M1279 534h0M1293 548h0M1291 549h0M1296 549h0M1264 556h0M1274 556h0M1270 557h0M1292 563h0M1282 577h0M1281 578h0M1282 585h0M1280 588h0M1268 588h0M1286 592h0M1287 600h0M1260 600h0M1286 610h0M1268 619h0M1293 627h0M1280 695h0M1265 699h0M1288 703h0M1293 709h0M1270 711h0M1273 735h0M1281 739h0M1264 753h0M1274 758h0M1261 759h0M1272 762h0M1264 782h0M1271 790h0M1274 795h0M1282 806h0M1292 818h0M1262 822h0M1293 827h0M1292 830h0M1277 833h0M1266 834h0M1268 844h0M1306 380h0M1306 390h0M1323 397h0M1329 410h0M1319 417h0M1308 421h0M1327 422h0M1306 425h0M1333 431h0M1303 436h0M1327 436h0M1323 436h0M1332 443h0M1315 449h0M1325 451h0M1327 452h0M1338 454h0M1322 472h0M1327 473h0M1325 476h0M1316 481h0M1303 486h0M1306 488h0M1319 497h0M1339 500h0M1336 502h0M1303 505h0M1331 510h0M1312 511h0M1314 528h0M1318 537h0M1309 552h0M1316 556h0M1331 567h0M1304 569h0M1321 573h0M1302 573h0M1310 580h0M1306 585h0M1304 593h0M1308 600h0M1309 600h0M1331 605h0M1311 606h0M1335 608h0M1317 616h0M1315 661h0M1333 664h0M1326 683h0M1340 696h0M1305 702h0M1336 703h0M1340 711h0M1302 721h0M1316 721h0M1332 725h0M1304 730h0M1317 742h0M1326 747h0M1323 762h0M1312 763h0M1320 771h0M1332 802h0M1301 820h0M1331 845h0M1335 847h0M1359 453h0M1360 456h0M1348 457h0M1352 460h0M1343 461h0M1355 463h0M1375 463h0M1366 464h0M1354 464h0M1347 466h0M1360 475h0M1379 482h0M1340 505h0M1361 506h0M1362 511h0M1371 512h0M1369 513h0M1355 516h0M1373 517h0M1361 528h0M1361 530h0M1353 536h0M1342 536h0M1350 539h0M1362 539h0M1363 557h0M1370 578h0M1344 580h0M1365 581h0M1362 586h0M1357 593h0M1380 598h0M1355 618h0M1374 625h0M1362 625h0M1347 635h0M1362 642h0M1365 663h0M1375 674h0M1361 674h0M1367 700h0M1343 700h0M1340 703h0M1380 731h0M1343 731h0M1347 741h0M1366 742h0M1362 748h0M1366 750h0M1347 800h0M1340 845h0M1366 852h0M1378 857h0M1417 392h0M1392 459h0M1383 459h0M1382 471h0M1403 472h0M1388 472h0M1383 495h0M1388 501h0M1387 502h0M1413 507h0M1382 517h0M1400 518h0M1413 521h0M1416 522h0M1392 530h0M1399 532h0M1413 534h0M1416 534h0M1394 554h0M1413 558h0M1383 559h0M1394 570h0M1381 571h0M1410 573h0M1393 583h0M1397 586h0M1401 592h0M1398 597h0M1397 601h0M1389 621h0M1382 621h0M1381 633h0M1380 640h0M1409 671h0M1398 688h0M1387 717h0M1405 724h0M1384 725h0M1388 733h0M1396 739h0M1387 752h0M1418 822h0M1416 824h0M1409 832h0M1393 833h0M1395 840h0M1388 855h0M1385 855h0M1416 865h0M1420 871h0M1421 385h0M1430 388h0M1444 388h0M1434 393h0M1445 396h0M1447 409h0M1454 413h0M1441 424h0M1441 428h0M1455 445h0M1438 461h0M1452 486h0M1422 491h0M1428 491h0M1431 491h0M1450 492h0M1458 509h0M1457 514h0M1445 524h0M1455 531h0M1448 543h0M1424 546h0M1428 546h0M1425 549h0M1429 553h0M1453 576h0M1451 576h0M1452 597h0M1452 598h0M1450 600h0M1452 614h0M1448 648h0M1427 699h0M1426 702h0M1441 716h0M1449 785h0M1435 788h0M1456 796h0M1430 805h0M1454 811h0M1435 819h0M1450 837h0M1452 843h0M1459 854h0M1428 863h0M1447 890h0M1442 895h0M1462 398h0M1464 399h0M1462 400h0M1480 410h0M1467 410h0M1466 421h0M1487 424h0M1463 432h0M1475 434h0M1485 449h0M1462 454h0M1491 457h0M1468 468h0M1497 470h0M1466 472h0M1491 476h0M1475 501h0M1477 509h0M1482 509h0M1477 513h0M1497 518h0M1499 527h0M1483 532h0M1478 537h0M1491 539h0M1484 550h0M1489 553h0M1495 557h0M1497 571h0M1496 577h0M1487 579h0M1466 589h0M1489 604h0M1488 611h0M1474 611h0M1471 614h0M1468 616h0M1472 620h0M1468 804h0M1489 808h0M1485 809h0M1473 810h0M1485 815h0M1466 826h0M1482 827h0M1483 828h0M1480 833h0M1477 835h0M1474 849h0M1466 849h0M1470 883h0M1470 891h0M1494 900h0M1470 904h0M1471 906h0M1489 906h0M1498 908h0M1505 436h0M1501 441h0M1520 449h0M1502 450h0M1522 450h0M1516 457h0M1504 469h0M1530 485h0M1513 489h0M1506 489h0M1500 492h0M1533 498h0M1501 502h0M1506 506h0M1521 509h0M1500 509h0M1525 516h0M1506 518h0M1503 524h0M1501 531h0M1530 531h0M1526 534h0M1528 539h0M1501 539h0M1520 547h0M1506 547h0M1530 567h0M1501 568h0M1512 576h0M1537 579h0M1525 705h0M1525 710h0M1535 718h0M1505 738h0M1501 743h0M1537 744h0M1509 826h0M1518 832h0M1503 835h0M1515 837h0M1519 874h0M1519 881h0M1525 884h0M1513 886h0M1522 888h0M1517 892h0M1515 894h0M1501 900h0M1503 900h0M1505 911h0M1543 549h0M1564 659h0M1557 668h0M1578 668h0M1550 678h0M1547 683h0M1548 685h0M1563 686h0M1554 694h0M1543 704h0M1569 711h0M1574 714h0M1577 719h0M1556 723h0M1553 723h0M1554 727h0M1557 728h0M1572 731h0M1572 740h0M1619 618h0M1615 633h0M1589 642h0M1619 646h0M1605 666h0M1610 668h0M1609 683h0M1596 687h0M1590 700h0M1601 701h0M1597 704h0M1603 706h0M1594 710h0M1605 710h0M1589 715h0M1592 717h0M1607 723h0M1588 723h0M1595 724h0M1599 725h0M1597 727h0M1590 738h0M1635 597h0M1630 598h0M1625 609h0M1648 620h0M1648 620h0M1633 646h0M1653 649h0M1623 657h0M1639 657h0M1638 675h0M1646 677h0M1630 679h0M1656 681h0M1656 681h0M1627 683h0M1657 687h0M1637 689h0M1644 691h0M1657 693h0M1638 694h0M1642 704h0M1623 713h0M1620 720h0M1633 721h0M1621 723h0M1698 588h0M1694 588h0M1673 590h0M1688 590h0M1691 599h0M1686 614h0M1697 617h0M1667 622h0M1669 624h0M1661 634h0M1665 635h0M1671 645h0M1681 655h0M1678 660h0M1689 670h0M1673 671h0M1678 682h0M1707 628h0M1712 649h0M1710 649h0M1702 658h0M1715 669h0M1715 669h0M1723 670h0M1713 671h0"/>
<path stroke="#c03a76" d="M373 709h0M372 709h0M381 714h0M441 566h0M450 572h0M507 676h0M509 677h0M519 683h0M619 378h0M616 383h0M591 716h0M596 719h0M622 391h0M626 395h0M628 403h0M622 446h0M623 449h0M637 453h0M637 454h0M645 454h0M637 455h0M635 456h0M653 464h0M657 467h0M645 872h0M668 381h0M665 388h0M683 408h0M694 475h0M686 480h0M714 461h0M719 462h0M777 281h0M763 288h0M766 292h0M775 452h0M770 462h0M801 246h0M809 277h0M794 286h0M816 315h0M808 372h0M811 393h0M803 427h0M795 434h0M803 436h0M794 437h0M815 453h0M819 453h0M805 457h0M788 467h0M814 470h0M804 470h0M804 472h0M810 491h0M791 501h0M811 512h0M814 515h0M823 251h0M840 273h0M833 289h0M847 307h0M829 342h0M825 368h0M848 370h0M858 375h0M822 388h0M857 390h0M824 444h0M825 458h0M849 459h0M835 459h0M841 460h0M853 502h0M833 504h0M882 223h0M874 279h0M894 315h0M889 327h0M872 345h0M885 354h0M879 369h0M862 379h0M867 384h0M862 401h0M876 418h0M865 485h0M876 496h0M875 500h0M869 506h0M879 507h0M937 255h0M914 318h0M918 318h0M920 323h0M936 329h0M904 332h0M948 243h0M978 320h0M975 1117h0M964 1117h0M973 1121h0M1020 548h0M989 1083h0M992 1087h0M996 1094h0M1005 1106h0M989 1141h0M1018 1141h0M1005 1152h0M1029 348h0M1050 505h0M1036 505h0M1053 536h0M1030 571h0M1049 574h0M1037 574h0M1045 1092h0M1041 1095h0M1049 1097h0M1027 1100h0M1035 1105h0M1037 1105h0M1039 1105h0M1059 1109h0M1052 1115h0M1021 1117h0M1046 1127h0M1054 1135h0M1056 1138h0M1056 1139h0M1056 1171h0M1040 1173h0M1084 437h0M1089 480h0M1075 498h0M1068 502h0M1071 506h0M1085 517h0M1070 517h0M1087 524h0M1065 530h0M1069 536h0M1078 537h0M1065 537h0M1076 567h0M1095 586h0M1085 587h0M1095 593h0M1073 609h0M1062 1097h0M1094 1100h0M1068 1105h0M1082 1113h0M1065 1120h0M1077 1123h0M1069 1124h0M1084 1129h0M1070 1130h0M1092 1130h0M1094 1132h0M1097 1141h0M1099 1145h0M1066 1155h0M1094 1155h0M1071 1156h0M1094 1168h0M1074 1168h0M1079 1170h0M1082 1176h0M1096 1176h0M1099 1176h0M1068 1176h0M1068 1180h0M1066 1185h0M1086 1189h0M1128 348h0M1136 360h0M1119 367h0M1106 381h0M1104 399h0M1116 551h0M1125 569h0M1105 572h0M1119 572h0M1123 578h0M1133 578h0M1121 580h0M1123 594h0M1103 598h0M1139 599h0M1103 604h0M1122 610h0M1113 615h0M1112 619h0M1126 621h0M1101 630h0M1140 634h0M1139 806h0M1111 1104h0M1106 1124h0M1131 1129h0M1108 1160h0M1132 1165h0M1115 1166h0M1126 1171h0M1116 1179h0M1110 1187h0M1126 1188h0M1116 1214h0M1173 354h0M1151 427h0M1174 428h0M1167 437h0M1164 453h0M1143 506h0M1173 562h0M1160 578h0M1156 583h0M1151 586h0M1168 595h0M1142 600h0M1147 611h0M1163 624h0M1178 643h0M1156 698h0M1156 725h0M1156 756h0M1153 763h0M1165 768h0M1160 768h0M1159 771h0M1175 771h0M1175 772h0M1167 776h0M1147 781h0M1164 785h0M1178 797h0M1178 807h0M1155 809h0M1151 809h0M1166 812h0M1174 816h0M1169 828h0M1178 837h0M1179 851h0M1142 1122h0M1144 1171h0M1142 1182h0M1190 337h0M1213 393h0M1197 396h0M1201 408h0M1198 445h0M1192 563h0M1195 585h0M1207 585h0M1181 590h0M1189 618h0M1209 626h0M1200 628h0M1194 631h0M1202 633h0M1189 634h0M1201 635h0M1189 640h0M1219 641h0M1190 644h0M1213 644h0M1184 671h0M1202 685h0M1181 778h0M1186 796h0M1184 797h0M1210 798h0M1206 799h0M1204 815h0M1210 817h0M1208 820h0M1215 821h0M1208 822h0M1209 822h0M1181 830h0M1209 833h0M1219 839h0M1208 839h0M1181 853h0M1201 860h0M1222 348h0M1257 352h0M1250 377h0M1241 464h0M1258 474h0M1257 482h0M1241 503h0M1243 515h0M1243 516h0M1244 516h0M1248 527h0M1257 547h0M1250 549h0M1235 550h0M1259 557h0M1224 562h0M1229 577h0M1236 579h0M1222 590h0M1247 606h0M1253 611h0M1222 617h0M1221 637h0M1236 643h0M1233 685h0M1240 732h0M1226 755h0M1221 779h0M1241 784h0M1230 789h0M1252 791h0M1238 798h0M1229 804h0M1236 807h0M1243 807h0M1228 810h0M1223 810h0M1247 810h0M1220 815h0M1256 817h0M1246 817h0M1249 827h0M1221 836h0M1226 838h0M1239 849h0M1232 849h0M1290 373h0M1273 373h0M1290 450h0M1296 471h0M1263 485h0M1299 496h0M1284 501h0M1267 506h0M1267 513h0M1270 522h0M1282 523h0M1279 526h0M1266 542h0M1269 543h0M1298 544h0M1295 549h0M1261 567h0M1265 567h0M1276 575h0M1267 581h0M1274 587h0M1268 601h0M1284 603h0M1281 605h0M1279 697h0M1300 738h0M1281 751h0M1294 757h0M1294 760h0M1274 765h0M1281 768h0M1268 768h0M1261 769h0M1261 774h0M1271 778h0M1277 785h0M1263 793h0M1286 804h0M1295 811h0M1300 814h0M1291 820h0M1294 821h0M1268 823h0M1285 851h0M1317 394h0M1312 394h0M1327 411h0M1314 416h0M1333 442h0M1312 449h0M1327 450h0M1309 450h0M1302 469h0M1338 483h0M1318 485h0M1339 486h0M1309 486h0M1324 487h0M1305 501h0M1310 508h0M1332 509h0M1307 520h0M1339 521h0M1326 523h0M1337 527h0M1334 528h0M1323 529h0M1335 531h0M1307 532h0M1306 533h0M1301 534h0M1301 573h0M1327 583h0M1300 595h0M1322 602h0M1330 607h0M1327 609h0M1333 612h0M1327 636h0M1310 640h0M1319 645h0M1318 645h0M1339 649h0M1339 664h0M1321 703h0M1323 712h0M1301 752h0M1300 755h0M1314 766h0M1311 781h0M1326 781h0M1300 788h0M1335 797h0M1338 800h0M1306 802h0M1328 803h0M1337 847h0M1367 456h0M1355 466h0M1360 467h0M1374 481h0M1369 483h0M1346 485h0M1362 498h0M1360 503h0M1341 512h0M1350 512h0M1365 520h0M1369 521h0M1344 532h0M1371 539h0M1378 542h0M1354 561h0M1348 568h0M1346 570h0M1362 570h0M1349 571h0M1375 581h0M1367 600h0M1379 600h0M1362 622h0M1344 622h0M1368 632h0M1376 673h0M1361 692h0M1365 732h0M1342 773h0M1348 774h0M1372 791h0M1358 798h0M1347 852h0M1406 380h0M1392 461h0M1387 472h0M1391 472h0M1412 477h0M1409 489h0M1415 496h0M1393 502h0M1419 506h0M1385 511h0M1407 518h0M1388 521h0M1408 521h0M1392 522h0M1395 540h0M1392 558h0M1407 559h0M1386 561h0M1388 564h0M1408 566h0M1384 574h0M1409 580h0M1387 586h0M1385 598h0M1407 620h0M1380 630h0M1415 657h0M1393 669h0M1404 696h0M1388 712h0M1415 722h0M1413 843h0M1406 850h0M1423 388h0M1453 412h0M1449 424h0M1420 458h0M1427 478h0M1459 585h0M1449 622h0M1427 663h0M1423 669h0M1446 673h0M1434 689h0M1439 750h0M1431 804h0M1450 805h0M1428 812h0M1440 814h0M1445 818h0M1456 823h0M1447 823h0M1431 828h0M1424 834h0M1448 837h0M1450 849h0M1444 858h0M1459 884h0M1429 884h0M1445 887h0M1433 893h0M1444 897h0M1450 909h0M1464 428h0M1498 432h0M1499 432h0M1499 464h0M1490 540h0M1482 548h0M1497 565h0M1493 585h0M1500 714h0M1497 723h0M1491 730h0M1465 805h0M1476 807h0M1470 812h0M1468 814h0M1466 822h0M1470 825h0M1462 834h0M1470 835h0M1472 849h0M1492 849h0M1496 850h0M1474 862h0M1468 864h0M1495 865h0M1495 876h0M1487 879h0M1465 881h0M1464 883h0M1482 889h0M1481 894h0M1477 895h0M1472 895h0M1481 903h0M1470 905h0M1498 909h0M1498 912h0M1464 912h0M1498 913h0M1484 920h0M1505 441h0M1516 444h0M1508 445h0M1519 449h0M1509 462h0M1517 463h0M1517 474h0M1507 484h0M1505 487h0M1531 508h0M1540 539h0M1537 541h0M1511 549h0M1512 555h0M1524 563h0M1520 566h0M1527 582h0M1535 696h0M1532 701h0M1521 704h0M1523 710h0M1506 717h0M1517 720h0M1536 723h0M1539 729h0M1521 731h0M1522 741h0M1505 823h0M1507 845h0M1526 872h0M1527 875h0M1518 890h0M1514 896h0M1517 897h0M1541 558h0M1547 668h0M1547 679h0M1556 683h0M1558 703h0M1543 705h0M1566 713h0M1547 714h0M1545 716h0M1576 721h0M1548 725h0M1570 731h0M1548 739h0M1585 684h0M1618 685h0M1618 691h0M1605 699h0M1587 704h0M1620 723h0M1617 726h0M1628 611h0M1639 615h0M1647 632h0M1624 648h0M1643 649h0M1647 660h0M1626 682h0M1643 697h0M1623 699h0M1625 703h0M1634 705h0M1649 707h0M1671 589h0M1689 593h0M1676 595h0M1686 597h0M1678 605h0M1677 619h0M1675 642h0M1698 651h0M1674 655h0M1679 659h0M1695 696h0M1666 702h0M1702 605h0M1707 616h0M1703 620h0M1716 655h0M1711 671h0M1704 682h0M1712 682h0"/>
<path stroke="#f1605d" d="M364 704h0M443 565h0M447 569h0M512 682h0M512 682h0M619 389h0M618 408h0M595 718h0M624 409h0M624 447h0M655 460h0M690 474h0M718 463h0M707 474h0M776 300h0M804 365h0M805 442h0M818 459h0M801 466h0M812 477h0M836 275h0M830 287h0M840 362h0M845 456h0M854 471h0M837 497h0M873 238h0M878 271h0M866 289h0M872 388h0M865 474h0M887 507h0M872 508h0M966 1111h0M1000 1086h0M1006 1096h0M994 1110h0M991 1131h0M1011 1152h0M1048 1103h0M1051 1104h0M1029 1165h0M1095 336h0M1096 349h0M1087 402h0M1090 521h0M1093 538h0M1063 1094h0M1099 1101h0M1066 1159h0M1068 1169h0M1083 1177h0M1074 1180h0M1076 1190h0M1125 425h0M1121 591h0M1120 603h0M1107 616h0M1121 653h0M1140 799h0M1125 1108h0M1123 1122h0M1124 1125h0M1122 1126h0M1121 1157h0M1136 1166h0M1112 1168h0M1136 1172h0M1132 1205h0M1122 1213h0M1157 371h0M1178 422h0M1145 424h0M1165 570h0M1146 574h0M1171 629h0M1176 637h0M1147 679h0M1178 686h0M1167 765h0M1173 783h0M1179 797h0M1152 844h0M1154 1108h0M1147 1183h0M1199 399h0M1183 495h0M1216 607h0M1207 633h0M1192 634h0M1187 648h0M1208 759h0M1216 788h0M1189 791h0M1212 808h0M1209 831h0M1215 833h0M1218 843h0M1184 848h0M1193 855h0M1229 390h0M1233 488h0M1248 563h0M1253 735h0M1236 737h0M1254 738h0M1252 740h0M1224 757h0M1248 802h0M1239 805h0M1235 825h0M1277 424h0M1286 426h0M1260 481h0M1293 517h0M1297 526h0M1289 535h0M1272 565h0M1279 754h0M1273 755h0M1264 765h0M1294 774h0M1268 775h0M1260 775h0M1299 776h0M1280 783h0M1289 808h0M1274 822h0M1284 826h0M1339 463h0M1331 474h0M1325 497h0M1328 507h0M1302 513h0M1338 517h0M1334 520h0M1307 523h0M1323 527h0M1335 546h0M1311 578h0M1309 584h0M1319 696h0M1334 707h0M1310 714h0M1305 731h0M1327 748h0M1337 751h0M1311 759h0M1300 790h0M1301 801h0M1322 803h0M1343 434h0M1379 480h0M1374 513h0M1378 519h0M1358 520h0M1357 535h0M1363 537h0M1370 546h0M1341 549h0M1342 583h0M1352 595h0M1354 611h0M1375 622h0M1355 683h0M1349 686h0M1360 740h0M1345 756h0M1363 792h0M1370 794h0M1380 852h0M1415 474h0M1397 478h0M1409 489h0M1417 500h0M1389 549h0M1409 560h0M1380 565h0M1402 696h0M1412 704h0M1417 827h0M1417 842h0M1405 843h0M1428 483h0M1434 534h0M1437 736h0M1442 766h0M1449 798h0M1447 801h0M1435 823h0M1425 831h0M1453 839h0M1443 844h0M1430 850h0M1434 854h0M1450 854h0M1431 856h0M1424 862h0M1459 892h0M1482 481h0M1487 596h0M1499 740h0M1499 821h0M1475 830h0M1478 842h0M1477 846h0M1470 849h0M1495 871h0M1467 880h0M1468 893h0M1473 900h0M1496 906h0M1523 536h0M1515 557h0M1514 572h0M1501 595h0M1538 683h0M1505 715h0M1512 725h0M1539 748h0M1525 842h0M1540 530h0M1578 646h0M1573 665h0M1557 688h0M1545 694h0M1552 726h0M1550 728h0M1686 656h0M1696 695h0M1682 710h0M1666 714h0M1704 683h0"/>
<path stroke="#fc9065" d="M367 706h0M369 708h0M374 712h0M437 564h0M441 566h0M448 569h0M452 575h0M515 685h0M595 718h0M689 437h0M667 477h0M978 1115h0M981 1085h0M1012 1139h0M989 1141h0M1043 1108h0M1028 1168h0M1125 1104h0M1129 1181h0M1131 1187h0M1167 758h0M1147 767h0M1144 780h0M1172 851h0M1197 792h0M1195 846h0M1249 784h0M1298 397h0M1280 526h0M1283 579h0M1291 755h0M1313 598h0M1330 801h0M1353 459h0M1408 552h0M1454 812h0M1465 795h0M1472 817h0M1486 819h0M1477 839h0M1461 851h0M1517 499h0M1515 546h0M1532 735h0M1544 541h0M1600 715h0M1629 700h0M1699 671h0M1683 689h0M1684 695h0M1716 672h0"/>
<path stroke="#fcdc9c" d="M1094 1119h0M1134 1112h0M1147 830h0"/>
<path stroke="#020106" d="M364 705h0M368 708h0M377 712h0M378 790h0M381 714h0M385 796h0M445 567h0M442 568h0M444 569h0M447 570h0M454 573h0M452 576h0M510 679h0M512 680h0M514 681h0M594 716h0M604 723h0M610 728h0M647 370h0M647 373h0M646 373h0M637 388h0M631 394h0M623 395h0M632 399h0M622 399h0M634 399h0M623 400h0M625 403h0M655 407h0M628 410h0M621 419h0M644 423h0M655 434h0M643 449h0M635 451h0M668 393h0M673 396h0M685 399h0M681 402h0M666 475h0M671 479h0M735 437h0M704 476h0M769 265h0M766 266h0M774 276h0M770 340h0M748 353h0M768 448h0M775 450h0M811 228h0M811 231h0M820 233h0M806 238h0M787 243h0M782 248h0M787 253h0M805 255h0M784 257h0M804 261h0M818 268h0M812 270h0M784 278h0M808 279h0M791 286h0M794 287h0M791 287h0M812 293h0M781 300h0M805 316h0M814 316h0M808 422h0M804 427h0M793 434h0M792 444h0M815 445h0M819 446h0M794 456h0M818 456h0M820 471h0M815 480h0M783 496h0M839 233h0M855 237h0M840 239h0M835 248h0M846 254h0M824 258h0M832 260h0M851 266h0M857 272h0M854 274h0M834 278h0M847 280h0M852 280h0M834 281h0M844 282h0M852 282h0M858 291h0M849 292h0M822 294h0M850 296h0M848 297h0M837 300h0M847 302h0M848 306h0M822 309h0M843 311h0M823 320h0M834 341h0M836 346h0M848 348h0M847 356h0M856 367h0M831 374h0M834 386h0M860 391h0M835 393h0M820 446h0M833 450h0M845 471h0M853 475h0M823 504h0M839 506h0M846 513h0M848 513h0M869 223h0M863 237h0M862 237h0M874 240h0M885 244h0M876 245h0M872 246h0M888 247h0M860 248h0M874 249h0M873 254h0M875 262h0M888 264h0M875 266h0M893 268h0M879 269h0M881 272h0M889 275h0M877 276h0M895 279h0M873 284h0M899 288h0M889 291h0M894 295h0M893 299h0M878 300h0M894 304h0M891 305h0M899 307h0M900 307h0M873 308h0M871 313h0M893 315h0M898 315h0M868 316h0M874 316h0M877 318h0M894 319h0M893 325h0M863 340h0M885 347h0M864 355h0M892 356h0M892 372h0M885 383h0M891 396h0M870 397h0M877 407h0M877 424h0M911 224h0M934 237h0M907 237h0M916 240h0M911 243h0M932 245h0M916 246h0M929 248h0M907 253h0M901 254h0M936 262h0M915 263h0M902 269h0M902 276h0M928 277h0M916 277h0M923 278h0M938 284h0M913 290h0M919 291h0M906 293h0M929 293h0M905 295h0M908 295h0M926 297h0M930 297h0M919 299h0M907 301h0M919 304h0M913 305h0M917 306h0M933 306h0M933 308h0M940 309h0M902 310h0M911 313h0M933 316h0M933 322h0M937 325h0M928 329h0M939 335h0M940 234h0M967 235h0M956 236h0M945 237h0M971 243h0M969 246h0M961 249h0M978 254h0M949 265h0M944 267h0M963 267h0M980 270h0M944 280h0M943 280h0M959 289h0M949 295h0M961 295h0M963 296h0M948 299h0M947 299h0M952 306h0M961 309h0M963 311h0M972 315h0M970 323h0M968 329h0M961 334h0M947 334h0M978 1091h0M969 1108h0M969 1115h0M975 1123h0M993 238h0M985 242h0M988 246h0M995 248h0M983 250h0M993 255h0M990 256h0M982 256h0M982 267h0M995 280h0M1015 293h0M985 295h0M988 300h0M992 322h0M998 331h0M1005 331h0M1018 332h0M1006 334h0M986 1085h0M985 1087h0M1020 1088h0M1000 1091h0M1012 1108h0M993 1116h0M991 1126h0M984 1131h0M1009 1135h0M986 1138h0M999 1142h0M1012 1143h0M1019 1153h0M1009 1157h0M1020 281h0M1022 296h0M1028 333h0M1028 336h0M1040 337h0M1045 339h0M1053 365h0M1048 494h0M1051 498h0M1054 499h0M1058 509h0M1058 517h0M1024 520h0M1030 531h0M1032 532h0M1029 534h0M1033 542h0M1056 544h0M1035 546h0M1056 560h0M1036 561h0M1060 565h0M1037 570h0M1060 571h0M1051 581h0M1050 581h0M1046 585h0M1040 585h0M1055 599h0M1058 599h0M1057 1129h0M1057 1140h0M1055 1147h0M1034 1157h0M1038 1171h0M1066 340h0M1079 343h0M1083 344h0M1098 350h0M1090 352h0M1089 354h0M1073 355h0M1067 359h0M1086 362h0M1070 364h0M1094 367h0M1094 369h0M1082 373h0M1096 376h0M1087 382h0M1087 383h0M1065 390h0M1081 393h0M1094 394h0M1092 406h0M1099 412h0M1099 418h0M1078 420h0M1085 421h0M1064 424h0M1077 430h0M1070 430h0M1077 433h0M1074 434h0M1092 436h0M1092 437h0M1096 440h0M1075 442h0M1098 443h0M1080 451h0M1076 455h0M1093 460h0M1088 462h0M1097 466h0M1076 474h0M1085 480h0M1077 481h0M1073 481h0M1078 487h0M1075 496h0M1065 501h0M1080 507h0M1063 513h0M1068 529h0M1061 534h0M1075 556h0M1062 562h0M1075 580h0M1071 587h0M1063 590h0M1092 596h0M1092 598h0M1074 609h0M1089 610h0M1098 613h0M1089 618h0M1091 627h0M1075 1095h0M1079 1107h0M1060 1130h0M1063 1157h0M1076 1172h0M1072 1177h0M1102 339h0M1133 345h0M1129 346h0M1122 347h0M1104 351h0M1118 354h0M1133 359h0M1130 360h0M1107 362h0M1101 363h0M1105 365h0M1123 367h0M1106 371h0M1101 372h0M1134 373h0M1101 377h0M1124 377h0M1120 378h0M1112 382h0M1124 391h0M1134 392h0M1133 392h0M1110 395h0M1126 399h0M1116 400h0M1134 400h0M1130 401h0M1101 402h0M1136 405h0M1111 406h0M1107 410h0M1134 414h0M1113 415h0M1122 420h0M1101 422h0M1107 423h0M1140 424h0M1130 426h0M1107 426h0M1136 429h0M1118 434h0M1113 435h0M1132 438h0M1102 445h0M1137 456h0M1109 458h0M1124 460h0M1104 461h0M1136 473h0M1103 476h0M1109 477h0M1109 480h0M1126 483h0M1120 483h0M1115 490h0M1102 492h0M1136 511h0M1122 513h0M1112 514h0M1136 516h0M1106 518h0M1115 519h0M1105 520h0M1138 527h0M1122 528h0M1118 533h0M1120 533h0M1124 535h0M1103 538h0M1111 560h0M1122 567h0M1111 567h0M1120 568h0M1138 569h0M1138 570h0M1128 570h0M1134 573h0M1131 594h0M1123 598h0M1101 603h0M1107 606h0M1104 612h0M1125 615h0M1133 617h0M1136 619h0M1105 621h0M1112 636h0M1102 644h0M1127 646h0M1136 649h0M1137 656h0M1140 802h0M1102 1105h0M1138 1109h0M1111 1112h0M1111 1131h0M1110 1152h0M1126 1153h0M1116 1159h0M1114 1160h0M1137 1177h0M1114 1191h0M1121 1201h0M1158 331h0M1165 334h0M1152 336h0M1144 341h0M1169 341h0M1157 342h0M1155 344h0M1147 344h0M1158 349h0M1150 352h0M1172 353h0M1166 356h0M1176 359h0M1171 362h0M1151 365h0M1155 368h0M1167 369h0M1165 378h0M1150 379h0M1175 379h0M1176 381h0M1143 382h0M1152 388h0M1168 389h0M1154 391h0M1146 395h0M1153 395h0M1170 402h0M1170 403h0M1160 406h0M1141 412h0M1171 414h0M1165 415h0M1149 416h0M1150 419h0M1161 426h0M1157 432h0M1162 432h0M1180 433h0M1174 434h0M1159 437h0M1176 443h0M1150 444h0M1146 444h0M1178 445h0M1144 446h0M1178 446h0M1157 448h0M1157 449h0M1172 450h0M1157 451h0M1165 455h0M1171 457h0M1177 457h0M1180 459h0M1148 468h0M1140 468h0M1166 470h0M1163 477h0M1179 482h0M1171 499h0M1175 504h0M1169 504h0M1158 506h0M1148 519h0M1156 526h0M1173 533h0M1176 539h0M1171 542h0M1154 548h0M1157 556h0M1177 556h0M1152 559h0M1150 570h0M1149 576h0M1170 579h0M1170 586h0M1140 604h0M1145 611h0M1156 615h0M1160 615h0M1142 622h0M1161 625h0M1146 646h0M1172 657h0M1146 659h0M1164 660h0M1156 660h0M1152 661h0M1172 664h0M1148 666h0M1167 669h0M1154 676h0M1169 678h0M1155 686h0M1162 690h0M1167 765h0M1150 766h0M1160 775h0M1160 779h0M1154 790h0M1169 796h0M1151 805h0M1158 807h0M1177 810h0M1163 811h0M1150 1115h0M1188 338h0M1199 339h0M1192 341h0M1209 341h0M1210 342h0M1215 342h0M1201 343h0M1192 345h0M1181 346h0M1197 349h0M1194 355h0M1215 360h0M1218 361h0M1208 365h0M1191 367h0M1180 368h0M1191 369h0M1182 371h0M1219 372h0M1187 372h0M1189 378h0M1195 384h0M1206 389h0M1185 390h0M1191 390h0M1196 393h0M1193 396h0M1191 412h0M1183 414h0M1206 416h0M1182 417h0M1218 423h0M1183 424h0M1215 430h0M1209 435h0M1188 438h0M1212 438h0M1208 442h0M1218 442h0M1180 446h0M1196 452h0M1207 455h0M1199 456h0M1213 457h0M1187 457h0M1206 459h0M1206 459h0M1208 459h0M1193 460h0M1216 462h0M1214 462h0M1195 463h0M1217 465h0M1218 466h0M1190 472h0M1201 479h0M1186 483h0M1191 485h0M1200 488h0M1189 488h0M1218 501h0M1217 544h0M1216 544h0M1217 555h0M1181 560h0M1202 565h0M1209 575h0M1191 580h0M1216 581h0M1218 587h0M1217 595h0M1200 597h0M1211 613h0M1189 614h0M1213 619h0M1209 637h0M1183 639h0M1184 643h0M1200 645h0M1214 659h0M1188 660h0M1210 662h0M1182 662h0M1206 667h0M1210 669h0M1200 679h0M1217 680h0M1213 691h0M1183 702h0M1209 704h0M1217 753h0M1193 784h0M1205 789h0M1195 792h0M1187 795h0M1206 804h0M1204 805h0M1182 818h0M1193 827h0M1217 827h0M1216 835h0M1184 838h0M1205 843h0M1204 848h0M1210 850h0M1207 855h0M1217 855h0M1238 344h0M1238 344h0M1233 346h0M1248 349h0M1259 353h0M1233 361h0M1253 361h0M1228 361h0M1258 363h0M1224 363h0M1231 364h0M1241 367h0M1251 370h0M1244 372h0M1226 373h0M1230 374h0M1224 381h0M1221 383h0M1235 386h0M1230 388h0M1226 390h0M1243 394h0M1255 396h0M1234 397h0M1227 399h0M1227 400h0M1233 402h0M1252 404h0M1246 404h0M1259 406h0M1257 407h0M1224 407h0M1240 409h0M1253 413h0M1239 415h0M1248 416h0M1251 417h0M1236 419h0M1251 419h0M1234 419h0M1226 427h0M1249 427h0M1246 430h0M1236 432h0M1220 434h0M1250 438h0M1228 439h0M1246 440h0M1229 441h0M1254 441h0M1254 445h0M1240 448h0M1253 462h0M1240 462h0M1258 469h0M1225 476h0M1246 479h0M1227 483h0M1254 494h0M1245 494h0M1222 495h0M1241 503h0M1221 506h0M1257 510h0M1247 520h0M1251 522h0M1223 529h0M1245 532h0M1229 538h0M1250 542h0M1244 544h0M1233 548h0M1230 548h0M1227 557h0M1246 559h0M1221 573h0M1252 576h0M1222 577h0M1249 578h0M1242 582h0M1250 593h0M1253 594h0M1232 611h0M1235 622h0M1259 624h0M1246 624h0M1250 629h0M1232 638h0M1236 651h0M1238 662h0M1235 665h0M1229 669h0M1236 673h0M1220 675h0M1224 677h0M1236 707h0M1238 709h0M1246 722h0M1232 748h0M1245 767h0M1227 794h0M1223 801h0M1247 804h0M1245 806h0M1233 808h0M1239 811h0M1258 820h0M1253 832h0M1221 842h0M1240 847h0M1283 361h0M1291 367h0M1286 372h0M1297 373h0M1280 376h0M1268 377h0M1279 378h0M1271 384h0M1277 385h0M1265 387h0M1294 388h0M1270 390h0M1261 393h0M1267 395h0M1293 396h0M1290 408h0M1288 413h0M1272 416h0M1276 421h0M1282 424h0M1282 426h0M1264 429h0M1289 430h0M1286 435h0M1293 439h0M1269 446h0M1295 447h0M1289 449h0M1292 456h0M1281 459h0M1287 459h0M1285 459h0M1274 464h0M1286 470h0M1292 476h0M1277 481h0M1298 481h0M1263 489h0M1261 489h0M1265 490h0M1268 490h0M1261 493h0M1278 508h0M1296 520h0M1263 520h0M1278 522h0M1264 539h0M1276 539h0M1283 548h0M1263 549h0M1285 552h0M1287 558h0M1271 563h0M1295 570h0M1272 575h0M1263 578h0M1297 590h0M1275 591h0M1275 594h0M1297 608h0M1270 617h0M1267 705h0M1264 713h0M1272 717h0M1265 717h0M1263 719h0M1284 723h0M1271 724h0M1290 735h0M1289 737h0M1262 742h0M1284 749h0M1296 756h0M1271 778h0M1288 796h0M1297 797h0M1295 805h0M1281 808h0M1277 824h0M1285 832h0M1261 846h0M1279 857h0M1316 384h0M1317 402h0M1311 404h0M1310 411h0M1324 411h0M1316 414h0M1325 415h0M1337 417h0M1302 419h0M1327 420h0M1336 423h0M1309 423h0M1321 423h0M1313 425h0M1316 425h0M1327 428h0M1323 430h0M1301 432h0M1314 432h0M1311 432h0M1338 433h0M1333 433h0M1330 435h0M1315 438h0M1331 440h0M1336 441h0M1308 453h0M1315 454h0M1338 461h0M1314 462h0M1318 471h0M1303 471h0M1302 473h0M1318 475h0M1330 476h0M1339 478h0M1337 486h0M1323 487h0M1325 490h0M1327 490h0M1305 496h0M1301 499h0M1313 500h0M1331 501h0M1326 502h0M1318 510h0M1306 513h0M1304 526h0M1328 528h0M1317 533h0M1326 546h0M1316 548h0M1306 555h0M1324 557h0M1338 557h0M1309 558h0M1324 567h0M1309 573h0M1333 576h0M1321 595h0M1337 603h0M1315 604h0M1324 604h0M1330 607h0M1321 609h0M1323 613h0M1329 617h0M1333 631h0M1301 633h0M1317 648h0M1338 651h0M1318 663h0M1338 675h0M1321 678h0M1330 705h0M1303 709h0M1322 709h0M1327 710h0M1311 716h0M1324 729h0M1310 739h0M1331 750h0M1306 754h0M1331 757h0M1317 760h0M1335 773h0M1309 774h0M1330 798h0M1316 801h0M1318 846h0M1304 852h0M1347 427h0M1345 429h0M1355 434h0M1344 438h0M1345 440h0M1362 440h0M1355 442h0M1363 442h0M1377 444h0M1348 452h0M1378 455h0M1351 460h0M1380 477h0M1346 490h0M1366 493h0M1353 496h0M1366 499h0M1366 504h0M1378 504h0M1357 507h0M1347 514h0M1347 518h0M1345 528h0M1346 529h0M1359 540h0M1355 545h0M1367 548h0M1376 548h0M1379 552h0M1376 552h0M1376 554h0M1348 555h0M1369 559h0M1366 559h0M1348 563h0M1361 566h0M1373 567h0M1375 573h0M1376 577h0M1345 581h0M1345 587h0M1342 592h0M1370 618h0M1345 630h0M1370 639h0M1362 658h0M1373 666h0M1350 666h0M1341 682h0M1366 687h0M1348 688h0M1368 692h0M1353 700h0M1359 703h0M1375 713h0M1364 718h0M1346 726h0M1342 740h0M1340 749h0M1373 749h0M1350 781h0M1366 790h0M1359 795h0M1355 850h0M1416 383h0M1415 389h0M1418 396h0M1385 447h0M1396 454h0M1390 458h0M1382 459h0M1412 474h0M1404 480h0M1410 481h0M1412 482h0M1385 490h0M1393 490h0M1398 497h0M1417 502h0M1415 503h0M1395 527h0M1400 528h0M1413 532h0M1419 533h0M1392 535h0M1420 538h0M1388 539h0M1409 539h0M1415 541h0M1386 542h0M1400 555h0M1407 555h0M1393 557h0M1417 565h0M1392 571h0M1397 572h0M1402 580h0M1391 588h0M1394 599h0M1396 599h0M1418 599h0M1412 664h0M1402 670h0M1383 676h0M1395 696h0M1412 712h0M1387 733h0M1404 739h0M1403 739h0M1417 746h0M1419 750h0M1382 756h0M1413 764h0M1400 771h0M1389 783h0M1400 784h0M1409 847h0M1410 852h0M1405 862h0M1429 385h0M1433 390h0M1454 401h0M1433 402h0M1437 405h0M1436 405h0M1439 409h0M1447 410h0M1444 413h0M1437 426h0M1453 429h0M1455 448h0M1459 453h0M1455 459h0M1459 470h0M1445 476h0M1443 484h0M1451 488h0M1427 493h0M1425 494h0M1427 495h0M1440 499h0M1435 502h0M1423 523h0M1422 527h0M1437 532h0M1440 533h0M1424 542h0M1437 548h0M1453 549h0M1448 550h0M1436 559h0M1425 561h0M1435 566h0M1424 566h0M1453 588h0M1457 595h0M1452 596h0M1450 637h0M1455 645h0M1448 657h0M1425 670h0M1443 695h0M1434 722h0M1434 785h0M1447 786h0M1438 800h0M1457 807h0M1437 810h0M1445 827h0M1438 865h0M1439 867h0M1421 875h0M1457 895h0M1455 895h0M1439 898h0M1457 906h0M1465 399h0M1465 407h0M1481 413h0M1461 416h0M1469 423h0M1476 430h0M1467 430h0M1466 433h0M1472 438h0M1476 438h0M1487 439h0M1474 439h0M1492 450h0M1473 451h0M1491 452h0M1462 455h0M1498 457h0M1486 458h0M1484 473h0M1492 476h0M1474 478h0M1461 483h0M1488 488h0M1484 497h0M1490 497h0M1489 499h0M1490 504h0M1462 512h0M1460 514h0M1480 520h0M1464 525h0M1469 528h0M1464 537h0M1488 538h0M1499 539h0M1485 543h0M1463 548h0M1484 560h0M1498 567h0M1491 577h0M1474 580h0M1473 583h0M1465 590h0M1474 591h0M1478 607h0M1495 607h0M1463 608h0M1482 613h0M1475 616h0M1467 619h0M1478 620h0M1496 816h0M1476 823h0M1476 837h0M1493 846h0M1497 855h0M1476 864h0M1482 880h0M1491 881h0M1464 896h0M1486 896h0M1488 898h0M1476 898h0M1470 921h0M1492 936h0M1503 427h0M1505 450h0M1519 459h0M1513 469h0M1515 473h0M1508 490h0M1528 497h0M1500 502h0M1515 510h0M1513 516h0M1536 521h0M1506 529h0M1519 530h0M1534 531h0M1521 533h0M1523 536h0M1528 544h0M1538 548h0M1520 549h0M1514 553h0M1537 562h0M1528 567h0M1534 568h0M1534 578h0M1506 592h0M1508 596h0M1532 677h0M1522 711h0M1515 735h0M1509 836h0M1507 840h0M1514 844h0M1519 881h0M1519 893h0M1570 660h0M1557 661h0M1580 663h0M1568 665h0M1580 673h0M1558 678h0M1558 683h0M1545 693h0M1564 707h0M1577 711h0M1579 715h0M1545 720h0M1563 730h0M1547 733h0M1612 633h0M1613 637h0M1612 641h0M1604 646h0M1615 646h0M1615 648h0M1618 651h0M1604 652h0M1594 652h0M1615 653h0M1588 654h0M1594 655h0M1596 656h0M1583 657h0M1605 662h0M1593 662h0M1611 678h0M1583 678h0M1595 680h0M1606 680h0M1615 694h0M1603 716h0M1590 720h0M1614 722h0M1598 725h0M1632 596h0M1630 598h0M1632 600h0M1654 604h0M1625 609h0M1637 614h0M1649 614h0M1641 623h0M1654 628h0M1643 631h0M1620 635h0M1627 635h0M1656 640h0M1622 652h0M1648 652h0M1629 659h0M1657 660h0M1632 663h0M1647 666h0M1644 670h0M1656 674h0M1643 688h0M1628 720h0M1622 723h0M1689 590h0M1665 596h0M1671 597h0M1665 600h0M1669 601h0M1688 605h0M1674 606h0M1682 607h0M1696 610h0M1684 612h0M1672 619h0M1687 620h0M1687 624h0M1683 626h0M1694 628h0M1674 629h0M1662 632h0M1700 636h0M1667 640h0M1700 640h0M1675 649h0M1699 650h0M1687 651h0M1661 660h0M1677 667h0M1668 677h0M1676 679h0M1675 684h0M1664 687h0M1670 699h0M1683 703h0M1665 711h0M1706 609h0M1709 624h0M1707 640h0M1714 651h0M1716 652h0M1710 666h0"/>
<path stroke="#721f81" d="M342 307h0M441 568h0M510 681h0M517 682h0M517 683h0M520 685h0M619 384h0M595 717h0M602 723h0M602 723h0M608 724h0M609 726h0M646 380h0M630 389h0M627 391h0M626 391h0M624 392h0M624 396h0M626 401h0M627 402h0M653 411h0M652 417h0M624 443h0M644 445h0M625 450h0M625 451h0M643 451h0M649 456h0M636 460h0M648 464h0M655 468h0M660 378h0M685 381h0M673 400h0M681 402h0M682 405h0M681 409h0M688 412h0M691 417h0M699 439h0M662 467h0M692 477h0M724 442h0M713 467h0M772 257h0M777 259h0M777 266h0M779 268h0M780 272h0M767 272h0M769 277h0M757 278h0M774 281h0M773 282h0M758 286h0M764 288h0M774 290h0M777 294h0M770 294h0M766 296h0M778 301h0M779 302h0M751 351h0M777 443h0M779 449h0M770 452h0M778 456h0M769 463h0M777 472h0M775 472h0M774 473h0M814 227h0M818 227h0M795 239h0M815 250h0M801 251h0M809 251h0M794 256h0M782 258h0M791 261h0M812 266h0M819 267h0M801 270h0M789 271h0M819 273h0M800 277h0M803 282h0M791 285h0M786 290h0M813 291h0M787 295h0M785 299h0M784 300h0M795 301h0M786 305h0M795 306h0M806 309h0M799 310h0M818 311h0M808 312h0M815 314h0M802 315h0M820 319h0M795 345h0M802 424h0M805 425h0M813 427h0M804 430h0M819 431h0M817 434h0M790 435h0M808 444h0M818 444h0M786 444h0M817 444h0M809 444h0M812 448h0M815 448h0M782 448h0M792 453h0M819 454h0M813 454h0M810 455h0M818 460h0M809 461h0M813 462h0M796 464h0M787 466h0M816 471h0M782 472h0M802 477h0M792 477h0M812 478h0M804 482h0M786 482h0M796 488h0M786 490h0M792 495h0M794 495h0M803 498h0M810 498h0M793 500h0M816 502h0M793 505h0M811 508h0M794 509h0M813 514h0M848 223h0M835 228h0M843 232h0M859 234h0M858 234h0M834 235h0M855 235h0M821 236h0M841 238h0M859 240h0M827 243h0M855 245h0M822 246h0M845 248h0M847 250h0M830 254h0M833 260h0M835 260h0M826 262h0M857 263h0M824 264h0M846 266h0M832 267h0M855 269h0M856 270h0M824 271h0M823 277h0M826 281h0M838 289h0M858 290h0M837 290h0M844 292h0M845 293h0M832 294h0M859 296h0M854 302h0M838 302h0M850 305h0M824 308h0M827 314h0M846 317h0M823 336h0M854 340h0M835 347h0M830 348h0M835 349h0M827 350h0M837 352h0M837 353h0M838 357h0M834 365h0M821 366h0M839 374h0M850 375h0M847 383h0M852 383h0M843 386h0M845 387h0M840 387h0M824 394h0M821 447h0M821 448h0M836 459h0M831 461h0M824 468h0M856 469h0M827 469h0M825 485h0M825 486h0M824 488h0M845 490h0M848 503h0M840 514h0M840 514h0M861 229h0M893 230h0M880 234h0M865 235h0M867 239h0M863 241h0M890 241h0M863 242h0M888 242h0M871 246h0M885 248h0M885 254h0M883 256h0M880 260h0M886 261h0M889 263h0M874 271h0M877 280h0M895 281h0M895 283h0M884 284h0M868 290h0M868 297h0M880 301h0M893 311h0M869 319h0M868 320h0M892 324h0M888 338h0M870 344h0M886 347h0M862 353h0M867 359h0M865 361h0M876 373h0M881 378h0M863 381h0M861 396h0M892 397h0M865 398h0M885 398h0M863 399h0M888 402h0M882 407h0M870 412h0M871 494h0M874 502h0M877 502h0M870 502h0M862 508h0M879 510h0M861 511h0M869 515h0M911 220h0M914 222h0M907 227h0M908 228h0M913 230h0M926 231h0M920 232h0M938 237h0M902 245h0M924 246h0M938 246h0M918 259h0M902 263h0M902 267h0M933 270h0M907 272h0M922 273h0M924 275h0M938 283h0M908 286h0M907 286h0M902 292h0M902 296h0M940 301h0M924 304h0M918 312h0M907 322h0M910 327h0M950 234h0M945 234h0M962 235h0M967 235h0M954 237h0M974 237h0M945 239h0M955 240h0M965 241h0M974 242h0M948 247h0M964 247h0M944 248h0M974 250h0M943 251h0M975 252h0M957 258h0M951 259h0M970 263h0M950 272h0M964 273h0M942 279h0M976 282h0M976 284h0M947 289h0M972 291h0M954 295h0M966 308h0M949 314h0M969 318h0M945 321h0M942 328h0M967 1102h0M978 1109h0M966 1123h0M973 1126h0M978 1127h0M978 1128h0M979 1138h0M982 238h0M981 239h0M1013 547h0M988 1090h0M988 1091h0M987 1092h0M997 1094h0M987 1104h0M1002 1107h0M1000 1111h0M1016 1120h0M999 1122h0M1012 1123h0M988 1123h0M996 1124h0M985 1124h0M997 1132h0M985 1136h0M986 1139h0M994 1140h0M998 1142h0M1016 1142h0M1008 1150h0M1019 1152h0M1018 1158h0M1050 494h0M1057 503h0M1050 510h0M1059 510h0M1043 514h0M1042 517h0M1038 538h0M1034 560h0M1053 574h0M1060 578h0M1029 580h0M1047 1108h0M1041 1110h0M1025 1110h0M1057 1115h0M1058 1134h0M1041 1140h0M1030 1147h0M1056 1150h0M1023 1156h0M1033 1162h0M1023 1164h0M1055 1169h0M1056 1178h0M1097 335h0M1090 335h0M1072 339h0M1075 340h0M1072 343h0M1068 343h0M1087 346h0M1066 347h0M1082 370h0M1094 377h0M1094 378h0M1095 381h0M1081 386h0M1068 399h0M1088 401h0M1068 409h0M1075 414h0M1066 430h0M1070 434h0M1069 435h0M1077 451h0M1097 454h0M1071 476h0M1079 485h0M1060 497h0M1064 499h0M1083 502h0M1063 506h0M1072 511h0M1089 526h0M1095 531h0M1093 541h0M1081 550h0M1090 553h0M1078 557h0M1093 557h0M1074 567h0M1072 569h0M1074 582h0M1086 595h0M1083 596h0M1076 599h0M1078 614h0M1096 622h0M1096 635h0M1071 1099h0M1098 1103h0M1097 1103h0M1071 1114h0M1085 1123h0M1087 1134h0M1069 1168h0M1060 1169h0M1087 1177h0M1076 1177h0M1099 1179h0M1094 1187h0M1100 1193h0M1082 1195h0M1099 1210h0M1134 335h0M1129 337h0M1120 338h0M1128 338h0M1135 343h0M1111 357h0M1103 380h0M1131 382h0M1131 384h0M1117 386h0M1121 391h0M1118 393h0M1122 394h0M1126 394h0M1113 404h0M1127 404h0M1135 405h0M1135 406h0M1114 409h0M1111 414h0M1131 419h0M1117 420h0M1138 426h0M1137 432h0M1126 437h0M1132 440h0M1115 447h0M1106 450h0M1126 452h0M1115 452h0M1133 466h0M1124 492h0M1103 507h0M1107 508h0M1114 516h0M1134 518h0M1103 520h0M1109 521h0M1120 522h0M1102 540h0M1116 540h0M1135 542h0M1107 543h0M1105 549h0M1106 552h0M1139 556h0M1134 578h0M1127 583h0M1107 584h0M1129 585h0M1116 588h0M1125 590h0M1110 591h0M1107 595h0M1138 596h0M1136 597h0M1101 600h0M1139 603h0M1114 611h0M1122 615h0M1136 617h0M1122 623h0M1109 635h0M1121 640h0M1125 645h0M1117 646h0M1109 647h0M1126 1103h0M1119 1116h0M1122 1127h0M1101 1132h0M1106 1138h0M1102 1145h0M1121 1157h0M1130 1157h0M1136 1167h0M1110 1180h0M1127 1198h0M1115 1202h0M1110 1211h0M1143 337h0M1164 337h0M1143 338h0M1143 340h0M1155 352h0M1150 352h0M1172 354h0M1163 357h0M1167 358h0M1159 359h0M1141 362h0M1177 365h0M1170 366h0M1163 377h0M1161 388h0M1153 389h0M1169 404h0M1173 404h0M1153 409h0M1144 410h0M1163 412h0M1151 421h0M1145 423h0M1145 424h0M1168 435h0M1161 435h0M1157 444h0M1157 446h0M1157 501h0M1156 501h0M1145 508h0M1143 517h0M1154 533h0M1148 536h0M1155 556h0M1141 563h0M1176 564h0M1163 581h0M1157 582h0M1151 582h0M1177 583h0M1151 585h0M1170 587h0M1173 587h0M1168 592h0M1141 592h0M1178 594h0M1170 599h0M1176 605h0M1171 607h0M1160 609h0M1163 615h0M1166 623h0M1156 625h0M1177 629h0M1178 632h0M1162 639h0M1148 640h0M1177 641h0M1173 644h0M1159 648h0M1178 650h0M1142 666h0M1148 756h0M1172 765h0M1154 765h0M1149 770h0M1176 786h0M1180 788h0M1148 793h0M1173 793h0M1141 798h0M1165 803h0M1154 823h0M1162 834h0M1163 837h0M1148 838h0M1165 840h0M1146 1115h0M1148 1183h0M1146 1190h0M1182 335h0M1181 337h0M1206 337h0M1198 344h0M1187 348h0M1201 356h0M1217 359h0M1210 367h0M1203 367h0M1214 375h0M1194 377h0M1210 385h0M1196 388h0M1210 388h0M1206 391h0M1182 398h0M1195 414h0M1219 419h0M1189 422h0M1192 423h0M1190 426h0M1196 428h0M1214 432h0M1219 434h0M1211 437h0M1206 440h0M1218 448h0M1199 449h0M1187 452h0M1181 461h0M1205 472h0M1210 479h0M1187 496h0M1209 499h0M1219 505h0M1204 505h0M1213 506h0M1213 510h0M1209 519h0M1202 519h0M1204 529h0M1214 543h0M1215 543h0M1194 545h0M1185 549h0M1210 556h0M1205 556h0M1185 567h0M1201 574h0M1213 577h0M1198 578h0M1219 588h0M1207 593h0M1181 593h0M1196 600h0M1193 610h0M1182 624h0M1205 624h0M1197 631h0M1199 633h0M1205 634h0M1195 648h0M1204 673h0M1189 679h0M1199 681h0M1194 681h0M1213 683h0M1198 683h0M1184 697h0M1193 701h0M1190 790h0M1188 793h0M1184 798h0M1211 801h0M1209 804h0M1196 805h0M1194 806h0M1201 808h0M1217 816h0M1205 820h0M1202 829h0M1201 842h0M1189 850h0M1209 851h0M1182 851h0M1207 857h0M1248 348h0M1226 355h0M1255 359h0M1221 369h0M1233 372h0M1229 374h0M1255 375h0M1229 388h0M1254 389h0M1247 393h0M1240 398h0M1236 402h0M1255 405h0M1224 408h0M1256 408h0M1240 410h0M1245 420h0M1257 420h0M1221 434h0M1250 449h0M1253 452h0M1243 464h0M1239 466h0M1236 469h0M1229 471h0M1245 494h0M1222 498h0M1224 502h0M1237 503h0M1244 508h0M1245 522h0M1222 522h0M1251 543h0M1247 559h0M1255 571h0M1253 578h0M1233 581h0M1250 594h0M1226 600h0M1246 605h0M1251 611h0M1221 642h0M1240 659h0M1233 665h0M1220 688h0M1233 690h0M1224 699h0M1231 705h0M1223 706h0M1250 710h0M1259 717h0M1250 742h0M1238 749h0M1224 752h0M1233 754h0M1240 755h0M1259 756h0M1256 764h0M1222 767h0M1226 769h0M1250 769h0M1253 770h0M1243 773h0M1239 786h0M1228 786h0M1236 788h0M1229 788h0M1229 793h0M1221 795h0M1235 799h0M1223 803h0M1239 827h0M1247 831h0M1241 835h0M1223 837h0M1226 851h0M1269 353h0M1270 373h0M1267 385h0M1283 389h0M1271 391h0M1291 395h0M1300 397h0M1270 407h0M1284 413h0M1276 414h0M1274 417h0M1299 421h0M1283 424h0M1295 426h0M1271 429h0M1296 430h0M1260 430h0M1297 435h0M1270 438h0M1287 448h0M1275 450h0M1265 457h0M1284 460h0M1288 465h0M1293 466h0M1269 468h0M1275 468h0M1264 469h0M1289 471h0M1266 477h0M1267 483h0M1273 484h0M1281 490h0M1271 490h0M1261 495h0M1285 501h0M1274 502h0M1291 531h0M1283 540h0M1267 540h0M1298 541h0M1287 544h0M1299 547h0M1281 557h0M1271 571h0M1299 576h0M1294 579h0M1279 584h0M1281 584h0M1265 597h0M1277 612h0M1299 666h0M1260 710h0M1291 719h0M1280 719h0M1292 726h0M1271 727h0M1289 741h0M1287 747h0M1266 754h0M1264 759h0M1265 761h0M1290 765h0M1260 776h0M1298 782h0M1275 805h0M1262 805h0M1271 813h0M1268 814h0M1264 822h0M1276 824h0M1269 845h0M1279 856h0M1303 394h0M1327 402h0M1313 424h0M1339 425h0M1312 426h0M1333 429h0M1328 431h0M1311 431h0M1305 434h0M1325 441h0M1328 446h0M1304 456h0M1327 458h0M1331 470h0M1337 477h0M1321 486h0M1330 500h0M1313 502h0M1332 502h0M1324 504h0M1320 505h0M1311 508h0M1310 512h0M1300 521h0M1309 521h0M1331 526h0M1329 530h0M1304 533h0M1319 535h0M1322 541h0M1332 543h0M1304 555h0M1323 567h0M1336 596h0M1335 611h0M1337 615h0M1326 629h0M1314 640h0M1334 645h0M1303 647h0M1312 660h0M1313 669h0M1332 679h0M1340 688h0M1308 699h0M1323 702h0M1332 714h0M1324 717h0M1316 721h0M1305 726h0M1316 727h0M1307 745h0M1301 755h0M1336 756h0M1309 757h0M1308 764h0M1322 768h0M1306 768h0M1307 776h0M1337 781h0M1321 783h0M1333 789h0M1310 798h0M1311 799h0M1316 799h0M1320 800h0M1313 805h0M1312 807h0M1325 847h0M1345 436h0M1344 438h0M1351 452h0M1359 460h0M1378 460h0M1348 460h0M1366 460h0M1365 469h0M1343 470h0M1344 471h0M1369 475h0M1372 479h0M1379 479h0M1375 486h0M1379 487h0M1369 488h0M1350 493h0M1372 494h0M1362 497h0M1364 513h0M1364 520h0M1372 525h0M1347 531h0M1365 550h0M1354 552h0M1342 557h0M1369 562h0M1366 565h0M1378 565h0M1376 572h0M1359 582h0M1341 597h0M1371 599h0M1365 599h0M1362 599h0M1368 612h0M1370 619h0M1370 622h0M1354 643h0M1343 644h0M1374 657h0M1342 668h0M1358 684h0M1357 692h0M1371 704h0M1346 705h0M1371 706h0M1366 708h0M1367 709h0M1352 714h0M1359 717h0M1359 718h0M1346 719h0M1378 721h0M1352 722h0M1367 733h0M1365 738h0M1341 740h0M1372 751h0M1352 767h0M1343 770h0M1365 772h0M1343 778h0M1362 792h0M1345 797h0M1394 469h0M1389 471h0M1410 474h0M1394 487h0M1413 487h0M1397 495h0M1408 505h0M1399 508h0M1407 510h0M1394 519h0M1396 531h0M1414 536h0M1414 536h0M1395 539h0M1411 544h0M1420 556h0M1390 560h0M1418 563h0M1393 578h0M1405 593h0M1398 599h0M1408 600h0M1417 657h0M1416 668h0M1411 676h0M1396 687h0M1412 693h0M1412 694h0M1387 699h0M1395 701h0M1402 718h0M1402 764h0M1387 766h0M1381 779h0M1412 816h0M1403 818h0M1407 841h0M1406 852h0M1453 393h0M1436 395h0M1428 395h0M1447 408h0M1459 427h0M1439 439h0M1457 450h0M1455 457h0M1422 473h0M1425 474h0M1429 485h0M1422 488h0M1433 509h0M1431 510h0M1445 522h0M1446 525h0M1425 540h0M1451 542h0M1442 545h0M1429 548h0M1432 550h0M1443 551h0M1435 552h0M1426 553h0M1429 565h0M1458 639h0M1448 700h0M1427 732h0M1443 750h0M1430 763h0M1450 795h0M1439 806h0M1448 806h0M1448 813h0M1445 817h0M1440 820h0M1422 830h0M1437 830h0M1436 831h0M1449 835h0M1435 840h0M1446 845h0M1442 862h0M1435 867h0M1426 871h0M1430 873h0M1448 873h0M1421 875h0M1439 882h0M1458 882h0M1443 897h0M1454 899h0M1457 899h0M1463 403h0M1467 407h0M1480 412h0M1462 413h0M1488 423h0M1472 423h0M1469 428h0M1471 429h0M1486 433h0M1463 448h0M1477 452h0M1488 452h0M1494 456h0M1485 457h0M1484 457h0M1466 498h0M1491 501h0M1474 502h0M1500 513h0M1473 519h0M1479 524h0M1499 525h0M1490 525h0M1481 530h0M1489 531h0M1485 545h0M1485 546h0M1483 547h0M1475 552h0M1479 557h0M1462 557h0M1480 561h0M1486 564h0M1478 577h0M1487 590h0M1485 592h0M1477 596h0M1496 603h0M1487 614h0M1474 625h0M1461 634h0M1498 731h0M1471 796h0M1468 799h0M1481 801h0M1470 802h0M1483 811h0M1468 826h0M1488 839h0M1498 847h0M1479 853h0M1465 863h0M1465 868h0M1488 879h0M1470 886h0M1472 890h0M1468 894h0M1463 904h0M1494 910h0M1498 913h0M1477 916h0M1468 919h0M1491 932h0M1514 446h0M1507 464h0M1507 471h0M1504 478h0M1536 486h0M1519 488h0M1507 488h0M1517 494h0M1502 494h0M1517 497h0M1503 505h0M1521 508h0M1523 512h0M1527 518h0M1501 523h0M1507 526h0M1511 530h0M1515 537h0M1512 538h0M1531 541h0M1514 543h0M1516 544h0M1534 547h0M1535 548h0M1534 548h0M1501 550h0M1510 552h0M1510 556h0M1507 565h0M1526 565h0M1527 566h0M1538 575h0M1507 576h0M1502 582h0M1519 583h0M1511 585h0M1523 687h0M1533 699h0M1505 712h0M1524 712h0M1531 715h0M1526 720h0M1502 721h0M1533 729h0M1526 737h0M1532 739h0M1504 743h0M1534 751h0M1511 843h0M1515 848h0M1515 879h0M1513 887h0M1523 894h0M1515 899h0M1520 903h0M1540 502h0M1540 563h0M1575 648h0M1549 671h0M1564 700h0M1572 701h0M1564 704h0M1571 710h0M1556 714h0M1555 726h0M1553 742h0M1616 625h0M1593 637h0M1589 660h0M1581 660h0M1610 671h0M1586 672h0M1597 674h0M1584 676h0M1581 677h0M1618 680h0M1582 687h0M1604 697h0M1599 702h0M1599 706h0M1590 710h0M1613 720h0M1636 608h0M1626 614h0M1634 624h0M1656 627h0M1655 646h0M1645 648h0M1629 652h0M1630 655h0M1648 657h0M1643 662h0M1650 662h0M1651 664h0M1636 664h0M1631 668h0M1648 674h0M1635 678h0M1646 682h0M1634 688h0M1648 694h0M1650 702h0M1622 710h0M1632 711h0M1627 713h0M1621 715h0M1622 728h0M1682 582h0M1696 587h0M1667 593h0M1677 596h0M1695 600h0M1687 600h0M1695 612h0M1698 618h0M1697 620h0M1692 621h0M1697 623h0M1685 634h0M1699 636h0M1689 657h0M1674 658h0M1680 665h0M1684 671h0M1684 673h0M1675 675h0M1660 678h0M1670 683h0M1691 687h0M1683 689h0M1670 692h0M1684 699h0M1689 701h0M1675 711h0M1705 618h0M1706 619h0M1705 625h0M1710 627h0M1705 636h0M1705 637h0M1704 644h0"/>
<path stroke="#c03a76" d="M364 703h0M370 707h0M372 709h0M378 715h0M437 564h0M442 566h0M507 677h0M506 677h0M616 380h0M618 390h0M618 394h0M618 411h0M619 456h0M600 721h0M607 723h0M606 724h0M608 726h0M611 726h0M631 391h0M622 393h0M624 394h0M628 395h0M623 396h0M635 396h0M628 409h0M641 448h0M646 456h0M623 456h0M656 464h0M679 383h0M669 385h0M696 474h0M690 478h0M675 479h0M714 464h0M777 251h0M770 262h0M772 271h0M767 280h0M768 284h0M779 297h0M770 451h0M744 451h0M773 453h0M775 455h0M807 243h0M801 292h0M807 436h0M784 438h0M810 440h0M806 441h0M797 448h0M788 449h0M820 451h0M797 460h0M801 465h0M814 473h0M792 477h0M811 485h0M781 486h0M784 487h0M797 490h0M805 490h0M806 497h0M794 504h0M813 506h0M807 512h0M848 235h0M852 245h0M831 246h0M839 257h0M833 258h0M824 278h0M844 282h0M841 287h0M852 307h0M823 352h0M860 352h0M852 356h0M829 379h0M835 448h0M839 464h0M844 467h0M845 468h0M847 469h0M849 482h0M834 482h0M825 483h0M822 486h0M859 507h0M843 508h0M837 509h0M878 263h0M888 276h0M870 295h0M864 304h0M875 341h0M891 346h0M878 349h0M862 367h0M882 375h0M860 481h0M867 504h0M900 219h0M905 228h0M903 270h0M911 295h0M901 305h0M920 312h0M944 273h0M979 1083h0M966 1102h0M966 1126h0M1020 295h0M991 304h0M984 307h0M988 1088h0M1017 1090h0M1000 1092h0M1017 1094h0M1001 1099h0M983 1102h0M1006 1105h0M1003 1107h0M996 1114h0M989 1128h0M1003 1139h0M986 1140h0M1053 519h0M1026 537h0M1030 541h0M1043 583h0M1021 1089h0M1031 1092h0M1044 1093h0M1048 1107h0M1040 1111h0M1021 1149h0M1029 1157h0M1060 1166h0M1045 1166h0M1051 1168h0M1047 1174h0M1051 1175h0M1092 384h0M1092 386h0M1081 388h0M1094 417h0M1094 445h0M1082 502h0M1086 519h0M1069 522h0M1068 530h0M1096 534h0M1088 535h0M1085 536h0M1073 547h0M1062 547h0M1082 552h0M1085 573h0M1077 1105h0M1084 1114h0M1088 1116h0M1080 1125h0M1061 1140h0M1091 1142h0M1068 1144h0M1065 1150h0M1088 1152h0M1088 1156h0M1083 1159h0M1073 1171h0M1066 1175h0M1068 1188h0M1121 342h0M1106 388h0M1135 400h0M1136 433h0M1136 499h0M1106 516h0M1111 521h0M1107 534h0M1112 539h0M1118 573h0M1101 574h0M1118 576h0M1119 598h0M1132 606h0M1101 617h0M1135 623h0M1112 635h0M1130 661h0M1107 1100h0M1114 1103h0M1134 1122h0M1120 1129h0M1130 1143h0M1110 1144h0M1113 1152h0M1122 1153h0M1122 1155h0M1130 1156h0M1118 1156h0M1114 1162h0M1118 1167h0M1109 1172h0M1118 1172h0M1134 1179h0M1112 1179h0M1135 1187h0M1140 1196h0M1124 1197h0M1131 1199h0M1128 1208h0M1102 1209h0M1106 1218h0M1165 338h0M1148 339h0M1152 351h0M1153 393h0M1145 432h0M1143 534h0M1158 543h0M1172 577h0M1165 605h0M1179 606h0M1171 608h0M1167 613h0M1147 616h0M1152 622h0M1168 625h0M1157 628h0M1160 629h0M1157 645h0M1158 661h0M1144 665h0M1175 767h0M1147 773h0M1160 774h0M1167 774h0M1178 781h0M1172 783h0M1170 783h0M1158 792h0M1155 798h0M1167 799h0M1179 826h0M1150 827h0M1176 829h0M1172 838h0M1171 849h0M1218 379h0M1188 403h0M1210 420h0M1208 420h0M1211 425h0M1212 439h0M1208 449h0M1183 487h0M1208 562h0M1203 601h0M1199 618h0M1203 629h0M1217 631h0M1220 637h0M1208 655h0M1196 659h0M1190 672h0M1186 672h0M1196 673h0M1182 705h0M1202 740h0M1199 753h0M1205 756h0M1190 757h0M1189 789h0M1203 803h0M1217 814h0M1220 821h0M1183 825h0M1201 839h0M1202 840h0M1196 841h0M1219 848h0M1196 860h0M1226 344h0M1227 345h0M1234 353h0M1258 372h0M1232 396h0M1245 443h0M1243 446h0M1257 457h0M1235 477h0M1235 503h0M1244 504h0M1246 509h0M1240 512h0M1257 520h0M1257 521h0M1237 522h0M1256 530h0M1249 531h0M1231 548h0M1236 550h0M1242 551h0M1249 552h0M1242 559h0M1227 579h0M1221 589h0M1225 632h0M1241 656h0M1243 693h0M1226 702h0M1221 702h0M1236 748h0M1231 753h0M1232 754h0M1239 755h0M1248 773h0M1241 781h0M1237 802h0M1225 803h0M1241 807h0M1226 808h0M1221 811h0M1257 823h0M1241 827h0M1252 831h0M1238 831h0M1242 845h0M1240 847h0M1231 847h0M1266 352h0M1296 368h0M1263 377h0M1296 385h0M1283 397h0M1266 409h0M1286 411h0M1271 478h0M1290 479h0M1294 480h0M1267 507h0M1263 516h0M1270 516h0M1268 523h0M1291 547h0M1290 557h0M1263 559h0M1287 576h0M1294 579h0M1268 581h0M1262 675h0M1282 723h0M1278 738h0M1288 749h0M1265 753h0M1291 753h0M1279 766h0M1292 772h0M1281 773h0M1282 774h0M1287 777h0M1273 778h0M1286 784h0M1286 795h0M1290 795h0M1278 796h0M1286 798h0M1283 798h0M1267 803h0M1276 805h0M1292 815h0M1270 817h0M1275 827h0M1289 834h0M1264 847h0M1294 849h0M1292 849h0M1313 383h0M1321 411h0M1303 438h0M1339 459h0M1325 471h0M1301 472h0M1337 478h0M1311 484h0M1307 484h0M1314 518h0M1302 521h0M1339 522h0M1310 526h0M1330 530h0M1337 537h0M1313 544h0M1338 557h0M1316 569h0M1308 574h0M1318 582h0M1317 616h0M1315 619h0M1331 647h0M1320 679h0M1308 701h0M1333 715h0M1320 719h0M1330 720h0M1338 727h0M1308 754h0M1316 755h0M1303 756h0M1316 773h0M1307 791h0M1335 797h0M1330 797h0M1336 798h0M1319 801h0M1338 802h0M1318 848h0M1350 458h0M1342 459h0M1363 464h0M1372 465h0M1357 468h0M1377 473h0M1361 480h0M1379 480h0M1365 483h0M1374 489h0M1379 509h0M1368 510h0M1370 515h0M1375 544h0M1341 556h0M1370 558h0M1355 561h0M1375 561h0M1359 564h0M1352 570h0M1377 580h0M1368 594h0M1353 612h0M1351 625h0M1373 647h0M1343 665h0M1361 666h0M1349 677h0M1365 687h0M1359 688h0M1374 690h0M1343 698h0M1347 708h0M1346 721h0M1344 746h0M1340 762h0M1340 762h0M1370 774h0M1370 779h0M1369 792h0M1364 796h0M1340 801h0M1392 458h0M1400 460h0M1393 462h0M1397 463h0M1403 471h0M1380 473h0M1403 476h0M1391 478h0M1381 480h0M1418 483h0M1414 488h0M1382 495h0M1404 497h0M1401 502h0M1396 523h0M1384 529h0M1403 535h0M1418 539h0M1416 543h0M1383 545h0M1390 547h0M1408 579h0M1395 583h0M1408 592h0M1393 599h0M1412 656h0M1407 707h0M1381 715h0M1386 751h0M1383 771h0M1416 773h0M1406 818h0M1401 822h0M1418 831h0M1419 837h0M1401 844h0M1418 849h0M1392 858h0M1434 408h0M1455 467h0M1422 477h0M1421 487h0M1425 492h0M1425 505h0M1450 576h0M1429 717h0M1429 732h0M1420 739h0M1457 802h0M1441 808h0M1425 808h0M1445 809h0M1451 813h0M1454 816h0M1427 824h0M1439 825h0M1421 826h0M1442 826h0M1449 827h0M1456 836h0M1440 838h0M1440 840h0M1448 841h0M1447 843h0M1444 843h0M1434 850h0M1433 851h0M1433 851h0M1443 852h0M1424 855h0M1426 859h0M1442 859h0M1425 863h0M1439 872h0M1438 879h0M1424 880h0M1425 882h0M1435 895h0M1459 903h0M1484 420h0M1485 449h0M1497 451h0M1498 460h0M1489 469h0M1497 475h0M1498 475h0M1466 494h0M1478 505h0M1497 508h0M1461 537h0M1500 546h0M1499 554h0M1476 558h0M1489 583h0M1492 598h0M1483 602h0M1470 616h0M1490 727h0M1468 799h0M1466 803h0M1481 810h0M1468 812h0M1465 812h0M1487 819h0M1492 827h0M1477 829h0M1497 837h0M1474 849h0M1472 849h0M1486 850h0M1480 857h0M1481 868h0M1472 874h0M1464 884h0M1476 884h0M1460 892h0M1494 900h0M1462 914h0M1489 934h0M1492 935h0M1506 442h0M1502 462h0M1528 465h0M1514 471h0M1504 473h0M1519 479h0M1509 485h0M1522 486h0M1500 486h0M1531 496h0M1529 523h0M1515 535h0M1503 544h0M1523 577h0M1537 580h0M1506 594h0M1501 600h0M1527 679h0M1529 680h0M1527 687h0M1526 698h0M1527 709h0M1538 712h0M1524 713h0M1511 733h0M1516 737h0M1520 738h0M1523 740h0M1524 744h0M1511 831h0M1503 836h0M1500 841h0M1506 841h0M1523 843h0M1521 877h0M1517 879h0M1508 880h0M1521 882h0M1522 885h0M1516 904h0M1567 672h0M1564 674h0M1562 693h0M1571 694h0M1572 706h0M1573 706h0M1552 713h0M1564 738h0M1565 747h0M1606 677h0M1617 687h0M1615 693h0M1617 706h0M1590 722h0M1582 723h0M1653 621h0M1659 648h0M1645 661h0M1658 662h0M1632 672h0M1636 688h0M1656 713h0M1686 602h0M1663 620h0M1669 627h0M1679 664h0M1678 669h0M1677 674h0M1716 651h0M1706 665h0M1721 667h0"/>
<path stroke="#f1605d" d="M365 703h0M373 708h0M437 563h0M448 570h0M625 389h0M653 406h0M655 408h0M639 447h0M624 456h0M643 458h0M637 461h0M702 474h0M802 267h0M797 459h0M790 490h0M818 496h0M792 499h0M789 501h0M848 296h0M846 344h0M839 356h0M855 356h0M892 235h0M863 247h0M880 296h0M868 349h0M888 351h0M872 506h0M866 513h0M965 247h0M977 1103h0M966 1118h0M990 1100h0M991 1103h0M1016 1135h0M1037 537h0M1043 1095h0M1037 1100h0M1057 1102h0M1056 1145h0M1093 342h0M1064 362h0M1092 382h0M1091 431h0M1072 504h0M1060 580h0M1094 1108h0M1080 1118h0M1074 1122h0M1099 1140h0M1068 1143h0M1089 1152h0M1072 1190h0M1117 357h0M1123 425h0M1100 567h0M1113 575h0M1139 587h0M1128 587h0M1112 1121h0M1108 1139h0M1104 1185h0M1112 1191h0M1137 1191h0M1130 1195h0M1130 1206h0M1121 1216h0M1151 352h0M1171 380h0M1150 410h0M1143 621h0M1146 759h0M1164 759h0M1143 795h0M1175 829h0M1179 830h0M1171 838h0M1165 840h0M1163 841h0M1160 849h0M1179 852h0M1174 852h0M1141 1188h0M1188 396h0M1194 595h0M1186 788h0M1213 797h0M1218 798h0M1198 811h0M1206 812h0M1207 844h0M1218 850h0M1260 493h0M1249 521h0M1259 528h0M1240 653h0M1238 659h0M1224 667h0M1236 700h0M1254 742h0M1256 748h0M1248 765h0M1224 777h0M1237 777h0M1225 777h0M1226 784h0M1239 788h0M1251 801h0M1256 833h0M1298 469h0M1292 480h0M1299 482h0M1293 576h0M1264 579h0M1287 580h0M1267 585h0M1267 589h0M1268 623h0M1274 755h0M1277 766h0M1293 799h0M1268 812h0M1274 828h0M1273 835h0M1262 839h0M1261 840h0M1285 855h0M1331 497h0M1306 533h0M1314 556h0M1335 562h0M1311 601h0M1318 637h0M1315 708h0M1326 724h0M1301 749h0M1305 764h0M1319 778h0M1314 783h0M1329 796h0M1313 804h0M1317 805h0M1377 446h0M1369 451h0M1376 515h0M1365 565h0M1345 591h0M1364 665h0M1374 789h0M1354 794h0M1343 848h0M1391 493h0M1416 500h0M1409 523h0M1399 591h0M1385 602h0M1382 633h0M1413 771h0M1411 825h0M1416 847h0M1442 533h0M1446 672h0M1448 684h0M1438 736h0M1435 778h0M1432 801h0M1428 831h0M1432 833h0M1427 848h0M1441 871h0M1422 873h0M1431 883h0M1491 434h0M1487 453h0M1487 456h0M1488 581h0M1487 586h0M1464 801h0M1460 821h0M1477 852h0M1466 858h0M1480 861h0M1482 863h0M1489 874h0M1500 885h0M1473 892h0M1498 896h0M1466 902h0M1472 904h0M1463 914h0M1517 464h0M1532 478h0M1504 505h0M1529 521h0M1504 524h0M1518 541h0M1523 553h0M1532 679h0M1522 690h0M1540 704h0M1510 726h0M1507 827h0M1518 836h0M1511 837h0M1501 860h0M1541 508h0M1542 557h0M1573 654h0M1541 722h0M1576 723h0M1587 692h0M1648 662h0M1627 677h0M1632 702h0M1666 658h0M1690 675h0M1698 678h0M1693 687h0"/>
<path stroke="#fc9065" d="M364 704h0M367 705h0M372 707h0M380 714h0M382 714h0M439 563h0M449 571h0M447 571h0M512 678h0M509 681h0M517 681h0M516 686h0M518 686h0M612 392h0M614 393h0M591 715h0M598 720h0M602 721h0M795 298h0M824 476h0M853 496h0M1050 1149h0M1124 660h0M1128 1112h0M1130 1115h0M1127 1127h0M1112 1136h0M1135 1176h0M1128 1184h0M1123 1213h0M1101 1215h0M1180 760h0M1167 846h0M1208 342h0M1188 633h0M1197 802h0M1204 838h0M1191 840h0M1205 845h0M1252 583h0M1250 732h0M1225 757h0M1242 767h0M1237 815h0M1242 847h0M1242 848h0M1273 476h0M1275 505h0M1277 712h0M1287 737h0M1300 813h0M1270 823h0M1322 660h0M1315 761h0M1352 573h0M1380 725h0M1348 852h0M1402 546h0M1388 720h0M1415 833h0M1403 840h0M1462 796h0M1486 838h0M1518 897h0M1571 680h0M1552 707h0M1570 712h0M1705 691h0"/>
<path stroke="#fcdc9c" d="M1049 1114h0M1165 845h0M1389 857h0"/>
</g>
<g stroke="#000" stroke-width="4.5" fill="none">
<path d="M222.5 142.5V1302.2H1828.5"/>
<path d="M207.5 155.3H222.5M207.5 365.7H222.5M207.5 576.1H222.5M207.5 786.5H222.5M207.5 996.9H222.5M207.5 1207.3H222.5"/>
<path d="M631.7 1302.2V1316.7M1192.8 1302.2V1316.7M1753.9 1302.2V1316.7"/>
</g>
<rect x="1885.3" y="578" width="63.5" height="318.6" fill="url(#mg)"/>
<g stroke="#fff" stroke-width="2" fill="none">
<path d="M1885.3 590.7h12.7M1936.1 590.7h12.7M1885.3 667.3h12.7M1936.1 667.3h12.7M1885.3 743.9h12.7M1936.1 743.9h12.7M1885.3 820.5h12.7M1936.1 820.5h12.7M1885.3 896.6h12.7M1936.1 896.6h12.7"/>
</g>
<text x="1026" y="101" font-size="71" font-weight="bold" text-anchor="middle" textLength="216" lengthAdjust="spacingAndGlyphs">PRDX3</text>
<text x="1022" y="1435" font-size="62" text-anchor="middle" textLength="223" lengthAdjust="spacingAndGlyphs">UMAP_1</text>
<text transform="translate(95,724) rotate(-90)" font-size="62" text-anchor="middle" textLength="233" lengthAdjust="spacingAndGlyphs">UMAP_2</text>
<g font-size="52" text-anchor="end">
<text x="195.5" y="173">15</text>
<text x="195.5" y="383">10</text>
<text x="195.5" y="594">5</text>
<text x="195.5" y="804">0</text>
<text x="195.5" y="1015">-5</text>
<text x="195.5" y="1225">-10</text>
</g>
<g font-size="52" text-anchor="middle">
<text x="632" y="1367">0</text>
<text x="1194" y="1367">10</text>
<text x="1754" y="1367">20</text>
</g>
<g font-size="52">
<text x="1976.5" y="609">2.0</text>
<text x="1976.5" y="686">1.5</text>
<text x="1976.5" y="762">1.0</text>
<text x="1976.5" y="839">0.5</text>
<text x="1976.5" y="915">0.0</text>
</g>
</svg></body></html>
